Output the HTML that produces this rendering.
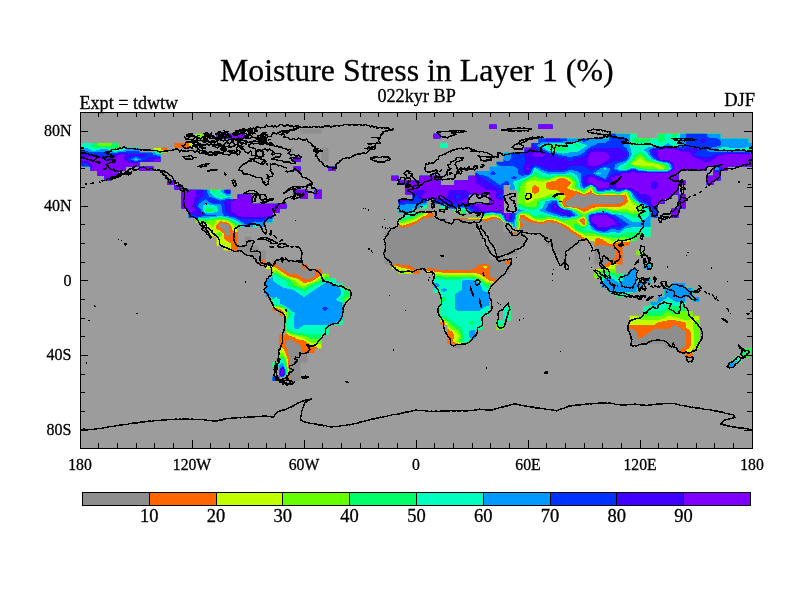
<!DOCTYPE html>
<html><head><meta charset="utf-8"><title>Moisture Stress in Layer 1 (%)</title>
<style>html,body{margin:0;padding:0;background:#fff;width:800px;height:600px;overflow:hidden}svg{display:block}</style>
</head><body>
<svg width="800" height="600" viewBox="0 0 800 600">
<rect width="800" height="600" fill="#fff"/>
<rect x="80" y="112" width="672" height="336" fill="#9c9c9c"/>
<defs><clipPath id="land"><path d="M489.5 124.4H496.5V129.1H489.5ZM538.5 124.4H552.5V129.1H538.5ZM300.5 129.1H321.5V133.8H300.5ZM195.5 133.8H202.5V138.4H195.5ZM216.5 133.8H244.5V138.4H216.5ZM433.5 133.8H440.5V138.4H433.5ZM608.5 133.8H636.5V138.4H608.5ZM657.5 133.8H720.5V138.4H657.5ZM538.5 138.4H748.5V143.1H538.5ZM80 143.1H118.5V147.8H80ZM174.5 143.1H195.5V147.8H174.5ZM440.5 143.1H447.5V147.8H440.5ZM531.5 143.1H752V147.8H531.5ZM80 147.8H139.5V152.4H80ZM153.5 147.8H167.5V152.4H153.5ZM286.5 147.8H293.5V152.4H286.5ZM321.5 147.8H328.5V152.4H321.5ZM524.5 147.8H752V152.4H524.5ZM80 152.4H160.5V157.1H80ZM321.5 152.4H328.5V157.1H321.5ZM503.5 152.4H752V157.1H503.5ZM80 157.1H160.5V161.8H80ZM293.5 157.1H300.5V161.8H293.5ZM321.5 157.1H328.5V161.8H321.5ZM503.5 157.1H752V161.8H503.5ZM80 161.8H139.5V166.4H80ZM496.5 161.8H752V166.4H496.5ZM90.5 166.4H125.5V171.1H90.5ZM139.5 166.4H153.5V171.1H139.5ZM293.5 166.4H300.5V171.1H293.5ZM328.5 166.4H335.5V171.1H328.5ZM489.5 166.4H706.5V171.1H489.5ZM713.5 166.4H727.5V171.1H713.5ZM97.5 171.1H118.5V175.8H97.5ZM475.5 171.1H678.5V175.8H475.5ZM713.5 171.1H720.5V175.8H713.5ZM104.5 175.8H111.5V180.4H104.5ZM391.5 175.8H398.5V180.4H391.5ZM419.5 175.8H440.5V180.4H419.5ZM468.5 175.8H678.5V180.4H468.5ZM706.5 175.8H720.5V180.4H706.5ZM167.5 180.4H174.5V185.1H167.5ZM398.5 180.4H440.5V185.1H398.5ZM454.5 180.4H685.5V185.1H454.5ZM706.5 180.4H713.5V185.1H706.5ZM174.5 185.1H181.5V189.8H174.5ZM405.5 185.1H503.5V189.8H405.5ZM510.5 185.1H678.5V189.8H510.5ZM181.5 189.8H230.5V194.4H181.5ZM293.5 189.8H307.5V194.4H293.5ZM314.5 189.8H321.5V194.4H314.5ZM405.5 189.8H503.5V194.4H405.5ZM517.5 189.8H678.5V194.4H517.5ZM181.5 194.4H230.5V199.1H181.5ZM237.5 194.4H251.5V199.1H237.5ZM300.5 194.4H307.5V199.1H300.5ZM314.5 194.4H321.5V199.1H314.5ZM412.5 194.4H468.5V199.1H412.5ZM489.5 194.4H503.5V199.1H489.5ZM517.5 194.4H671.5V199.1H517.5ZM678.5 194.4H685.5V199.1H678.5ZM181.5 199.1H251.5V203.8H181.5ZM398.5 199.1H426.5V203.8H398.5ZM433.5 199.1H468.5V203.8H433.5ZM489.5 199.1H503.5V203.8H489.5ZM517.5 199.1H664.5V203.8H517.5ZM678.5 199.1H685.5V203.8H678.5ZM181.5 203.8H286.5V208.4H181.5ZM398.5 203.8H426.5V208.4H398.5ZM440.5 203.8H503.5V208.4H440.5ZM517.5 203.8H657.5V208.4H517.5ZM678.5 203.8H685.5V208.4H678.5ZM188.5 208.4H279.5V213.1H188.5ZM398.5 208.4H412.5V213.1H398.5ZM454.5 208.4H503.5V213.1H454.5ZM517.5 208.4H657.5V213.1H517.5ZM671.5 208.4H678.5V213.1H671.5ZM188.5 213.1H272.5V217.8H188.5ZM405.5 213.1H433.5V217.8H405.5ZM482.5 213.1H657.5V217.8H482.5ZM671.5 213.1H678.5V217.8H671.5ZM195.5 217.8H272.5V222.4H195.5ZM398.5 217.8H447.5V222.4H398.5ZM454.5 217.8H650.5V222.4H454.5ZM202.5 222.4H265.5V227.1H202.5ZM398.5 222.4H475.5V227.1H398.5ZM482.5 222.4H503.5V227.1H482.5ZM510.5 222.4H650.5V227.1H510.5ZM209.5 227.1H237.5V231.8H209.5ZM391.5 227.1H475.5V231.8H391.5ZM482.5 227.1H503.5V231.8H482.5ZM517.5 227.1H650.5V231.8H517.5ZM209.5 231.8H237.5V236.4H209.5ZM384.5 231.8H482.5V236.4H384.5ZM489.5 231.8H524.5V236.4H489.5ZM538.5 231.8H650.5V236.4H538.5ZM216.5 236.4H237.5V241.1H216.5ZM244.5 236.4H251.5V241.1H244.5ZM384.5 236.4H482.5V241.1H384.5ZM489.5 236.4H524.5V241.1H489.5ZM545.5 236.4H636.5V241.1H545.5ZM216.5 241.1H237.5V245.8H216.5ZM244.5 241.1H251.5V245.8H244.5ZM384.5 241.1H482.5V245.8H384.5ZM489.5 241.1H524.5V245.8H489.5ZM545.5 241.1H580.5V245.8H545.5ZM594.5 241.1H629.5V245.8H594.5ZM223.5 245.8H258.5V250.4H223.5ZM384.5 245.8H489.5V250.4H384.5ZM496.5 245.8H517.5V250.4H496.5ZM552.5 245.8H573.5V250.4H552.5ZM594.5 245.8H622.5V250.4H594.5ZM244.5 250.4H265.5V255.1H244.5ZM384.5 250.4H489.5V255.1H384.5ZM496.5 250.4H517.5V255.1H496.5ZM552.5 250.4H566.5V255.1H552.5ZM594.5 250.4H622.5V255.1H594.5ZM636.5 250.4H643.5V255.1H636.5ZM251.5 255.1H265.5V259.8H251.5ZM384.5 255.1H489.5V259.8H384.5ZM496.5 255.1H503.5V259.8H496.5ZM559.5 255.1H566.5V259.8H559.5ZM594.5 255.1H622.5V259.8H594.5ZM258.5 259.8H265.5V264.4H258.5ZM272.5 259.8H300.5V264.4H272.5ZM384.5 259.8H510.5V264.4H384.5ZM559.5 259.8H566.5V264.4H559.5ZM594.5 259.8H622.5V264.4H594.5ZM265.5 264.4H307.5V269.1H265.5ZM391.5 264.4H510.5V269.1H391.5ZM601.5 264.4H615.5V269.1H601.5ZM643.5 264.4H650.5V269.1H643.5ZM272.5 269.1H321.5V273.8H272.5ZM398.5 269.1H419.5V273.8H398.5ZM426.5 269.1H510.5V273.8H426.5ZM594.5 269.1H615.5V273.8H594.5ZM629.5 269.1H636.5V273.8H629.5ZM272.5 273.8H328.5V278.4H272.5ZM433.5 273.8H503.5V278.4H433.5ZM594.5 273.8H636.5V278.4H594.5ZM265.5 278.4H335.5V283.1H265.5ZM433.5 278.4H496.5V283.1H433.5ZM601.5 278.4H636.5V283.1H601.5ZM643.5 278.4H650.5V283.1H643.5ZM265.5 283.1H342.5V287.8H265.5ZM433.5 283.1H489.5V287.8H433.5ZM601.5 283.1H643.5V287.8H601.5ZM671.5 283.1H685.5V287.8H671.5ZM265.5 287.8H349.5V292.4H265.5ZM433.5 287.8H489.5V292.4H433.5ZM608.5 287.8H636.5V292.4H608.5ZM664.5 287.8H692.5V292.4H664.5ZM265.5 292.4H349.5V297.1H265.5ZM440.5 292.4H489.5V297.1H440.5ZM615.5 292.4H629.5V297.1H615.5ZM664.5 292.4H692.5V297.1H664.5ZM272.5 297.1H349.5V301.8H272.5ZM440.5 297.1H489.5V301.8H440.5ZM657.5 297.1H685.5V301.8H657.5ZM692.5 297.1H699.5V301.8H692.5ZM272.5 301.8H342.5V306.4H272.5ZM440.5 301.8H489.5V306.4H440.5ZM650.5 301.8H685.5V306.4H650.5ZM272.5 306.4H342.5V311.1H272.5ZM440.5 306.4H489.5V311.1H440.5ZM503.5 306.4H510.5V311.1H503.5ZM643.5 306.4H685.5V311.1H643.5ZM279.5 311.1H342.5V315.8H279.5ZM440.5 311.1H489.5V315.8H440.5ZM503.5 311.1H510.5V315.8H503.5ZM643.5 311.1H692.5V315.8H643.5ZM286.5 315.8H342.5V320.4H286.5ZM440.5 315.8H482.5V320.4H440.5ZM503.5 315.8H510.5V320.4H503.5ZM629.5 315.8H699.5V320.4H629.5ZM286.5 320.4H342.5V325.1H286.5ZM440.5 320.4H482.5V325.1H440.5ZM496.5 320.4H503.5V325.1H496.5ZM629.5 320.4H699.5V325.1H629.5ZM286.5 325.1H328.5V329.8H286.5ZM447.5 325.1H482.5V329.8H447.5ZM496.5 325.1H503.5V329.8H496.5ZM629.5 325.1H699.5V329.8H629.5ZM286.5 329.8H328.5V334.4H286.5ZM447.5 329.8H475.5V334.4H447.5ZM629.5 329.8H699.5V334.4H629.5ZM279.5 334.4H321.5V339.1H279.5ZM447.5 334.4H475.5V339.1H447.5ZM629.5 334.4H699.5V339.1H629.5ZM279.5 339.1H321.5V343.8H279.5ZM447.5 339.1H468.5V343.8H447.5ZM629.5 339.1H699.5V343.8H629.5ZM279.5 343.8H321.5V348.4H279.5ZM454.5 343.8H461.5V348.4H454.5ZM664.5 343.8H699.5V348.4H664.5ZM279.5 348.4H314.5V353.1H279.5ZM678.5 348.4H692.5V353.1H678.5ZM741.5 348.4H752V353.1H741.5ZM279.5 353.1H307.5V357.8H279.5ZM685.5 353.1H692.5V357.8H685.5ZM741.5 353.1H748.5V357.8H741.5ZM279.5 357.8H307.5V362.4H279.5ZM734.5 357.8H741.5V362.4H734.5ZM272.5 362.4H300.5V367.1H272.5ZM727.5 362.4H734.5V367.1H727.5ZM279.5 367.1H300.5V371.8H279.5ZM279.5 371.8H300.5V376.4H279.5ZM272.5 376.4H279.5V381.1H272.5ZM286.5 376.4H300.5V381.1H286.5Z"/></clipPath></defs>
<g clip-path="url(#land)" shape-rendering="crispEdges">
<rect x="80" y="112" width="672" height="336" fill="#8e8e8e"/>
<path fill="#ff6600" fill-rule="evenodd" d="M80 112.8L87 112.8L94 112.8L101 112.8L108 112.8L115 112.8L122 112.8L129 112.8L136 112.8L143 112.8L150 112.8L157 112.8L164 112.8L171 112.8L178 112.8L185 112.8L192 112.8L199 112.8L206 112.8L213 112.8L220 112.8L227 112.8L234 112.8L241 112.8L248 112.8L255 112.8L262 112.8L269 112.8L275.5 112.8L275.5 117.4L275.5 122.1L275.5 126.8L275.5 131.4L275.5 136.1L269 140.4L268.5 140.8L268.5 145.4L262 149.7L261.5 150.1L261.5 154.8L261.5 159.4L255 163.7L254.5 164.1L255 164.5L262 164.5L262.5 164.1L269 159.8L276 159.8L276.5 159.4L283 155.1L290 155.1L290.5 154.8L297 150.5L304 150.5L310.5 154.8L311 155.1L317.5 159.4L317.5 164.1L318 164.5L325 164.5L325.5 164.1L332 159.8L339 159.8L339.5 159.4L346 155.1L353 155.1L360 155.1L360.5 154.8L367 150.5L367.5 150.1L374 145.8L374.5 145.4L374.5 140.8L374.5 136.1L374.5 131.4L374.5 126.8L374.5 122.1L374.5 117.4L374.5 112.8L381 112.8L388 112.8L395 112.8L402 112.8L409 112.8L416 112.8L423 112.8L430 112.8L437 112.8L444 112.8L451 112.8L458 112.8L465 112.8L472 112.8L479 112.8L486 112.8L493 112.8L500 112.8L507 112.8L514 112.8L521 112.8L528 112.8L535 112.8L542 112.8L549 112.8L556 112.8L563 112.8L570 112.8L577 112.8L584 112.8L591 112.8L598 112.8L605 112.8L612 112.8L619 112.8L626 112.8L633 112.8L640 112.8L647 112.8L654 112.8L661 112.8L668 112.8L675 112.8L682 112.8L689 112.8L696 112.8L703 112.8L710 112.8L717 112.8L724 112.8L731 112.8L738 112.8L745 112.8L752 112.8L759 112.8L759 117.4L759 122.1L759 126.8L759 131.4L759 136.1L759 140.8L759 145.4L759 150.1L759 154.8L759 159.4L759 164.1L759 168.8L759 173.4L759 178.1L759 182.8L759 187.4L759 192.1L759 196.8L759 201.4L759 206.1L759 210.8L759 215.4L759 220.1L759 224.8L759 229.4L759 234.1L759 238.8L759 243.4L759 248.1L759 252.8L759 257.4L759 262.1L759 266.8L759 271.4L759 276.1L759 280.8L759 285.4L759 290.1L759 294.8L759 299.4L759 304.1L759 308.8L759 313.4L759 318.1L759 322.8L759 327.4L759 332.1L759 336.8L759 341.4L759 346.1L759 350.8L759 355.4L759 360.1L759 364.8L759 369.4L759 374.1L759 378.8L759 383.4L759 388.1L759 392.8L759 397.4L759 402.1L759 406.8L759 411.4L759 416.1L759 420.8L759 425.4L759 430.1L759 434.8L759 439.4L759 444.1L759 448.8L759 453.4L752 453.4L745 453.4L738 453.4L731 453.4L724 453.4L717 453.4L710 453.4L703 453.4L696 453.4L689 453.4L682 453.4L675 453.4L668 453.4L661 453.4L654 453.4L647 453.4L640 453.4L633 453.4L626 453.4L619 453.4L612 453.4L605 453.4L602.1 453.4L602.1 448.8L605 446.8L609.1 444.1L609.1 439.4L612 437.5L616.1 434.8L616.1 430.1L616.1 425.4L619 423.5L623.1 420.8L623.1 416.1L623.1 411.4L626 409.5L630.1 406.8L630.1 402.1L633 400.2L637.1 397.4L637.1 392.8L640 390.8L644.1 388.1L644.1 383.4L647 381.5L651.1 378.8L654 376.8L658.1 374.1L658.1 369.4L661 367.5L665.1 364.8L665.1 360.1L668 358.2L672.1 355.4L675 353.5L679.1 350.8L682 348.8L686.1 346.1L686.1 341.4L686.1 336.8L686.1 332.1L682 329.4L679.1 327.4L675 324.7L670.9 327.4L668 329.4L661 329.4L654 329.4L649.9 332.1L647 334L642.9 336.8L640 338.7L637.1 336.8L637.1 332.1L633 329.4L626 329.4L619 329.4L612 329.4L605 329.4L598 329.4L591 329.4L584 329.4L577 329.4L570 329.4L569.1 332.1L569.1 336.8L569.1 341.4L568.5 346.1L563 349.7L561.5 350.8L561.5 355.4L561.5 360.1L561.5 364.8L561.5 369.4L561.5 374.1L561.5 378.8L556 382.4L554.5 383.4L554.5 388.1L554.5 392.8L554.5 397.4L554.5 402.1L549 405.7L543.5 402.1L542 401.1L536.5 397.4L536.5 392.8L535 391.7L529.5 388.1L528 387.1L522.5 383.4L521 382.8L514.9 378.8L514 378.1L507.9 374.1L507 373.5L500.9 369.4L500 368.8L493.9 364.8L493 364.1L486.9 360.1L486 359.5L479.9 355.4L479 354.8L472.9 350.8L472 350.1L465.9 346.1L465 345.5L458 345.1L453.9 346.1L451 348L446.9 350.8L444 352.7L439.9 355.4L437 357.4L432.9 360.1L430 362L425.9 364.8L423 366.7L418.9 369.4L416 371.4L411.9 374.1L409 376L404.9 378.8L402 380.7L397.9 383.4L395 385.4L388 385.4L385.1 383.4L381 381.9L374 381.9L369.2 378.8L367 377.3L360 377.3L355.2 374.1L353 372.6L348.2 369.4L346 367.9L339 366.7L336.1 364.8L332 362L325 362L322.1 360.1L318 357.4L315.1 355.4L311 352.7L304 352.7L301.1 350.8L301.1 346.1L297 343.4L294.1 341.4L290 338.7L285.9 341.4L285.9 346.1L287.8 350.8L288.5 355.4L289.1 360.1L289.2 364.8L289.5 369.4L289.5 374.1L289.3 378.8L289.3 383.4L289.3 388.1L289.3 392.8L289.3 397.4L289.3 402.1L289.3 406.8L289.3 411.4L289.3 416.1L289.3 420.8L289.3 425.4L289.3 430.1L289.3 434.8L289.3 439.4L289.3 444.1L289.3 448.8L289.3 453.4L283 453.4L276 453.4L269 453.4L262 453.4L255 453.4L248 453.4L241 453.4L234 453.4L227 453.4L220 453.4L213 453.4L206 453.4L199 453.4L192 453.4L185 453.4L178 453.4L171 453.4L164 453.4L157 453.4L150 453.4L143 453.4L136 453.4L129 453.4L122 453.4L115 453.4L108 453.4L101 453.4L94 453.4L87 453.4L80 453.4L80 448.8L80 444.1L80 439.4L80 434.8L80 430.1L80 425.4L80 420.8L80 416.1L80 411.4L80 406.8L80 402.1L80 397.4L80 392.8L80 388.1L80 383.4L80 378.8L80 374.1L80 369.4L80 364.8L80 360.1L80 355.4L80 350.8L80 346.1L80 341.4L80 336.8L80 332.1L80 327.4L80 322.8L80 318.1L80 313.4L80 308.8L80 304.1L80 299.4L80 294.8L80 290.1L80 285.4L80 280.8L80 276.1L80 271.4L80 266.8L80 262.1L80 257.4L80 252.8L80 248.1L80 243.4L80 238.8L80 234.1L80 229.4L80 224.8L80 220.1L80 215.4L80 210.8L80 206.1L80 201.4L80 196.8L80 192.1L80 187.4L80 182.8L80 178.1L80 173.4L80 168.8L80 164.1L80 159.4L80 154.8L80 150.1L80 145.4L80 140.8L80 136.1L80 131.4L80 126.8L80 122.1L80 117.4ZM220 223.3L218.5 224.8L220 227.5L222.9 229.4L225.8 234.1L227 236.8L231.1 234.1L229.2 229.4L228.5 224.8L227 223.7ZM360 214.9L359.5 215.4L353 219.7L352.5 220.1L346 224.4L345.5 224.8L339 229.1L338.5 229.4L332 233.7L325 233.7L318 233.7L311 233.6L310.2 234.1L304 238.2L297 238.2L296.2 238.8L290 242.9L283 242.9L276.8 238.8L276 238.2L269 238.2L262 238.2L255.8 234.1L255 233.5L248 233.6L243.9 234.1L243.9 238.8L243.9 243.4L241 245.4L236.9 248.1L236.9 252.8L236.9 257.4L234 259.4L231.8 262.1L231.8 266.8L231.8 271.4L227 274.6L224.8 276.1L227 276.6L234 276.6L234.8 276.1L241 272L245.1 271.4L248 269.5L252.1 266.8L255 264.8L259.1 262.1L262 260.2L269 260.2L271.9 262.1L276 264.8L278.9 266.8L283 269.5L285.9 271.4L290 274.2L297 274.2L299.9 276.1L304 278.8L311 278.8L315.1 276.1L315.1 271.4L311 268.7L304 268.7L301.1 266.8L304 264.8L308.1 262.1L311 260.2L315.1 257.4L318 255.5L322.1 252.8L325 250.8L329.1 248.1L329.1 243.4L332 241.5L339 241.5L341.9 243.4L341.9 248.1L346 250.8L348.9 252.8L348.9 257.4L353 258.5L358.5 262.1L359.1 266.8L360 267.4L366.1 271.4L367 272.2L372.8 276.1L374 277.6L376.2 276.1L381 272.9L383.2 271.4L388 268.2L390.2 266.8L395 263.6L402 264.8L409 264.8L411.9 266.8L416 269.5L423 269.5L430 268.2L437 269.5L444 269.5L451 269.5L458 269.5L465 269.5L472 269.5L476.1 266.8L479 264.8L486 263.6L490.8 266.8L488.9 271.4L488.9 276.1L493 278.8L500 278.8L502.9 280.8L507 283.5L509.9 285.4L514 288.2L516.9 290.1L521 290.7L528 290.7L535 290.7L542 290.7L549 290.7L555.1 294.8L556 295.4L556.8 294.8L557.5 290.1L563 286.5L564.5 285.4L570 281.8L571.5 280.8L571.5 276.1L577 272.5L578.5 271.4L584 267.8L591 267.8L598 267.8L602.1 266.8L605 264.8L609.1 262.1L612 260.2L616.1 257.4L616.1 252.8L616.1 248.1L612 246.6L605 245.4L598 245.4L591 246.6L586.2 243.4L584 240.7L581.1 238.8L577 236L574.1 234.1L570 231.4L567.1 229.4L563 226.7L560.1 224.8L556 223.3L549 222L542 223.7L535 223.3L528 222L525.1 220.1L521 217.4L520.3 220.1L521 222.8L523.9 224.8L521 226.7L520.2 229.4L514 233.6L507.8 229.4L507.8 224.8L507 224.4L500.5 220.1L500 219.3L493 218.6L488.9 220.1L486 222L483.1 220.1L479 219.7L472 219.6L465 219.3L458 219.1L452.5 215.4L451 215L444 214.8L439.9 215.4L437 217.4L430 217.4L423 218.6L420.8 220.1L416 223.3L411.9 224.8L409 226.7L402 227.9L397.2 224.8L395 224L388 224L382.2 220.1L381 219.6L374 219.6L367.8 215.4L367 214.9ZM577 194L572.9 196.8L570 198.7L565.9 201.4L565.9 206.1L570 206.6L577 207.1L584 208.8L588.1 206.1L591 204.2L598 204.2L605 204.2L612 204.2L619 204.2L623.1 201.4L623.1 196.8L619 196.2L612 196L605 196.1L598 196.2L591 194L584 195.7ZM584 219.1L581.8 220.1L584 222.8L584.5 220.1ZM504.1 262.1L507 260.2L514 260.2L521 260.2L523.9 262.1L521 264L514 264L507 264Z"/>
<path fill="#bfff00" fill-rule="evenodd" d="M80 112.8L87 112.8L94 112.8L101 112.8L108 112.8L115 112.8L122 112.8L129 112.8L136 112.8L143 112.8L150 112.8L153.5 112.8L153.5 117.4L153.5 122.1L157 124.4L160.5 126.8L160.5 131.4L160.5 136.1L160.5 140.8L160.5 145.4L160.5 150.1L164 150.6L170.3 154.8L171 155.1L177.6 159.4L178 159.7L184.6 164.1L185 164.4L188.5 164.1L188.5 159.4L188.5 154.8L188.5 150.1L188.5 145.4L188.5 140.8L186.8 136.1L185 134.9L179.8 131.4L178 130.3L172.8 126.8L171 125.6L165.8 122.1L165.8 117.4L164 116.3L158.8 112.8L164 112.8L171 112.8L178 112.8L185 112.8L192 112.8L199 112.8L206 112.8L213 112.8L220 112.8L227 112.8L234 112.8L241 112.8L248 112.8L255 112.8L262 112.8L269 112.8L274.7 112.8L274.7 117.4L274.7 122.1L274.7 126.8L274.7 131.4L274.7 136.1L269 139.9L267.7 140.8L267.7 145.4L262 149.2L260.7 150.1L260.7 154.8L260.7 159.4L255 163.2L253.7 164.1L255 165L262 165L263.3 164.1L269 160.3L276 160.3L277.3 159.4L283 155.6L290 155.6L291.3 154.8L297 151L304 151L309.7 154.8L311 155.6L316.7 159.4L316.7 164.1L318 165L325 165L326.3 164.1L332 160.3L339 160.3L340.3 159.4L346 155.6L353 155.6L360 155.6L361.3 154.8L367 151L368.3 150.1L374 146.3L375.3 145.4L375.3 140.8L375.3 136.1L375.3 131.4L375.3 126.8L375.3 122.1L375.3 117.4L375.3 112.8L381 112.8L388 112.8L395 112.8L402 112.8L409 112.8L416 112.8L423 112.8L430 112.8L437 112.8L444 112.8L451 112.8L458 112.8L465 112.8L472 112.8L479 112.8L486 112.8L493 112.8L500 112.8L507 112.8L514 112.8L521 112.8L528 112.8L535 112.8L542 112.8L549 112.8L556 112.8L563 112.8L570 112.8L577 112.8L584 112.8L591 112.8L598 112.8L605 112.8L612 112.8L619 112.8L626 112.8L633 112.8L640 112.8L647 112.8L654 112.8L661 112.8L668 112.8L675 112.8L682 112.8L689 112.8L696 112.8L703 112.8L710 112.8L717 112.8L724 112.8L731 112.8L738 112.8L745 112.8L752 112.8L759 112.8L759 117.4L759 122.1L759 126.8L759 131.4L759 136.1L759 140.8L759 145.4L759 150.1L759 154.8L759 159.4L759 164.1L759 168.8L759 173.4L759 178.1L759 182.8L759 187.4L759 192.1L759 196.8L759 201.4L759 206.1L759 210.8L759 215.4L759 220.1L759 224.8L759 229.4L759 234.1L759 238.8L759 243.4L759 248.1L759 252.8L759 257.4L759 262.1L759 266.8L759 271.4L759 276.1L759 280.8L759 285.4L759 290.1L759 294.8L759 299.4L759 304.1L759 308.8L759 313.4L759 318.1L759 322.8L759 327.4L759 332.1L759 336.8L759 341.4L759 346.1L759 350.8L759 355.4L759 360.1L759 364.8L759 369.4L759 374.1L759 378.8L759 383.4L759 388.1L759 392.8L759 397.4L759 402.1L759 406.8L759 411.4L759 416.1L759 420.8L759 425.4L759 430.1L759 434.8L759 439.4L759 444.1L759 448.8L759 453.4L752 453.4L745 453.4L738 453.4L731 453.4L724 453.4L717 453.4L710 453.4L703 453.4L696 453.4L689 453.4L682 453.4L675 453.4L668 453.4L661.7 453.4L661.7 448.8L668 444.6L668.7 444.1L668.7 439.4L668.7 434.8L675 430.6L675.7 430.1L675.7 425.4L675.7 420.8L682 416.6L682.7 416.1L682.7 411.4L682.7 406.8L689 402.6L689.7 402.1L689.7 397.4L689.7 392.8L696 388.6L696.7 388.1L696.7 383.4L696.7 378.8L703 374.6L703.7 374.1L703.7 369.4L703.7 364.8L710 360.6L710.7 360.1L710 358.9L704.8 355.4L703 354.3L696 353.1L689 353.1L685.5 350.8L689 348.4L690.8 346.1L690.8 341.4L690.8 336.8L690.8 332.1L689 329.8L685.5 327.4L685.5 322.8L682 321.6L675 320.4L668 320.4L661 321.6L657.5 322.8L654 325.1L647 325.1L640 325.1L633 325.1L626 325.1L619 325.1L612 325.1L605 325.1L598 325.1L591 325.1L584 325.1L577 325.1L570 325.1L569.1 327.4L567.7 332.1L567.7 336.8L567.7 341.4L566.3 346.1L563 348.3L559.3 350.8L559.3 355.4L559.3 360.1L559.3 364.8L559.3 369.4L559.3 374.1L559.3 378.8L556 381L552.3 383.4L552.3 388.1L552.3 392.8L552.3 397.4L552.3 402.1L549 404.3L545.7 402.1L542 399.6L538.7 397.4L538.7 392.8L535 390.3L531.7 388.1L528 385.6L524.7 383.4L521 381.9L516.3 378.8L514 377.2L509.3 374.1L507 372.6L502.3 369.4L500 367.9L495.3 364.8L493 363.2L488.3 360.1L486 358.6L481.3 355.4L479 353.9L474.3 350.8L472 349.2L467.3 346.1L465 344.6L458 343.6L452.8 341.4L454.5 336.8L452.8 332.1L451 330.9L445.8 327.4L445.2 322.8L444 322L437 322L430 322L423 322L416 322L409 322L402 322L395 322L394.1 322.8L394.1 327.4L394.1 332.1L394.1 336.8L394.1 341.4L394.1 346.1L394.1 350.8L388 354.8L384.5 355.4L384.5 360.1L384.5 364.8L384.5 369.4L384.5 374.1L384.5 378.8L381 379.8L374 379.8L372.4 378.8L367 375.2L360 375.2L358.4 374.1L353 370.5L351.4 369.4L346 365.8L342.5 364.8L339 362.4L335.5 360.1L332 357.8L328.5 355.4L325 353.1L321.5 350.8L318 348.4L314.5 346.1L311 344.9L305.8 341.4L304 340.3L297 339.1L293.5 336.8L290 336L284.2 332.1L283 331.5L276 331.5L269.9 327.4L269.9 322.8L276 318.7L283 318.7L283.9 318.1L284.2 313.4L283 311.1L279.5 308.8L276 308.2L269 308.2L262 308.2L255 308.3L248 308.3L247.3 308.8L241 313L234 313L227 313L226.3 313.4L220 317.6L213 317.6L206 317.6L205.3 318.1L199 322.3L192 322.3L185 322.3L184.3 322.8L178 327L171 327L164 327L163.3 327.4L157 331.6L150 331.6L143 331.6L142.3 332.1L136 336.3L129 336.3L122 336.3L121.3 336.8L122 337.3L129 337.3L136 337.3L143 337.3L150 337.3L157 337.3L164 337.3L171 337.3L178 337.3L185 337.3L192 337.3L198.1 341.4L199 342L206 342L213 342L220 342L226.1 346.1L227 346.7L234 346.7L241 346.7L248 346.7L255 348.4L262 348.4L269 348.4L276 348.4L283 348.4L284.6 350.8L286.3 355.4L287.7 360.1L288.1 364.8L288.7 369.4L288.7 374.1L288.3 378.8L288.3 383.4L288.3 388.1L288.3 392.8L288.3 397.4L288.3 402.1L288.3 406.8L288.3 411.4L288.3 416.1L288.3 420.8L288.3 425.4L288.3 430.1L288.3 434.8L288.3 439.4L288.3 444.1L288.3 448.8L288.3 453.4L283 453.4L276 453.4L269 453.4L262 453.4L255 453.4L248 453.4L241 453.4L234 453.4L227 453.4L220 453.4L213 453.4L206 453.4L199 453.4L192 453.4L185 453.4L178 453.4L171 453.4L164 453.4L157 453.4L150 453.4L143 453.4L136 453.4L129 453.4L122 453.4L115 453.4L108 453.4L101 453.4L94 453.4L87 453.4L80 453.4L80 448.8L80 444.1L80 439.4L80 434.8L80 430.1L80 425.4L80 420.8L80 416.1L80 411.4L80 406.8L80 402.1L80 397.4L80 392.8L80 388.1L80 383.4L80 378.8L80 374.1L80 369.4L80 364.8L80 360.1L80 355.4L80 350.8L80 346.1L80 341.4L80 336.8L80 332.1L80 327.4L80 322.8L80 318.1L80 313.4L80 308.8L80 304.1L80 299.4L80 294.8L80 290.1L80 285.4L80 280.8L80 276.1L80 271.4L80 266.8L80 262.1L80 257.4L80 252.8L80 248.1L80 243.4L80 238.8L80 234.1L80 229.4L80 224.8L80 220.1L80 215.4L80 210.8L80 206.1L80 201.4L80 196.8L80 192.1L80 187.4L80 182.8L80 178.1L80 173.4L80 168.8L80 164.1L80 159.4L80 154.8L80 150.1L80 145.4L80 140.8L80 136.1L80 131.4L80 126.8L80 122.1L80 117.4ZM430 210.2L429.1 210.8L426.5 215.4L423 216.5L417.6 220.1L416 221.2L409 223.6L405.5 224.8L402 225.8L400.4 224.8L395 222.9L388 222.9L383.8 220.1L381 218.8L374 218.8L368.9 215.4L367 214.2L360 214.2L358.7 215.4L353 219.2L351.7 220.1L346 223.9L344.7 224.8L339 228.6L337.7 229.4L332 233.2L325 233.2L318 233.2L311 232.8L309.1 234.1L304 237.5L297 237.5L295.1 238.8L290 242.2L283 242.2L277.9 238.8L276 237.5L269 237.5L262 237.5L256.9 234.1L255 232.6L248 233L241 231.8L234 231.8L232.4 229.4L230.7 224.8L227 222.3L220 221.2L216.3 224.8L216.5 229.4L220 230.2L224.2 234.1L223.5 238.8L227 241.1L230.5 243.4L230.5 248.1L230.5 252.8L230.5 257.4L228.6 262.1L228.6 266.8L228.6 271.4L227 272.5L221.6 276.1L227 277.4L234 277.4L235.9 276.1L241 272.7L248 271.9L255 271.9L258.5 271.4L262 269.1L265.5 266.8L269 264.4L272.5 266.8L276 267.9L281.2 271.4L283 272.6L288.2 276.1L290 276.9L297 278.4L300.5 280.8L304 283.1L311 281.5L312.8 280.8L318 277.3L319.8 276.1L325 272.6L326.8 271.4L332 267.9L333.8 266.8L339 263.3L340.8 262.1L346 258.6L353 259.9L356.3 262.1L357.7 266.8L360 268.3L364.7 271.4L367 273.3L371.2 276.1L374 279.7L379.4 276.1L381 275L386.4 271.4L388 270.4L393.4 266.8L395 265.7L398.5 266.8L402 267.9L409 269.1L412.5 271.4L412.5 276.1L412.5 280.8L412.5 285.4L416 286L416.7 285.4L416.9 280.8L423 276.7L426.5 276.1L426.5 271.4L430 270.4L433.5 271.4L437 272.2L444 272.6L451 272.6L458 272.6L465 272.6L472 272.6L479 273.8L482.5 276.1L486 278.4L489.5 280.8L493 281.5L498.8 285.4L500 286L506.1 290.1L507 290.6L514 290.7L521 291.6L528 291.6L535 291.6L542 291.6L549 291.6L553.7 294.8L556 296.3L557.9 294.8L559.7 290.1L563 287.9L566.7 285.4L570 283.2L573.7 280.8L573.7 276.1L577 273.9L580.7 271.4L584 269.2L591 269.2L598 269.2L605 267.5L608.5 266.8L612 264.4L619 264.4L622.5 266.8L626 267.2L626.7 266.8L633 262.6L633.7 262.1L633 260.9L627.8 257.4L627.8 252.8L633 249.3L634.8 248.1L634.2 243.4L633 242.7L626 242.3L619 242.3L615.5 243.4L612 244.5L608.5 243.4L605 241.1L601.5 238.8L598 238L594.5 238.8L594.5 243.4L591 244.5L589.4 243.4L587.5 238.8L584 237.6L578.8 234.1L577 233.3L571.2 229.4L570 228.3L564.8 224.8L563 224L556 221.2L552.5 220.1L549 219.5L547.2 220.1L542 222.3L535 221.2L531.5 220.1L528 217.8L524.5 215.4L521 215L520.4 215.4L519.3 220.1L520.3 224.8L519.1 229.4L514 232.8L508.9 229.4L508.9 224.8L507 223.9L501.3 220.1L500 218.2L493 216.5L486 218.9L479 219.1L472 219L465 218.2L458 217.6L454.7 215.4L451 214.3L444 213.9L437.9 210.8L437 210.4ZM535 185.1L531.5 187.4L531.5 192.1L535 194.4L538.5 192.1L538.5 187.4ZM563 177.6L559.5 178.1L556 180.4L549 182L545.5 182.8L545.5 187.4L549 189.8L556 189.8L559.5 192.1L563 194.4L566.5 196.8L563 199.1L562.4 201.4L562.6 206.1L563 206.4L570 207.2L577 208.6L582.2 210.8L584 211.9L587.5 210.8L591 208.4L598 206.9L605 206.7L612 207.3L619 207.3L622.5 206.1L626 203.8L627.8 201.4L626.7 196.8L626 194.4L619 195.5L612 194.9L605 195.2L598 195.5L591.7 192.1L591 189.8L589.2 192.1L584 194.3L578.8 192.1L577 191.3L570 189.8L566.5 187.4L570 185.1L571.2 182.8L570 181.6L564.8 178.1ZM584 217.6L578.6 220.1L582.8 224.8L584 225.3L584.6 224.8L585.3 220.1ZM482.5 266.8L486 265.7L487.6 266.8L486 269.1Z"/>
<path fill="#66ff00" fill-rule="evenodd" d="M80 112.8L87 112.8L94 112.8L101 112.8L108 112.8L115 112.8L122 112.8L129 112.8L136 112.8L143 112.8L148.2 112.8L149.1 117.4L149.1 122.1L149.1 126.8L149.1 131.4L149.1 136.1L149.1 140.8L149.1 145.4L150 145.9L156.3 150.1L157 150.7L164 151.5L168.9 154.8L171 155.6L176.7 159.4L178 160.3L183.7 164.1L185 165L192 164.4L199 164.4L206 164.6L213 165.3L220 164.9L220.5 164.1L220.5 159.4L220 159.1L213.5 154.8L213.5 150.1L213 149.8L206.5 145.4L206 143.1L199 143.1L195.5 140.8L192 138.4L190.2 136.1L185 132.6L183.2 131.4L178 127.9L176.2 126.8L171 123.3L169.2 122.1L169.2 117.4L164 113.9L162.2 112.8L164 112.8L171 112.8L178 112.8L185 112.8L192 112.8L199 112.8L206 112.8L213 112.8L220 112.8L227 112.8L234 112.8L241 112.8L248 112.8L255 112.8L262 112.8L269 112.8L273.9 112.8L273.9 117.4L273.9 122.1L273.9 126.8L273.9 131.4L273.9 136.1L269 139.4L266.9 140.8L266.9 145.4L262 148.7L259.9 150.1L259.9 154.8L259.9 159.4L255 162.7L252.9 164.1L255 165.5L262 165.5L264.1 164.1L269 160.8L276 160.8L278.1 159.4L283 156.1L290 156.1L292.1 154.8L297 151.5L304 151.5L308.9 154.8L311 156.1L315.9 159.4L315.9 164.1L318 165.5L325 165.5L327.1 164.1L332 160.8L339 160.8L341.1 159.4L346 156.1L353 156.1L360 156.1L362.1 154.8L367 151.5L369.1 150.1L374 146.8L376.1 145.4L376.1 140.8L376.1 136.1L376.1 131.4L376.1 126.8L376.1 122.1L376.1 117.4L376.1 112.8L381 112.8L388 112.8L395 112.8L402 112.8L409 112.8L416 112.8L423 112.8L430 112.8L437 112.8L444 112.8L451 112.8L458 112.8L465 112.8L472 112.8L479 112.8L486 112.8L493 112.8L500 112.8L507 112.8L514 112.8L521 112.8L528 112.8L535 112.8L542 112.8L549 112.8L556 112.8L563 112.8L570 112.8L577 112.8L584 112.8L591 112.8L598 112.8L605 112.8L612 112.8L619 112.8L626 112.8L633 112.8L640 112.8L647 112.8L654 112.8L661 112.8L668 112.8L675 112.8L682 112.8L689 112.8L696 112.8L703 112.8L710 112.8L717 112.8L724 112.8L731 112.8L738 112.8L745 112.8L752 112.8L759 112.8L759 117.4L759 122.1L759 126.8L759 131.4L759 136.1L759 140.8L759 145.4L759 150.1L759 154.8L759 159.4L759 164.1L759 168.8L759 173.4L759 178.1L759 182.8L759 187.4L759 192.1L759 196.8L759 201.4L759 206.1L759 210.8L759 215.4L759 220.1L759 224.8L759 229.4L759 234.1L759 238.8L759 243.4L759 248.1L759 252.8L759 257.4L759 262.1L759 266.8L759 271.4L759 276.1L759 280.8L759 285.4L759 290.1L759 294.8L759 299.4L759 304.1L759 308.8L759 313.4L759 318.1L759 322.8L759 327.4L759 332.1L759 336.8L759 341.4L759 346.1L759 350.8L759 355.4L759 360.1L759 364.8L759 369.4L759 374.1L759 378.8L759 383.4L759 388.1L759 392.8L759 397.4L759 402.1L759 406.8L759 411.4L759 416.1L759 420.8L759 425.4L759 430.1L759 434.8L759 439.4L759 444.1L759 448.8L759 453.4L752 453.4L745 453.4L738 453.4L731 453.4L724 453.4L717 453.4L710 453.4L703 453.4L696 453.4L689 453.4L682 453.4L675 453.4L668 453.4L663.1 453.4L663.1 448.8L668 445.5L670.1 444.1L670.1 439.4L670.1 434.8L675 431.5L677.1 430.1L677.1 425.4L677.1 420.8L682 417.5L684.1 416.1L684.1 411.4L684.1 406.8L689 403.5L691.1 402.1L691.1 397.4L691.1 392.8L696 389.5L698.1 388.1L698.1 383.4L698.1 378.8L703 375.5L705.1 374.1L705.1 369.4L705.1 364.8L710 361.5L712.1 360.1L710 356.6L708.2 355.4L703 351.9L699.5 350.8L696 348.4L694.2 346.1L694.2 341.4L694.2 336.8L694.2 332.1L692.5 327.4L692.5 322.8L696 320.4L703 320.4L710 320.4L717 320.4L724 320.4L731 320.4L738 320.4L745 319.3L746.8 318.1L746.8 313.4L745 312.8L738 312.8L731 312.8L724 312.8L717 312.8L710 312.8L703 311.1L699.5 313.4L696 315.8L692.5 318.1L689 320.4L682 319.3L678.5 318.1L675 316.9L668 315.8L664.5 318.1L661 319.3L654 320.4L647 320.4L640 320.4L636.5 318.1L636.5 313.4L634.2 308.8L633 308L626 308L619 307.6L617.2 308.8L612 312.3L605 312.3L603.2 313.4L598 316.9L591 316.9L584 317.5L583.1 318.1L577 322.2L570 322.2L568.8 322.8L567.4 327.4L566.4 332.1L566.4 336.8L566.4 341.4L564.1 346.1L563 346.8L557.1 350.8L557.1 355.4L557.1 360.1L557.1 364.8L557.1 369.4L557.1 374.1L557.1 378.8L556 379.5L550.1 383.4L550.1 388.1L550.1 392.8L550.1 397.4L550.1 402.1L549 402.8L547.9 402.1L542 398.2L540.9 397.4L540.9 392.8L535 388.8L533.9 388.1L528 384.2L526.9 383.4L521 381L517.6 378.8L514 376.3L510.6 374.1L507 371.7L503.6 369.4L500 367L496.6 364.8L493 362.3L489.6 360.1L486 357.7L482.6 355.4L479 353L475.6 350.8L472 348.3L468.6 346.1L465 343.7L458 342.2L456.2 341.4L458 339.1L459.2 336.8L458 334.4L456.2 332.1L451 328.6L449.2 327.4L447.5 322.8L444 320.4L437 320.4L430 320.4L423 320.4L416 320.4L409 320.4L402 320.4L395 320.4L392.4 322.8L392.4 327.4L392.4 332.1L392.4 336.8L392.4 341.4L392.4 346.1L392.4 350.8L388 353.7L381 354.7L374 354.7L368.2 350.8L367 350L360 350L354.2 346.1L353 345.3L346 345.3L339 345.3L332 343.8L325 343.8L318 343.8L311 342.6L309.2 341.4L304 337.9L300.5 336.8L297 336L290 334.4L286.5 332.1L283 330.3L276 330.3L271.6 327.4L271.6 322.8L276 319.8L283 319.8L285.6 318.1L286.5 313.4L283.9 308.8L283 308.2L276 307L269 307L262 307L255 307.4L248 307.4L245.9 308.8L241 312L234 312L227 312L224.9 313.4L220 316.7L213 316.7L206 316.7L203.9 318.1L199 321.4L192 321.4L185 321.4L182.9 322.8L178 326L171 326L164 326L161.9 327.4L157 330.7L150 330.7L143 330.7L140.9 332.1L136 335.4L129 335.4L122 335.4L119.9 336.8L122 338.5L129 338.5L136 338.5L143 338.5L150 338.5L157 338.5L164 338.5L171 338.5L178 338.5L185 338.5L192 338.5L196.4 341.4L199 343.2L206 343.2L213 343.2L220 343.2L224.4 346.1L227 347.8L234 347.8L241 347.8L248 347.8L253.8 350.8L255 351.5L262 351.5L269 353.1L276 353.1L283 353.1L284.1 355.4L286.4 360.1L287 364.8L287.9 369.4L287.9 374.1L287.4 378.8L287.4 383.4L287.4 388.1L287.4 392.8L287.4 397.4L287.4 402.1L287.4 406.8L287.4 411.4L287.4 416.1L287.4 420.8L287.4 425.4L287.4 430.1L287.4 434.8L287.4 439.4L287.4 444.1L287.4 448.8L287.4 453.4L283 453.4L276 453.4L269 453.4L262 453.4L255 453.4L248 453.4L241 453.4L234 453.4L227 453.4L220 453.4L213 453.4L206 453.4L199 453.4L192 453.4L185 453.4L178 453.4L171 453.4L164 453.4L157 453.4L150 453.4L143 453.4L136 453.4L129 453.4L122 453.4L115 453.4L108 453.4L101 453.4L94 453.4L87 453.4L80 453.4L80 448.8L80 444.1L80 439.4L80 434.8L80 430.1L80 425.4L80 420.8L80 416.1L80 411.4L80 406.8L80 402.1L80 397.4L80 392.8L80 388.1L80 383.4L80 378.8L80 374.1L80 369.4L80 364.8L80 360.1L80 355.4L80 350.8L80 346.1L80 341.4L80 337.5L80.9 336.8L87 332.7L94 332.7L94.9 332.1L101 328L108 328L108.9 327.4L115 323.3L115.9 322.8L122 318.7L129 318.7L129.9 318.1L136 314L143 314L143.9 313.4L150 309.3L150.9 308.8L157 304.7L164 304.7L164.9 304.1L171 300L178 300L178.9 299.4L185 295.3L185.9 294.8L192 290.7L199 290.7L199.9 290.1L206 286L206.9 285.4L213 281.3L213.9 280.8L220 276.7L227 278.1L234 278.1L237 276.1L241 273.5L248 272.8L255 272.8L262 272L269 272L272.5 271.4L276 270.3L277.8 271.4L283 274.9L284.8 276.1L290 278.4L295.2 280.8L297 283.1L300.5 285.4L304 286.6L305.8 285.4L311 283.1L316.2 280.8L318 279.6L323.2 276.1L325 274.9L330.2 271.4L332 270.3L337.2 266.8L339 265.6L344.2 262.1L346 260.9L353 261.4L354.1 262.1L356.4 266.8L360 269.2L363.4 271.4L367 274.4L369.5 276.1L372.2 280.8L374 281.9L381 283.1L384.5 280.8L388 278.4L391.5 276.1L395 273.8L398.5 271.4L402 270.3L405.5 271.4L405.5 276.1L405.5 280.8L405.5 285.4L405.5 290.1L409 290.9L410.2 290.1L416 287.2L418.1 285.4L418.6 280.8L423 277.8L430 276.9L431.8 276.1L437 273.8L444 274.9L451 274.9L458 274.9L465 274.9L472 274.9L475.5 276.1L479 276.9L484.8 280.8L486 281.9L493 283.1L496.5 285.4L500 287.2L504.4 290.1L507 291.5L514 291.8L521 292.5L528 292.5L535 292.5L542 292.5L549 292.5L552.4 294.8L556 297.2L559 294.8L561.9 290.1L563 289.4L568.9 285.4L570 284.7L575.9 280.8L575.9 276.1L577 275.4L582.9 271.4L584 270.7L591 270.7L598 270.7L605 269.1L612 269.1L619 269.1L626 268.2L628.1 266.8L633 263.5L635.1 262.1L633 258.6L631.2 257.4L631.2 252.8L633 251.6L638.2 248.1L636.5 243.4L633 241.1L626 239.9L619 239.9L612 241.1L608.5 238.8L605 238L598 236.4L591 236.4L584 235.3L582.2 234.1L577 231.8L573.5 229.4L570 225.9L568.2 224.8L563 222.4L557.8 220.1L556 219.5L549 218.3L543.8 220.1L542 220.8L538.5 220.1L535 219.3L529.2 215.4L528 214.7L521 214L519.2 215.4L518.4 220.1L518.9 224.8L518 229.4L514 232.1L510 229.4L510 224.8L507 223.4L502.1 220.1L500 217.1L494.8 215.4L493 215.1L489.5 215.4L486 216.6L479 218.6L472 218.3L465 217.1L458 216.2L456.9 215.4L451 213.7L444 213L439.6 210.8L437 209.6L430 209L427.4 210.8L423 214.7L421.2 215.4L416 218.9L412.5 220.1L409 221.3L402 223.6L395 221.8L388 221.8L385.5 220.1L381 218.1L374 218.1L370 215.4L367 213.4L360 213.4L357.9 215.4L353 218.7L350.9 220.1L346 223.4L343.9 224.8L339 228.1L336.9 229.4L332 232.7L325 232.7L318 232.7L311 232.1L308 234.1L304 236.7L297 236.7L294 238.8L290 241.4L283 241.4L279 238.8L276 236.7L269 236.7L262 236.7L258 234.1L255 231.7L248 232.3L241.7 229.4L241 228.7L234 227.1L232.9 224.8L227 220.8L223.5 220.1L220 219.5L216.5 220.1L214.1 224.8L213 227.1L209.5 224.8L206 223.6L202.5 224.8L199 227.1L195.5 229.4L192 231.8L188.5 234.1L185 236.4L181.5 238.8L178 241.1L171 241.1L167.5 243.4L164 245.8L160.5 248.1L157 250.4L150 252.3L149.3 252.8L143 257L142.3 257.4L136 261.6L129 261.6L128.3 262.1L122 266.3L121.3 266.8L115 271L114.3 271.4L108 275.6L101 275.6L100.3 276.1L94 280.3L93.3 280.8L87 285L86.3 285.4L80 289.6L80 285.4L80 280.8L80 276.1L80 271.4L80 266.8L80 262.1L80 257.4L80 252.8L80 248.1L80 243.4L80 238.8L80 234.1L80 229.4L80 224.8L80 220.1L80 215.4L80 210.8L80 206.1L80 201.4L80 196.8L80 192.1L80 187.4L80 182.8L80 178.1L80 173.4L80 168.8L80 164.1L80 159.4L80 154.8L80 150.1L80 145.4L80 140.8L80 136.1L80 131.4L80 126.8L80 122.1L80 117.4ZM556 177.5L554.2 178.1L549 180.4L542 181.6L535 180.4L528 181.6L526.2 182.8L524.5 187.4L524.5 192.1L524.5 196.8L524.5 201.4L528 203.8L531.5 201.4L535 199.1L542 197.5L545.5 196.8L549 194.4L556 194.4L559.5 196.8L561.2 201.4L561.7 206.1L563 207L570 207.8L577 210L578.8 210.8L584 214.3L591 211.2L592.8 210.8L598 208.4L605 207.8L612 209.6L619 209.6L626 208.4L629.5 210.8L633 211.9L636.5 210.8L636.5 206.1L633 203.8L631.2 201.4L628.1 196.8L626.7 192.1L626 191.8L625.1 192.1L619 194.7L612 193.8L605 194.3L598 194.7L593.1 192.1L591.5 187.4L591 187.1L590.3 187.4L585.8 192.1L584 192.8L582.2 192.1L577 189.8L571.8 187.4L573.5 182.8L570 179.3L568.2 178.1L563 176.7ZM640 157.1L638.2 159.4L633 162.9L631.8 164.1L633 164.6L640 165.3L647 166.4L654 166.4L657.5 168.8L661 169.1L664.5 168.8L661 166.4L657.5 164.1L654 163.5L647 162.9L641.8 159.4ZM577 219.5L573.5 220.1L577 221.3L580.5 224.8L584 226.5L585.8 224.8L586.1 220.1L584 216.2ZM214.8 234.1L220 231.8L222.5 234.1L220 237.6Z"/>
<path fill="#00ff66" fill-rule="evenodd" d="M80 112.8L87 112.8L94 112.8L97.5 112.8L97.5 117.4L97.5 122.1L97.5 126.8L97.5 131.4L97.5 136.1L97.5 140.8L97.5 145.4L101 146.2L108 146.2L111.5 145.4L111.5 140.8L111.5 136.1L111.5 131.4L111.5 126.8L111.5 122.1L111.5 117.4L111.5 112.8L115 112.8L122 112.8L129 112.8L136 112.8L143 112.8L144.8 112.8L147.4 117.4L147.4 122.1L147.4 126.8L147.4 131.4L147.4 136.1L147.4 140.8L147.4 145.4L150 146.8L154.9 150.1L157 151.8L164 152.4L167.5 154.8L171 156.2L175.8 159.4L178 160.9L182.8 164.1L185 165.6L192 165.1L199 165.1L206 165.5L213 167.6L220 166.4L221.5 164.1L221.5 159.4L220 158.4L214.5 154.8L214.5 150.1L213 149.1L207.5 145.4L206.6 140.8L206.6 136.1L206.6 131.4L206.6 126.8L206.6 122.1L206.6 117.4L206.6 112.8L213 112.8L220 112.8L227 112.8L234 112.8L241 112.8L248 112.8L255 112.8L262 112.8L269 112.8L273.2 112.8L273.2 117.4L273.2 122.1L273.2 126.8L273.2 131.4L273.2 136.1L269 138.9L266.2 140.8L266.2 145.4L262 148.2L259.2 150.1L259.2 154.8L259.2 159.4L255 162.2L252.2 164.1L255 166L262 166L264.8 164.1L269 161.3L276 161.3L278.8 159.4L283 156.6L290 156.6L292.8 154.8L297 152L304 152L308.2 154.8L311 156.6L315.2 159.4L315.2 164.1L318 166L325 166L327.8 164.1L332 161.3L339 161.3L341.8 159.4L346 156.6L353 156.6L360 156.6L362.8 154.8L367 152L369.8 150.1L374 147.3L376.8 145.4L376.8 140.8L376.8 136.1L376.8 131.4L376.8 126.8L376.8 122.1L376.8 117.4L376.8 112.8L381 112.8L388 112.8L395 112.8L402 112.8L409 112.8L416 112.8L423 112.8L430 112.8L437 112.8L444 112.8L451 112.8L458 112.8L465 112.8L472 112.8L479 112.8L486 112.8L493 112.8L500 112.8L507 112.8L514 112.8L521 112.8L528 112.8L535 112.8L542 112.8L549 112.8L556 112.8L563 112.8L570 112.8L577 112.8L584 112.8L591 112.8L598 112.8L605 112.8L612 112.8L619 112.8L626 112.8L633 112.8L640 112.8L647 112.8L654 112.8L661 112.8L668 112.8L675 112.8L682 112.8L689 112.8L696 112.8L703 112.8L710 112.8L717 112.8L724 112.8L731 112.8L738 112.8L745 112.8L752 112.8L759 112.8L759 117.4L759 122.1L759 126.8L759 131.4L759 136.1L759 140.8L759 145.4L759 149.3L752 149.3L750.2 150.1L752 150.5L759 150.5L759 154.8L759 159.4L759 164.1L759 168.8L759 173.4L759 178.1L759 182.8L759 187.4L759 192.1L759 196.8L759 201.4L759 206.1L759 210.8L759 215.4L759 220.1L759 224.8L759 229.4L759 234.1L759 238.8L759 243.4L759 248.1L759 252.8L759 257.4L759 262.1L759 266.8L759 271.4L759 276.1L759 280.8L759 285.4L759 290.1L759 294.8L759 299.4L759 304.1L759 308.8L759 313.4L759 318.1L759 322.8L759 327.4L759 332.1L759 336.8L759 341.4L759 346.1L759 350.8L759 355.4L759 360.1L759 364.8L759 369.4L759 374.1L759 378.8L759 383.4L759 388.1L759 392.8L759 397.4L759 402.1L759 406.8L759 411.4L759 416.1L759 420.8L759 425.4L759 430.1L759 434.8L759 439.4L759 444.1L759 448.8L759 453.4L752 453.4L745 453.4L738 453.4L731 453.4L724 453.4L717 453.4L710 453.4L703 453.4L696 453.4L689 453.4L682 453.4L675 453.4L668 453.4L664.5 453.4L664.5 448.8L668 446.4L671.5 444.1L671.5 439.4L671.5 434.8L675 432.4L678.5 430.1L678.5 425.4L678.5 420.8L682 418.4L685.5 416.1L685.5 411.4L685.5 406.8L689 404.4L692.5 402.1L692.5 397.4L692.5 392.8L696 390.4L699.5 388.1L699.5 383.4L699.5 378.8L703 376.4L706.5 374.1L706.5 369.4L706.5 364.8L710 362.4L713.5 360.1L711.2 355.4L717 351.5L718.8 350.8L720.5 346.1L720.5 341.4L724 339.1L727.5 336.8L727.5 332.1L731 329.8L734.5 327.4L738 325.1L741.5 322.8L745 321.6L750.2 318.1L750.2 313.4L745 311.7L738 311.7L731 311.7L724 311.7L717 311.7L710 311.7L704.2 308.8L703 308L696 308L692.5 308.8L689 311.1L682 311.1L678.5 313.4L675 314.6L671.5 313.4L668 311.1L664.5 313.4L661 315.8L654 315.8L647 315.8L643.5 313.4L640 312.3L636.5 308.8L633 306.4L626 306.4L619 305.3L613.8 308.8L612 309.9L605 309.9L599.8 313.4L598 314.6L591 314.6L584 316.3L581.4 318.1L577 321L570 321L566.5 322.8L565.6 327.4L565 332.1L565 336.8L565 341.4L563 344.9L557.8 341.4L556 340.3L549 340.3L543.8 336.8L542 335.6L535 335.6L529.8 332.1L528 330.9L521 330.9L515.8 327.4L514 326.3L507 326.3L500 326.3L493 326.3L491.2 327.4L491.2 332.1L491.8 336.8L493 337.5L498.8 341.4L498.8 346.1L500 346.9L505.8 350.8L505.8 355.4L507 356.2L512.8 360.1L512.2 364.8L514 365.9L519.2 369.4L519.2 374.1L514 375.4L512 374.1L507 370.8L505 369.4L500 366.1L498 364.8L493 361.4L491 360.1L486 356.8L484 355.4L479 352.1L477 350.8L472 347.4L470 346.1L465 342.8L459.8 341.4L461.5 336.8L459.8 332.1L458 329.8L454.5 327.4L451 325.1L449.8 322.8L444 318.9L437 318.9L430 318.9L423 318.9L416 318.9L409 318.9L402 318.9L395 318.9L390.6 322.8L390.6 327.4L390.6 332.1L390.6 336.8L390.6 341.4L390.6 346.1L390.6 350.8L388 352.5L381 353.1L374 353.1L370.5 350.8L367 348.4L360 348.4L356.5 346.1L353 343.8L346 343.8L339 343.8L333.8 341.4L332 340.3L325 339.1L318 339.1L311 339.1L307.5 336.8L304 335.6L297 334.4L290 332.9L288.8 332.1L283 329.2L276 329.2L273.4 327.4L273.4 322.8L276 321L283 321L287.4 318.1L288.8 313.4L285.6 308.8L283 307L276 305.8L269 305.8L262 305.8L255 306.4L248 306.4L244.5 308.8L241 311.1L234 311.1L227 311.1L223.5 313.4L220 315.8L213 315.8L206 315.8L202.5 318.1L199 320.4L192 320.4L185 320.4L181.5 322.8L178 325.1L171 325.1L164 325.1L160.5 327.4L157 329.8L150 329.8L143 329.8L139.5 332.1L136 334.4L129 334.4L122 334.4L118.5 336.8L122 339.7L129 339.7L136 339.7L143 339.7L150 339.7L157 339.7L164 339.7L171 339.7L178 339.7L185 339.7L192 339.7L194.6 341.4L199 344.3L206 344.3L213 344.3L220 344.3L222.6 346.1L227 349L234 349L241 349L248 349L251.5 350.8L255 353.1L262 353.1L267.2 355.4L269 356.6L276 356.6L283 356.6L285 360.1L285.8 364.8L287.2 369.4L287.2 374.1L286.4 378.8L286.4 383.4L286.4 388.1L286.4 392.8L286.4 397.4L286.4 402.1L286.4 406.8L286.4 411.4L286.4 416.1L286.4 420.8L286.4 425.4L286.4 430.1L286.4 434.8L286.4 439.4L286.4 444.1L286.4 448.8L286.4 453.4L283 453.4L276 453.4L269 453.4L262 453.4L255 453.4L248 453.4L241 453.4L234 453.4L227 453.4L220 453.4L213 453.4L206 453.4L199 453.4L192 453.4L185 453.4L178 453.4L171 453.4L164 453.4L157 453.4L150 453.4L143 453.4L136 453.4L129 453.4L122 453.4L115 453.4L108 453.4L101 453.4L94 453.4L87 453.4L80 453.4L80 448.8L80 444.1L80 439.4L80 434.8L80 430.1L80 425.4L80 420.8L80 416.1L80 411.4L80 406.8L80 402.1L80 397.4L80 392.8L80 388.1L80 383.4L80 378.8L80 374.1L80 369.4L80 364.8L80 360.1L80 355.4L80 350.8L80 346.1L80 341.4L80 339.1L82.6 336.8L87 333.8L94 333.8L96.6 332.1L101 329.2L108 329.2L110.6 327.4L115 324.5L117.6 322.8L122 319.8L129 319.8L131.6 318.1L136 315.2L143 315.2L145.6 313.4L150 310.5L152.6 308.8L157 305.8L164 305.8L166.6 304.1L171 301.2L178 301.2L180.6 299.4L185 296.5L187.6 294.8L192 291.8L199 291.8L201.6 290.1L206 287.2L208.6 285.4L213 282.5L215.6 280.8L220 277.8L227 278.9L234 278.9L238.2 276.1L241 274.2L248 273.8L255 273.8L262 273.2L269 273.2L276 272.6L281.2 276.1L283 277.3L290 280L291.8 280.8L293.5 285.4L297 286.6L304 288.9L309.2 285.4L311 284.7L318 281.9L319.8 280.8L325 277.3L332 277.3L333.8 276.1L339 272.6L340.8 271.4L346 267.9L347.8 266.8L353 263.3L355 266.8L360 270.1L362 271.4L367 275.5L367.8 276.1L368.8 280.8L374 284.3L377.5 285.4L381 287.8L384.5 290.1L384.5 294.8L381 297.1L374 297.1L367 297.1L360 297.1L353 297.1L346 297.1L344.2 299.4L346 300.2L351.8 304.1L353 304.9L358.8 308.8L360 309.5L367 309.5L374 309.5L379.8 313.4L381 314.2L388 314.2L389.8 313.4L389.8 308.8L389.8 304.1L395 300.6L396.8 299.4L402 295.9L403.8 294.8L409 292.4L412.5 290.1L416 288.3L419.5 285.4L420.4 280.8L423 279L430 278.4L435.2 276.1L437 275.3L440.5 276.1L444 277.3L451 277.3L458 277.3L465 276.9L472 276.9L479 278.4L482.5 280.8L486 284.3L493 284.7L494.2 285.4L500 288.3L502.6 290.1L507 292.4L514 293L521 293.4L528 293.4L535 293.4L542 293.4L549 293.4L551 294.8L556 298.1L560.2 294.8L563 290.9L570 290.9L571.2 290.1L577 286.2L584 286.2L585.2 285.4L591 281.5L598 281.5L599.2 280.8L599.8 276.1L601.5 271.4L605 270.7L608.5 271.4L612 272.6L619 273.8L620.2 271.4L626 269.1L629.5 266.8L633 264.4L636.5 262.1L640 258.2L647 258.2L654 258.2L655.2 257.4L661 253.5L668 253.5L675 253.5L676.2 252.8L675 251.6L669.8 248.1L668 246.9L661 246.9L654 246.9L647 246.9L640 245.8L638.8 243.4L633 239.5L629.5 238.8L626 236.4L619 237.6L612 237.6L605 236.4L598 234.9L594.5 234.1L591 232.9L584 232.9L577 230.2L575.8 229.4L573.5 224.8L577 223.6L578.2 224.8L584 227.7L586.9 224.8L586.8 220.1L584.7 215.4L591 211.9L596.2 210.8L598 210L605 209L610.2 210.8L612 211.3L619 211.5L626 211.9L633 214.3L640 213.1L641.8 210.8L641.2 206.1L640 205.5L633.9 201.4L633 200.7L629.5 196.8L628.1 192.1L626 191.1L623.4 192.1L619 194L612 192.7L605 193.4L598 194L594.5 192.1L592.5 187.4L591 186.4L588.9 187.4L584 191.5L577 188.2L575.2 187.4L575.8 182.8L571.8 178.1L570 176.9L563 175.8L556 176.3L550.8 178.1L549 178.9L542 179.3L538.5 178.1L535 175.8L531.5 178.1L528 179.3L522.8 182.8L521 185.1L519.8 187.4L519.8 192.1L514 196L513.1 196.8L513.4 201.4L514 203.8L521 203.8L524.5 206.1L528 207.3L535 207.3L536.8 206.1L536.8 201.4L542 199.1L549 197.5L556 197.3L560.1 201.4L560.8 206.1L563 207.6L570 208.5L576.1 210.8L577 211.5L582.8 215.4L577 218.3L570 219.6L566.5 220.1L563 220.9L561.2 220.1L556 218.3L549 217.2L542 217.8L535 217.8L531.5 215.4L528 213.1L521 213.1L518.1 215.4L517.4 220.1L517.5 224.8L516.8 229.4L514 231.3L511.2 229.4L511.2 224.8L507 222.9L502.8 220.1L500 216L498.2 215.4L493 214.4L486 215L485.3 215.4L479 218L472 217.7L465 216L461.5 215.4L461.5 210.8L458 210.2L457.1 210.8L451 213L444 212.1L441.4 210.8L437 208.8L430 207.8L425.6 210.8L423 213.1L417.8 215.4L416 216.6L409 218.9L405.5 220.1L402 221.3L395 220.7L388 220.7L387.2 220.1L381 217.3L374 217.3L371.2 215.4L367 212.6L360 212.6L357.2 215.4L353 218.2L350.2 220.1L346 222.9L343.2 224.8L339 227.6L336.2 229.4L332 232.2L325 232.2L318 232.2L311 231.3L306.8 234.1L304 236L297 236L292.8 238.8L290 240.6L283 240.6L280.2 238.8L276 236L269 236L262 236L259.2 234.1L255 230.8L248 231.7L243.1 229.4L241 227.1L235.8 224.8L234 223.6L228.8 220.1L227 219.5L220 218.3L213 219.5L209.5 220.1L206 221.3L202.5 220.1L199 219.6L198.1 220.1L192 224.2L191.1 224.8L185 228.8L184.1 229.4L178 233.5L177.1 234.1L171 238.2L170.1 238.8L164 242.8L163.1 243.4L157 247.5L156.1 248.1L150 251.4L147.9 252.8L143 256L140.9 257.4L136 260.7L129 260.7L126.9 262.1L122 265.4L119.9 266.8L115 270L112.9 271.4L108 274.7L101 274.7L98.9 276.1L94 279.4L91.9 280.8L87 284L84.9 285.4L80 288.7L80 285.4L80 280.8L80 276.1L80 271.4L80 266.8L80 262.1L80 257.4L80 252.8L80 248.1L80 243.4L80 238.8L80 234.1L80 229.4L80 224.8L80 220.1L80 215.4L80 210.8L80 206.1L80 201.4L80 196.8L80 192.1L80 187.4L80 182.8L80 178.1L80 173.4L80 168.8L80 164.1L80 159.4L80 154.8L80 150.1L80 145.4L80 140.8L80 136.1L80 131.4L80 126.8L80 122.1L80 117.4ZM556 145L552.5 145.4L556 147.8L559.5 145.4ZM640 153.6L638.2 154.8L634.8 159.4L633 160.6L629.5 164.1L633 165.5L640 167.6L643.5 168.8L647 169.2L654 169.2L661 169.8L668 169.2L668.6 168.8L668 167.6L662.8 164.1L661 163.7L654 162.3L647 160.6L645.2 159.4L641.8 154.8ZM218.2 234.1L220 233.3L220.8 234.1L220 235.3ZM519 378.8L521 375.3L526.2 378.8L521 380.1Z"/>
<path fill="#00ffbf" fill-rule="evenodd" d="M80 112.8L87 112.8L90.5 112.8L90.5 117.4L90.5 122.1L90.5 126.8L90.5 131.4L90.5 136.1L90.5 140.8L90.5 145.4L94 147.8L101 147.8L108 147.8L113.2 150.1L115 150.7L118.5 150.1L122 147.8L123.8 145.4L123.8 140.8L129 137.3L130.8 136.1L130.8 131.4L136 127.9L137.8 126.8L137.8 122.1L137.8 117.4L143 113.9L145.6 117.4L145.6 122.1L145.6 126.8L145.6 131.4L145.6 136.1L145.6 140.8L145.6 145.4L150 147.8L153.5 150.1L157 153L164 153.4L166.1 154.8L171 156.8L174.9 159.4L178 161.5L181.9 164.1L185 166.1L192 165.8L199 165.8L206 166.4L211.8 168.8L211.8 173.4L211.8 178.1L211.8 182.8L211.8 187.4L211.8 192.1L213 193.3L216.5 192.1L216.5 187.4L216.5 182.8L216.5 178.1L216.5 173.4L216.5 168.8L220 168L222.5 164.1L222.5 159.4L220 157.8L215.5 154.8L215.5 150.1L213 148.4L208.5 145.4L207.8 140.8L207.8 136.1L207.8 131.4L207.8 126.8L207.8 122.1L207.8 117.4L207.8 112.8L213 112.8L220 112.8L227 112.8L234 112.8L241 112.8L248 112.8L255 112.8L262 112.8L269 112.8L272.4 112.8L272.4 117.4L272.4 122.1L272.4 126.8L272.4 131.4L272.4 136.1L269 138.4L265.4 140.8L265.4 145.4L262 147.7L258.4 150.1L258.4 154.8L258.4 159.4L255 161.7L251.4 164.1L255 166.5L262 166.5L265.6 164.1L269 161.8L276 161.8L279.6 159.4L283 157.1L290 157.1L293.6 154.8L297 152.5L304 152.5L307.4 154.8L311 157.1L314.4 159.4L314.4 164.1L318 166.5L325 166.5L328.6 164.1L332 161.8L339 161.8L342.6 159.4L346 157.1L353 157.1L360 157.1L363.6 154.8L367 152.5L370.6 150.1L374 147.8L377.6 145.4L377.6 140.8L377.6 136.1L377.6 131.4L377.6 126.8L377.6 122.1L377.6 117.4L377.6 112.8L381 112.8L388 112.8L395 112.8L402 112.8L409 112.8L416 112.8L423 112.8L430 112.8L437 112.8L444 112.8L451 112.8L458 112.8L465 112.8L472 112.8L479 112.8L486 112.8L493 112.8L500 112.8L507 112.8L514 112.8L521 112.8L528 112.8L535 112.8L542 112.8L549 112.8L556 112.8L563 112.8L570 112.8L577 112.8L584 112.8L591 112.8L598 112.8L605 112.8L612 112.8L619 112.8L626 112.8L633 112.8L640 112.8L647 112.8L650.5 112.8L650.5 117.4L650.5 122.1L650.5 126.8L647 129.1L643.5 131.4L643.5 136.1L640 138.4L633 138.4L631.8 140.8L633 143.1L640 143.1L647 143.1L650.5 140.8L650.5 136.1L654 133.8L657.5 136.1L657.5 140.8L661 143.1L664.5 140.8L664.5 136.1L664.5 131.4L664.5 126.8L664.5 122.1L664.5 117.4L664.5 112.8L668 112.8L671.5 112.8L671.5 117.4L671.5 122.1L671.5 126.8L671.5 131.4L671.5 136.1L675 138.4L676.8 136.1L676.8 131.4L676.8 126.8L676.8 122.1L676.8 117.4L676.8 112.8L682 112.8L689 112.8L696 112.8L703 112.8L710 112.8L717 112.8L724 112.8L731 112.8L738 112.8L745 112.8L752 112.8L759 112.8L759 117.4L759 122.1L759 126.8L759 131.4L759 136.1L759 140.8L759 145.4L759 147.8L752 147.8L746.8 150.1L752 151.3L759 151.3L759 154.8L759 159.4L759 164.1L759 168.8L759 173.4L759 178.1L759 182.8L759 187.4L759 192.1L759 196.8L759 201.4L759 206.1L759 210.8L759 215.4L759 220.1L759 224.8L759 229.4L759 234.1L759 238.8L759 243.4L759 248.1L759 252.8L759 257.4L759 262.1L759 266.8L759 271.4L759 276.1L759 280.8L759 285.4L759 290.1L759 294.8L759 299.4L759 304.1L759 307.6L757.2 308.8L752 312.3L745 310.5L738 310.5L731 310.5L724 310.5L717 310.5L710 310.5L706.5 308.8L703 306.4L696 306.4L689 306.4L682 306.4L675 306.4L668 306.4L664.5 308.8L661 311.1L654 311.1L647 311.1L640 309.9L638.8 308.8L633 304.9L626 304.9L622.5 304.1L622.5 299.4L622.5 294.8L619 293.6L617.2 294.8L612 298.3L610.2 299.4L605 302.9L603.2 304.1L598 307.6L596.2 308.8L591 312.3L589.2 313.4L584 315.2L579.6 318.1L577 319.8L570 319.8L564.2 322.8L563.9 327.4L563.7 332.1L563.7 336.8L563.7 341.4L563 342.6L561.2 341.4L556 337.9L549 337.9L547.2 336.8L542 333.3L535 333.3L533.2 332.1L528 328.6L521 328.6L519.2 327.4L514 323.9L507 323.9L500 323.9L493 323.9L487.8 327.4L487.8 332.1L489.5 336.8L493 339.1L496.5 341.4L496.5 346.1L500 348.4L503.5 350.8L503.5 355.4L507 357.8L510.5 360.1L508.8 364.8L514 368.3L515.8 369.4L515.8 374.1L514 374.5L513.3 374.1L507 369.9L506.3 369.4L500 365.2L499.3 364.8L493 360.5L492.3 360.1L486 355.9L485.3 355.4L479 351.2L478.3 350.8L472 346.5L471.3 346.1L465 341.9L463.2 341.4L463.8 336.8L463.2 332.1L461.5 327.4L458 325.1L454.5 322.8L451 320.4L447.5 318.1L444 315.8L437 315.8L430 315.8L423 315.8L416 315.8L409 315.8L402 315.8L395 315.8L393.2 313.4L393.2 308.8L393.2 304.1L395 302.9L400.2 299.4L402 298.3L407.2 294.8L409 294L414.8 290.1L416 289.5L420.9 285.4L422.1 280.8L423 280.2L430 280L437 278.4L444 279.6L451 279.6L458 279.6L465 278.4L472 278.4L479 280L480.2 280.8L484.2 285.4L486 287.8L493 287.8L500 289.5L500.9 290.1L507 293.4L514 294.2L521 294.3L528 294.3L535 294.3L542 294.3L549 294.3L549.7 294.8L556 299L561.3 294.8L563 292.4L570 292.4L573.5 290.1L577 287.8L584 287.8L587.5 285.4L591 283.1L598 283.1L601.5 280.8L603.2 276.1L605 273.8L612 274.9L615.5 276.1L619 278.4L620.8 276.1L622.5 271.4L626 270L630.9 266.8L633 265.4L637.9 262.1L640 259.8L647 259.8L654 259.8L657.5 257.4L661 255.1L668 255.1L675 255.1L678.5 252.8L675 249.3L673.2 248.1L668 244.6L661 244.6L654 244.6L647 244.6L643.5 243.4L643.5 238.8L643.5 234.1L640 231.8L633 231.8L626 231.8L622.5 234.1L619 235.3L612 235.3L605 234.9L601.5 234.1L598 233.5L591 230.6L584 230.6L580.5 229.4L584 228.8L588.1 224.8L587.6 220.1L586.1 215.4L591 212.7L598 211.2L601.5 210.8L605 210.2L606.8 210.8L612 212.5L619 213.1L626 214.3L629.5 215.4L633 217.8L640 217.8L643.5 215.4L645.2 210.8L643.5 206.1L640 204.3L635.6 201.4L633 199.1L630.9 196.8L629.5 192.1L626 190.4L621.6 192.1L619 193.2L613.8 192.1L612 191.5L608.5 192.1L605 192.5L598 193.2L595.9 192.1L593.5 187.4L591 185.8L587.5 187.4L584 190.3L578.2 187.4L577.9 182.8L577 180.4L575.2 178.1L570 174.6L563 174.8L556 175.2L549 176.9L542 175.8L538.5 173.4L535 171.1L534.1 173.4L528 177.5L526.2 178.1L521 181.6L517.5 182.8L517.5 187.4L517.5 192.1L514 194.4L511.4 196.8L512.2 201.4L513.3 206.1L514 206.9L521 207.3L528 209.6L535 209.6L540.2 206.1L540.2 201.4L542 200.7L549 199.1L556 198.5L558.9 201.4L559.9 206.1L563 208.1L570 209.1L574.4 210.8L577 213.1L580.5 215.4L577 217.2L570 218.7L563 219.3L556 217.2L549 216L545.5 215.4L542 214.3L538.5 215.4L535 216.2L533.8 215.4L528 211.5L521 212.2L516.9 215.4L516.4 220.1L516.1 224.8L515.7 229.4L514 230.6L512.3 229.4L512.3 224.8L507 222.4L503.6 220.1L500.7 215.4L500 215L493 213.8L486 214.3L483.9 215.4L479 217.4L472 217.1L466.2 215.4L466.2 210.8L465 210L458 209L455.4 210.8L451 212.4L444 211.2L443.1 210.8L437 208L430 206.7L423.9 210.8L423 211.5L416 214.3L412.5 215.4L409 216.6L402 218.9L395 218.9L388 218.9L381 216.6L374 216.6L372.3 215.4L367 211.9L360 211.9L356.4 215.4L353 217.7L349.4 220.1L346 222.4L342.4 224.8L339 227L335.4 229.4L332 231.7L325 231.7L318 231.7L311 230.6L305.7 234.1L304 235.2L297 235.2L291.7 238.8L290 239.9L283 239.9L281.3 238.8L276 235.2L269 235.2L262 235.2L260.3 234.1L255 229.9L248 231.1L244.5 229.4L241 225.5L239.2 224.8L234 221.3L232.2 220.1L227 218.3L220 217.2L213 218.3L206 219.3L199 218.7L196.4 220.1L192 223L189.4 224.8L185 227.7L182.4 229.4L178 232.3L175.4 234.1L171 237L168.4 238.8L164 241.7L161.4 243.4L157 246.3L154.4 248.1L150 250.4L146.5 252.8L143 255.1L139.5 257.4L136 259.8L129 259.8L125.5 262.1L122 264.4L118.5 266.8L115 269.1L111.5 271.4L108 273.8L101 273.8L97.5 276.1L94 278.4L90.5 280.8L87 283.1L83.5 285.4L80 287.8L80 285.4L80 280.8L80 276.1L80 271.4L80 266.8L80 262.1L80 257.4L80 252.8L80 248.1L80 243.4L80 238.8L80 234.1L80 229.4L80 224.8L80 220.1L80 215.4L80 210.8L80 206.1L80 201.4L80 196.8L80 192.1L80 187.4L80 182.8L80 178.1L80 173.4L80 168.8L80 164.1L80 159.4L80 154.8L80 150.1L80 145.4L80 140.8L80 136.1L80 131.4L80 126.8L80 122.1L80 117.4ZM206 208.4L205.1 210.8L206 211.5L213 211.5L214.8 210.8L213 208.4ZM220 194.4L218.2 196.8L220 197.5L223.5 196.8ZM549 144.8L545.5 145.4L549 147.8L552.5 150.1L556 150.9L563 151.3L566.5 150.1L566.5 145.4L563 144.7L556 144ZM577 144.3L573.5 145.4L577 147.8L580.5 145.4ZM640 151.3L634.8 154.8L633 157.1L631.8 159.4L627.2 164.1L626 166.4L622.5 168.8L626 169.2L627.2 168.8L633 166.4L638.8 168.8L640 169.2L647 169.9L654 169.9L661 170.4L668 169.9L669.8 168.8L668 165.3L666.2 164.1L661 162.9L654 161.2L648.8 159.4L647 157.1L645.2 154.8ZM724 148.9L720.5 150.1L724 150.6L727.5 150.1ZM430 297.1L426.5 299.4L430 301.8L437 301.8L444 301.8L447.5 299.4L444 297.1L437 297.1ZM472 320.4L468.5 322.8L472 325.1L475.5 322.8ZM351.2 266.8L353 265.6L353.7 266.8L360 271L360.7 271.4L363.5 276.1L360 278.4L356.5 280.8L353 283.1L349.5 285.4L346 287.8L344.2 290.1L344.2 294.8L340.8 299.4L346 301.8L349.5 304.1L353 306.4L356.5 308.8L360 311.1L367 311.1L374 311.1L377.5 313.4L381 315.8L388 315.8L393.2 318.1L388.9 322.8L388.9 327.4L388.9 332.1L388.9 336.8L388.9 341.4L388.9 346.1L388.9 350.8L388 351.3L381 351.5L374 351.5L372.8 350.8L367 346.9L360 346.9L358.8 346.1L353 342.2L346 342.2L339 342.2L337.2 341.4L332 337.9L328.5 336.8L325 334.4L318 334.4L311 334.4L304 333.3L297 332.9L293.5 332.1L290 329.8L283 328L276 328L275.1 327.4L275.1 322.8L276 322.2L283 322.2L289.1 318.1L290 315.8L291.8 313.4L290 312.3L287.4 308.8L283 305.8L276 304.7L269 304.7L262 304.7L255 305.5L248 305.5L243.1 308.8L241 310.2L234 310.2L227 310.2L222.1 313.4L220 314.8L213 314.8L206 314.8L201.1 318.1L199 319.5L192 319.5L185 319.5L180.1 322.8L178 324.2L171 324.2L164 324.2L159.1 327.4L157 328.8L150 328.8L143 328.8L138.1 332.1L136 333.5L129 333.5L122 333.5L117.1 336.8L122 340.8L129 340.8L136 340.8L143 340.8L150 340.8L157 340.8L164 340.8L171 340.8L178 340.8L185 340.8L192 340.8L192.9 341.4L199 345.5L206 345.5L213 345.5L220 345.5L220.9 346.1L227 350.2L234 350.2L241 350.2L248 350.2L249.2 350.8L255 354.7L262 354.7L263.8 355.4L269 358.9L276 358.9L283 358.9L283.7 360.1L284.7 364.8L286.4 369.4L286.4 374.1L285.4 378.8L285.4 383.4L285.4 388.1L285.4 392.8L285.4 397.4L285.4 402.1L285.4 406.8L285.4 411.4L285.4 416.1L285.4 420.8L285.4 425.4L285.4 430.1L285.4 434.8L285.4 439.4L285.4 444.1L285.4 448.8L285.4 453.4L283 453.4L276 453.4L269 453.4L262 453.4L255 453.4L248 453.4L241 453.4L234 453.4L227 453.4L220 453.4L213 453.4L206 453.4L199 453.4L192 453.4L185 453.4L178 453.4L171 453.4L164 453.4L157 453.4L150 453.4L143 453.4L136 453.4L129 453.4L122 453.4L115 453.4L108 453.4L101 453.4L94 453.4L87 453.4L80 453.4L80 448.8L80 444.1L80 439.4L80 434.8L80 430.1L80 425.4L80 420.8L80 416.1L80 411.4L80 406.8L80 402.1L80 397.4L80 392.8L80 388.1L80 383.4L80 378.8L80 374.1L80 369.4L80 364.8L80 360.1L80 355.4L80 350.8L80 346.1L80 341.4L80 340.7L84.4 336.8L87 335L94 335L98.4 332.1L101 330.3L108 330.3L112.4 327.4L115 325.7L119.4 322.8L122 321L129 321L133.4 318.1L136 316.3L143 316.3L147.4 313.4L150 311.7L154.4 308.8L157 307L164 307L168.4 304.1L171 302.3L178 302.3L182.4 299.4L185 297.7L189.4 294.8L192 293L199 293L203.4 290.1L206 288.3L210.4 285.4L213 283.7L217.4 280.8L220 279L227 279.6L234 279.6L239.3 276.1L241 275L248 274.7L255 274.7L262 274.3L269 274.3L276 274.9L277.8 276.1L283 279.6L286.5 280.8L286.5 285.4L290 286.6L297 288.9L300.5 290.1L304 292.4L307.5 290.1L311 287.8L314.5 285.4L318 284.3L323.2 280.8L325 279.6L332 279.6L337.2 276.1L339 274.9L344.2 271.4L346 270.3ZM722.2 350.8L724 348.4L727.5 350.8L731 353.1L738 353.1L741.5 355.4L745 357.8L748.5 360.1L752 362.4L755.5 364.8L759 367.1L759 369.4L759 374.1L759 378.8L759 383.4L759 388.1L759 392.8L759 397.4L759 402.1L759 406.8L759 411.4L759 416.1L759 420.8L759 425.4L759 430.1L759 434.8L759 439.4L759 444.1L759 448.8L759 453.4L752 453.4L745 453.4L738 453.4L731 453.4L724 453.4L717 453.4L710 453.4L703 453.4L696 453.4L689 453.4L682 453.4L675 453.4L668 453.4L665.9 453.4L665.9 448.8L668 447.4L672.9 444.1L672.9 439.4L672.9 434.8L675 433.4L679.9 430.1L679.9 425.4L679.9 420.8L682 419.4L686.9 416.1L686.9 411.4L686.9 406.8L689 405.4L693.9 402.1L693.9 397.4L693.9 392.8L696 391.4L700.9 388.1L700.9 383.4L700.9 378.8L703 377.4L707.9 374.1L707.9 369.4L707.9 364.8L710 363.4L714.9 360.1L713.5 355.4L717 353.1ZM520.3 378.8L521 377.6L522.8 378.8L521 379.2Z"/>
<path fill="#0099ff" fill-rule="evenodd" d="M141.2 117.4L143 116.3L143.9 117.4L143.9 122.1L143.9 126.8L143.9 131.4L143.9 136.1L143.9 140.8L143.9 145.4L150 148.7L152.1 150.1L157 154.2L164 154.3L164.7 154.8L171 157.4L174.1 159.4L178 162.1L181.1 164.1L185 166.7L192 166.4L199 166.4L206 167.4L209.5 168.8L209.5 173.4L209.5 178.1L209.5 182.8L209.5 187.4L209.5 192.1L213 195.6L214.8 196.8L220 199.1L227 197.5L234 197.3L234.9 196.8L234 196L227 196L221.2 192.1L221.2 187.4L221.2 182.8L221.2 178.1L221.2 173.4L221.2 168.8L223.5 164.1L223.5 159.4L220 157.1L216.5 154.8L216.5 150.1L213 147.8L209.5 145.4L208.9 140.8L208.9 136.1L208.9 131.4L208.9 126.8L208.9 122.1L208.9 117.4L208.9 112.8L213 112.8L220 112.8L227 112.8L234 112.8L241 112.8L248 112.8L255 112.8L262 112.8L269 112.8L271.7 112.8L271.7 117.4L271.7 122.1L271.7 126.8L271.7 131.4L271.7 136.1L269 137.9L264.7 140.8L264.7 145.4L262 147.2L257.7 150.1L257.7 154.8L257.7 159.4L255 161.2L250.7 164.1L255 167L262 167L266.3 164.1L269 162.3L276 162.3L280.3 159.4L283 157.7L290 157.7L294.3 154.8L297 153L304 153L306.7 154.8L311 157.7L313.7 159.4L313.7 164.1L318 167L325 167L329.3 164.1L332 162.3L339 162.3L343.3 159.4L346 157.7L353 157.7L360 157.7L364.3 154.8L367 153L371.3 150.1L374 148.3L378.3 145.4L378.3 140.8L378.3 136.1L378.3 131.4L378.3 126.8L378.3 122.1L378.3 117.4L378.3 112.8L381 112.8L388 112.8L395 112.8L402 112.8L409 112.8L416 112.8L423 112.8L430 112.8L437 112.8L444 112.8L451 112.8L458 112.8L465 112.8L472 112.8L479 112.8L486 112.8L493 112.8L500 112.8L507 112.8L514 112.8L521 112.8L528 112.8L535 112.8L542 112.8L549 112.8L556 112.8L563 112.8L570 112.8L577 112.8L584 112.8L591 112.8L598 112.8L605 112.8L612 112.8L619 112.8L626 112.8L629.5 112.8L629.5 117.4L629.5 122.1L629.5 126.8L629.5 131.4L629.5 136.1L629.5 140.8L629.5 145.4L631.2 150.1L631.8 154.8L629.5 159.4L626 162.9L622.5 164.1L619 166.4L617.2 168.8L619 169.5L626 170.2L629.5 168.8L633 167.4L636.5 168.8L640 170.2L647 170.7L654 170.7L661 171.1L668 170.7L670.9 168.8L668.9 164.1L668 163.5L661 162.2L654 160L652.2 159.4L648.2 154.8L647 152.4L643.5 150.1L647 147.8L654 146.2L661 146L664.5 145.4L668 143.1L671.5 145.4L675 146L678.5 145.4L678.5 140.8L680.2 136.1L680.2 131.4L680.2 126.8L680.2 122.1L680.2 117.4L680.2 112.8L682 112.8L689 112.8L696 112.8L703 112.8L710 112.8L717 112.8L724 112.8L731 112.8L738 112.8L745 112.8L752 112.8L759 112.8L759 117.4L759 122.1L759 126.8L759 131.4L759 136.1L759 140.8L759 145.4L759 146.2L752 146.2L745 147.8L738 147.8L731 147.8L724 146.6L717 148.9L713.5 150.1L717 150.9L724 151.5L731 150.7L738 150.7L745 150.7L752 152L759 152L759 154.8L759 159.4L759 164.1L759 168.8L759 173.4L759 178.1L759 182.8L759 187.4L759 192.1L759 196.8L759 201.4L759 206.1L759 210.8L759 215.4L759 220.1L759 224.8L759 229.4L759 234.1L759 238.8L759 243.4L759 248.1L759 252.8L759 257.4L759 262.1L759 266.8L759 271.4L759 276.1L759 280.8L759 285.4L759 290.1L759 294.8L759 299.4L759 304.1L759 305.3L753.8 308.8L752 309.9L745 309.3L738 309.3L731 309.3L724 309.3L717 309.3L710 309.3L708.8 308.8L703 304.9L696 304.9L692.5 304.1L689 301.8L682 301.8L675 301.8L671.5 299.4L668 297.1L664.5 299.4L661 301.8L657.5 304.1L654 306.4L650.5 304.1L647 301.8L643.5 299.4L640 297.1L636.5 294.8L633 292.4L626 292.4L619 291.3L613.8 294.8L612 295.9L606.8 299.4L605 300.6L599.8 304.1L598 305.3L592.8 308.8L591 309.9L585.8 313.4L584 314L577.9 318.1L577 318.7L570 318.7L566.5 318.1L566.5 313.4L563 311.1L559.5 308.8L559.5 304.1L559.5 299.4L562.4 294.8L563 294L570 294L575.8 290.1L577 289.3L584 289.3L589.8 285.4L591 284.7L598 284.7L603.8 280.8L605 278.4L612 278.4L615.5 280.8L619 283.1L622.5 280.8L624.2 276.1L624.8 271.4L626 271L632.3 266.8L633 266.3L639.3 262.1L640 261.3L647 261.3L654 261.3L659.8 257.4L661 256.7L668 256.7L675 256.7L680.8 252.8L682 250.4L689 250.4L696 250.4L696.9 248.1L696 247.5L689.9 243.4L689 242.8L682.9 238.8L682 238.2L675.9 234.1L675 233.5L668.9 229.4L668 228.8L661 227.1L654 227.1L647 227.1L640 227.1L633 227.1L626 228.3L624.2 229.4L619 232.9L612 231.8L605 233.3L598 232.3L592.2 229.4L591 228.3L589.2 224.8L588.3 220.1L587.5 215.4L591 213.5L598 212.2L605 211.3L612 213.7L619 214.7L622.5 215.4L626 217.8L629.5 220.1L633 222.4L640 222.4L643.5 220.1L647 217.8L648.8 215.4L648.8 210.8L647 208.4L645.8 206.1L640 203.2L637.4 201.4L633 197.5L632.3 196.8L630.9 192.1L626 189.8L619.9 192.1L619 192.5L617.2 192.1L612 190.3L605 191.5L601.5 192.1L598 192.5L597.3 192.1L594.5 187.4L591 185.1L586.1 187.4L584 189.2L580.5 187.4L579.6 182.8L578.2 178.1L577 175.8L573.5 173.4L570 172.3L566.5 173.4L563 173.9L556 174L549 174.6L545.5 173.4L542 172.3L536.8 168.8L535 168L534.1 168.8L532.4 173.4L528 176.3L522.8 178.1L521 179.3L514 181.6L512.2 182.8L514 185.1L515.2 187.4L515.2 192.1L514 192.9L509.6 196.8L511.1 201.4L511.9 206.1L514 208.4L521 209.6L524.5 210.8L521 211.2L515.8 215.4L515.5 220.1L514.7 224.8L514.6 229.4L514 229.8L513.4 229.4L513.4 224.8L507 221.9L504.3 220.1L502.1 215.4L500 214L493 213.1L486 213.5L482.5 215.4L479 216.9L472 216.4L468.5 215.4L468.5 210.8L465 208.4L458 207.8L453.6 210.8L451 211.7L445.8 210.8L445.8 206.1L444 205.3L442.2 206.1L437 207.3L431.8 206.1L430 204.9L423 204.9L419.5 206.1L419.5 210.8L416 211.9L409 213.1L405.5 215.4L402 216.6L395 216.6L388 216.6L381 215.8L374 215.8L373.4 215.4L367 211.1L360 211.1L355.7 215.4L353 217.2L348.7 220.1L346 221.9L341.7 224.8L339 226.5L334.7 229.4L332 231.2L325 231.2L318 231.2L311 229.8L304.6 234.1L304 234.5L297 234.5L290.6 238.8L290 239.1L283 239.1L282.4 238.8L276 234.5L269 234.5L262 234.5L261.4 234.1L258.5 229.4L258.5 224.8L255 223.6L253.2 224.8L253.2 229.4L248 230.4L245.9 229.4L242.8 224.8L241 223.6L235.8 220.1L234 219.3L227 217.2L220 216L213 217.2L206 217.8L199 217.8L194.6 220.1L192 221.8L187.6 224.8L185 226.5L180.6 229.4L178 231.2L173.6 234.1L171 235.8L166.6 238.8L164 240.5L159.6 243.4L157 245.2L152.6 248.1L150 249.5L145.1 252.8L143 254.2L138.1 257.4L136 258.8L129 258.8L124.1 262.1L122 263.5L117.1 266.8L115 268.2L110.1 271.4L108 272.8L101 272.8L96.1 276.1L94 277.5L89.1 280.8L87 282.2L82.1 285.4L80 286.8L80 285.4L80 280.8L80 276.1L80 271.4L80 266.8L80 262.1L80 257.4L80 252.8L80 248.1L80 243.4L80 238.8L80 234.1L80 229.4L80 224.8L80 220.1L80 215.4L80 210.8L80 206.1L80 201.4L80 196.8L80 192.1L80 187.4L80 182.8L80 178.1L80 173.4L80 168.8L80 164.1L80 159.4L80 154.8L80 150.1L80 147.8L87 147.8L90.5 150.1L94 150.9L97.5 150.1L101 149.3L108 149.3L109.8 150.1L115 151.8L122 150.7L125.5 150.1L127.2 145.4L127.2 140.8L129 139.6L134.2 136.1L134.2 131.4L136 130.3L141.2 126.8L141.2 122.1ZM206 203.8L202.5 206.1L203.4 210.8L206 213.1L213 213.1L218.2 210.8L216.5 206.1L213 205.3ZM458 135.5L457.1 136.1L451 140.2L444 140.2L443.1 140.8L437 144.8L430 144.8L429.1 145.4L423 149.5L416 149.5L415.1 150.1L415.1 154.8L416 155.3L423 155.3L429.1 159.4L430 160L437 160L444 160L451 160L458 160L461.5 159.4L465 157.1L468.5 154.8L472 152.4L475.5 150.1L472.9 145.4L472.9 140.8L472 140.2L465.9 136.1L465 135.5ZM542 144.3L540.2 145.4L542 146.6L547.2 150.1L549 150.9L556 152.4L563 153.6L570 152.4L577 152.4L580.5 150.1L584 147.8L587.5 145.4L584 144.3L577 141.9L570 143.1L563 143.1L556 143.1L549 143.7ZM598 172.3L596.2 173.4L598 174.2L601.5 173.4ZM605 168L603.2 168.8L605 171.1L606.8 168.8ZM717 168.2L716.1 168.8L717 169.3L717.9 168.8ZM136 158.7L134.2 159.4L136 160L137.8 159.4ZM545.5 201.4L549 200.7L556 199.7L557.8 201.4L559.1 206.1L563 208.7L570 209.8L572.6 210.8L577 214.7L578.2 215.4L577 216L570 217.8L563 217.8L556 216L552.5 215.4L549 214.3L542 211.9L538.5 210.8L542 208.4L543.8 206.1ZM240.4 276.1L241 275.7L248 275.6L255 275.6L262 275.5L269 275.5L272.5 276.1L272.5 280.8L276 283.1L279.5 285.4L283 287.8L290 288.9L293.5 290.1L297 292.4L300.5 294.8L304 297.1L307.5 294.8L311 292.4L314.5 290.1L318 287.8L321.5 285.4L325 283.1L332 283.1L335.5 285.4L339 287.8L340.8 290.1L340.8 294.8L339 297.1L335.5 299.4L339 301.8L346 303.3L347.2 304.1L353 308L354.2 308.8L360 312.7L367 312.7L374 312.7L375.2 313.4L381 317.3L388 317.3L389.8 318.1L388 320.4L381 320.4L374 320.4L367 320.4L360 320.4L353 320.4L346 320.4L339 320.4L335.5 322.8L332 325.1L325 325.1L318 325.1L311 325.1L304 325.1L300.5 327.4L297 329.8L293.5 327.4L293.5 322.8L293.5 318.1L295.2 313.4L290 309.9L289.1 308.8L283 304.7L279.5 304.1L279.5 299.4L276 297.1L272.5 299.4L269 301.8L262 301.8L258.5 304.1L255 304.6L248 304.6L241.7 308.8L241 309.2L234 309.2L227 309.2L220.7 313.4L220 313.9L213 313.9L206 313.9L199.7 318.1L199 318.6L192 318.6L185 318.6L178.7 322.8L178 323.2L171 323.2L164 323.2L157.7 327.4L157 327.9L150 327.9L143 327.9L136.7 332.1L136 332.6L129 332.6L122 332.6L115.7 336.8L115 339.1L108 339.1L101 339.1L94 339.1L87 339.1L86.1 336.8L87 336.2L94 336.2L100.1 332.1L101 331.5L108 331.5L114.1 327.4L115 326.8L121.1 322.8L122 322.2L129 322.2L135.1 318.1L136 317.5L143 317.5L149.1 313.4L150 312.8L156.1 308.8L157 308.2L164 308.2L170.1 304.1L171 303.5L178 303.5L184.1 299.4L185 298.8L191.1 294.8L192 294.2L199 294.2L205.1 290.1L206 289.5L212.1 285.4L213 284.8L219.1 280.8L220 280.2L227 280.4L234 280.4ZM461.5 280.8L465 280L472 280L475.5 280.8L479 283.1L480.8 285.4L482.5 290.1L486 292.4L493 292.4L500 292.4L507 294.3L510.5 294.8L507 297.1L503.5 299.4L500 301.8L496.5 304.1L493 306.4L486 306.4L482.5 308.8L479 311.1L472 311.1L465 311.1L458 311.1L454.5 308.8L454.5 304.1L454.5 299.4L454.5 294.8L458 292.4L461.5 290.1L461.5 285.4ZM422.3 285.4L423 283.1L430 283.1L437 283.1L440.5 285.4L437 287.8L430 287.8L423 287.8ZM440.5 290.1L444 287.8L447.5 290.1L444 292.4ZM468.5 332.1L472 329.8L479 329.8L482.5 332.1L486 334.4L487.2 336.8L493 340.7L494.2 341.4L494.2 346.1L500 350L501.2 350.8L501.2 355.4L500 357.8L496.5 355.4L493 353.1L489.5 350.8L486 348.4L482.5 346.1L479 343.8L475.5 341.4L472 339.1L468.5 336.8ZM715.8 355.4L717 354.7L724 353.1L727.5 355.4L731 357.8L734.5 360.1L738 362.4L741.5 364.8L745 367.1L748.5 369.4L752 371.8L755.5 374.1L759 376.4L759 378.8L759 383.4L759 388.1L759 392.8L759 397.4L759 402.1L759 406.8L759 411.4L759 416.1L759 420.8L759 425.4L759 430.1L759 434.8L759 439.4L759 444.1L759 448.8L759 453.4L752 453.4L745 453.4L738 453.4L731 453.4L724 453.4L717 453.4L710 453.4L703 453.4L696 453.4L689 453.4L682 453.4L675 453.4L668 453.4L667.3 453.4L667.3 448.8L668 448.3L674.3 444.1L674.3 439.4L674.3 434.8L675 434.3L681.3 430.1L681.3 425.4L681.3 420.8L682 420.3L688.3 416.1L688.3 411.4L688.3 406.8L689 406.3L695.3 402.1L695.3 397.4L695.3 392.8L696 392.3L702.3 388.1L702.3 383.4L702.3 378.8L703 378.3L709.3 374.1L709.3 369.4L709.3 364.8L710 364.3L716.3 360.1ZM503.5 360.1L507 359.3L508.2 360.1L507 362.4ZM279.5 364.8L283 362.4L283.6 364.8L285.7 369.4L285.7 374.1L284.5 378.8L284.5 383.4L284.5 388.1L284.5 392.8L284.5 397.4L284.5 402.1L284.5 406.8L284.5 411.4L284.5 416.1L284.5 420.8L284.5 425.4L284.5 430.1L284.5 434.8L284.5 439.4L284.5 444.1L284.5 448.8L284.5 453.4L283 453.4L276 453.4L269 453.4L262 453.4L255 453.4L248 453.4L241 453.4L234 453.4L227 453.4L220 453.4L213 453.4L206 453.4L199 453.4L192 453.4L185 453.4L178 453.4L171 453.4L164 453.4L157 453.4L150 453.4L143 453.4L136 453.4L129 453.4L122 453.4L115 453.4L108 453.4L101 453.4L94 453.4L87 453.4L80 453.4L80 448.8L80 444.1L80 439.4L80 434.8L80 430.1L80 425.4L80 420.8L80 416.1L80 411.4L80 406.8L80 402.1L80 397.4L80 392.8L80 388.1L80 383.4L80 378.8L80 374.1L80 370.6L87 370.6L94 370.6L101 370.6L108 370.6L115 370.6L122 370.6L129 370.6L136 370.6L143 370.6L150 370.6L157 370.6L164 370.6L171 370.6L178 370.6L185 370.6L192 370.6L199 370.6L206 370.6L213 370.6L220 370.6L227 370.6L234 370.6L241 370.6L248 370.6L255 370.6L262 370.6L269 370.6L276 370.6L276.9 369.4Z"/>
<path fill="#0033ff" fill-rule="evenodd" d="M210.1 112.8L213 112.8L220 112.8L227 112.8L234 112.8L241 112.8L248 112.8L255 112.8L262 112.8L269 112.8L270.9 112.8L270.9 117.4L270.9 122.1L270.9 126.8L270.9 131.4L270.9 136.1L269 137.4L263.9 140.8L263.9 145.4L262 146.7L256.9 150.1L256.9 154.8L256.9 159.4L255 160.7L249.9 164.1L255 167.5L262 167.5L267.1 164.1L269 162.8L276 162.8L281.1 159.4L283 158.2L290 158.2L295.1 154.8L297 153.5L304 153.5L305.9 154.8L311 158.2L312.9 159.4L312.9 164.1L318 167.5L325 167.5L330.1 164.1L332 162.8L339 162.8L344.1 159.4L346 158.2L353 158.2L360 158.2L365.1 154.8L367 153.5L372.1 150.1L374 148.8L379.1 145.4L379.1 140.8L379.1 136.1L379.1 131.4L379.1 126.8L379.1 122.1L379.1 117.4L379.1 112.8L381 112.8L388 112.8L395 112.8L402 112.8L409 112.8L416 112.8L423 112.8L430 112.8L437 112.8L444 112.8L451 112.8L458 112.8L465 112.8L472 112.8L479 112.8L486 112.8L493 112.8L500 112.8L507 112.8L514 112.8L521 112.8L528 112.8L535 112.8L542 112.8L549 112.8L556 112.8L563 112.8L570 112.8L577 112.8L584 112.8L591 112.8L598 112.8L605 112.8L612 112.8L615.5 112.8L615.5 117.4L615.5 122.1L615.5 126.8L615.5 131.4L615.5 136.1L619 138.4L626 138.4L627.2 140.8L626 143.1L622.5 145.4L626 147.8L627.8 150.1L629.5 154.8L627.2 159.4L626 160.6L619 162.9L615.5 164.1L613.8 168.8L619 171.1L626 171.1L631.8 168.8L633 168.3L634.2 168.8L640 171.1L647 171.5L654 171.5L661 171.8L668 171.5L672.1 168.8L670.6 164.1L668 162.3L661 161.4L655.2 159.4L654 158.3L650.5 154.8L648.8 150.1L654 147.8L661 147.2L668 146.2L675 147.2L682 146.6L685.5 145.4L685.5 140.8L685.5 136.1L685.5 131.4L685.5 126.8L685.5 122.1L685.5 117.4L685.5 112.8L689 112.8L696 112.8L703 112.8L706.5 112.8L706.5 117.4L706.5 122.1L706.5 126.8L706.5 131.4L706.5 136.1L710 138.4L717 138.4L720.5 140.8L720.5 145.4L717 146.6L710 147.8L706.5 150.1L710 152.4L717 152.4L724 152.4L731 151.8L738 151.8L745 151.8L752 152.8L759 152.8L759 154.8L759 159.4L759 164.1L759 168.8L759 173.4L759 178.1L759 182.8L759 187.4L759 192.1L759 196.8L759 201.4L759 206.1L759 210.8L759 215.4L759 220.1L759 224.8L759 229.4L759 234.1L759 238.8L759 243.4L759 247.3L752 247.3L745 247.3L738 247.3L736.8 248.1L731 252L724 252L717 252L710 252L703 252L698.6 248.1L696 246.3L691.6 243.4L689 241.7L684.6 238.8L682 237L677.6 234.1L675 232.3L670.6 229.4L668 227.7L662.2 224.8L661 222.4L657.5 220.1L654 217.8L652.2 215.4L652.2 210.8L648.2 206.1L647 204.9L640 202L639.1 201.4L634.8 196.8L633 194.4L632.3 192.1L626 189.1L619 191.3L612 189.2L605 190.3L598 191.3L595.5 187.4L591 184.4L584.7 187.4L584 188L582.8 187.4L581.4 182.8L580.5 178.1L580.5 173.4L577 171.1L570 169.9L563 172.3L556 172.3L549 172.3L542 169.9L540.2 168.8L535 166.4L532.4 168.8L530.6 173.4L528 175.2L521 175.8L517.5 173.4L517.5 168.8L514 166.4L507 166.4L500 166.4L496.5 164.1L493 161.8L489.5 159.4L493 157.1L500 157.1L503.5 159.4L507 161.8L510.5 159.4L510.5 154.8L510.5 150.1L510.5 145.4L508.2 140.8L507 140L505.8 140.8L500 144.7L493 144.7L486 144.7L484.8 145.4L479 149.3L474.6 145.4L474.6 140.8L472 139L467.6 136.1L465 134.3L458 134.3L455.4 136.1L451 139L444 139L441.4 140.8L437 143.7L430 143.7L427.4 145.4L423 148.3L416 148.3L413.4 150.1L413.4 154.8L416 156.5L423 156.5L427.4 159.4L430 161.2L437 161.2L444 161.2L451 161.2L458 161.2L463.8 164.1L465 164.9L470.8 168.8L472 169.5L477.8 173.4L479 174.6L486 175.8L489.5 178.1L493 180.4L496.5 182.8L500 185.1L503.5 182.8L507 180.4L508.8 182.8L510.5 187.4L512.2 192.1L507.9 196.8L509.9 201.4L510.5 206.1L514 210L517.5 210.8L514.6 215.4L514.5 220.1L514 222.4L507 221.4L505.1 220.1L503.5 215.4L500 213.1L493 212.4L486 212.7L481.1 215.4L479 216.3L472 215.8L470.8 215.4L470.8 210.8L465 206.9L458 206.7L451.9 210.8L451 211.1L449.2 210.8L449.2 206.1L444 203.8L438.8 206.1L437 206.5L435.2 206.1L430 202.6L423 202.6L416 203.8L409 203.8L402 204.9L395 204.9L388 204.9L381 204.9L374 204.9L367 204.9L360 204.9L358.8 206.1L358.8 210.8L354.9 215.4L353 216.7L347.9 220.1L346 221.4L340.9 224.8L339 226L333.9 229.4L332 230.7L325 230.7L318 230.7L312.2 229.4L311 228.7L304 228.7L298.2 224.8L297 224L290 224L284.2 220.1L283 219.3L276 219.3L269 219.3L265.5 220.1L262 222.4L255 221.3L249.8 224.8L249.8 229.4L248 229.8L247.3 229.4L246.2 224.8L241 221.3L239.2 220.1L234 217.8L227 216L223.5 215.4L221.8 210.8L221.8 206.1L220 203.8L213 203.8L207.8 201.4L206 199.1L202.5 201.4L199 203.8L197.8 206.1L199 207.3L201.6 210.8L206 214.7L213 214.7L216.5 215.4L213 216L206 216.2L199 216.8L192.9 220.1L192 220.7L185.9 224.8L185 225.3L178.9 229.4L178 230L171.9 234.1L171 234.7L164.9 238.8L164 239.3L157.9 243.4L157 244L150.9 248.1L150 248.6L143.7 252.8L143 253.2L136.7 257.4L136 257.9L129 257.9L122.7 262.1L122 262.6L115.7 266.8L115 267.2L108.7 271.4L108 271.9L101 271.9L94.7 276.1L94 276.6L87.7 280.8L87 281.2L80.7 285.4L80 285.9L80 285.4L80 280.8L80 276.1L80 271.4L80 266.8L80 262.1L80 257.4L80 252.8L80 248.1L80 243.4L80 238.8L80 234.1L80 229.4L80 224.8L80 220.1L80 215.4L80 210.8L80 206.1L80 201.4L80 196.8L80 192.1L80 187.4L80 182.8L80 178.1L80 173.4L80 168.8L80 164.1L80 159.4L80 154.8L80 151.3L87 151.3L94 152.4L101 152.4L108 152.4L115 153L122 151.8L129 151.3L136 151.3L143 151.3L146.5 150.1L150 149.6L150.7 150.1L153.5 154.8L157 155.5L164 155.5L171 158L173.2 159.4L178 162.6L180.2 164.1L185 167.3L192 167.1L199 167.1L206 168.3L207.2 168.8L207.2 173.4L207.2 178.1L207.2 182.8L207.2 187.4L207.2 192.1L209.5 196.8L213 197.9L220 200.7L227 199.1L234 198.5L236.6 196.8L234 194.4L227 194.4L223.5 192.1L223.5 187.4L223.5 182.8L223.5 178.1L223.5 173.4L223.5 168.8L224.5 164.1L224.5 159.4L220 156.4L217.5 154.8L217.5 150.1L213 147.1L210.5 145.4L210.1 140.8L210.1 136.1L210.1 131.4L210.1 126.8L210.1 122.1L210.1 117.4ZM591 115.1L587.5 117.4L587.5 122.1L587.5 126.8L587.5 131.4L587.5 136.1L587.5 140.8L584 141.9L580.5 140.8L580.5 136.1L580.5 131.4L580.5 126.8L580.5 122.1L577 121.3L575.8 122.1L575.8 126.8L570 130.7L566.5 131.4L566.5 136.1L566.5 140.8L563 141.5L556 142.2L549 142.5L542 141.9L536.8 145.4L542 148.9L543.8 150.1L549 152.4L556 154L559.5 154.8L563 155.9L570 157.1L577 155.9L580.5 154.8L584 152.4L585.8 150.1L591 146.6L594.5 145.4L598 143.1L605 143.1L608.5 140.8L608.5 136.1L605 133.8L601.5 131.4L598 129.1L594.5 126.8L594.5 122.1L594.5 117.4ZM717 167L714.4 168.8L717 170.5L719.6 168.8ZM136 157.1L130.8 159.4L136 161.2L141.2 159.4ZM605 166.4L599.8 168.8L598 169.9L592.8 173.4L598 175.8L603.2 178.1L605 178.9L606.2 178.1L608.5 173.4L610.2 168.8ZM482.5 154.8L486 152.4L489.5 154.8L486 157.1ZM489.5 173.4L493 171.1L496.5 173.4L493 175.8ZM510.5 178.1L514 175.8L517.5 178.1L514 179.3ZM552.5 201.4L556 200.8L556.6 201.4L558.2 206.1L563 209.3L570 210.4L570.9 210.8L575.2 215.4L570 216.8L563 216.2L559.5 215.4L556 214.3L549 211.9L545.5 210.8L547.2 206.1L549 203.8ZM588.9 215.4L591 214.3L598 213.1L605 212.5L612 214.8L615.5 215.4L619 217.8L622.5 220.1L626 222.4L629.5 224.8L626 225.9L620.8 229.4L619 230.6L615.5 229.4L612 228.7L610.2 229.4L605 231.8L598 231.2L594.5 229.4L591 225.9L590.4 224.8L589.1 220.1ZM321.5 308.8L325 306.4L328.5 308.8L325 311.1ZM278.6 369.4L283 365.5L284.9 369.4L284.9 374.1L283.5 378.8L283.5 383.4L283.5 388.1L283.5 392.8L283.5 397.4L283.5 402.1L283.5 406.8L283.5 411.4L283.5 416.1L283.5 420.8L283.5 425.4L283.5 430.1L283.5 434.8L283.5 439.4L283.5 444.1L283.5 448.8L283.5 453.4L283 453.4L276 453.4L269 453.4L262 453.4L255 453.4L248 453.4L241 453.4L234 453.4L227 453.4L220 453.4L213 453.4L206 453.4L199 453.4L192 453.4L185 453.4L178 453.4L171 453.4L164 453.4L157 453.4L150 453.4L143 453.4L136 453.4L129 453.4L122 453.4L115 453.4L108 453.4L101 453.4L94 453.4L87 453.4L80 453.4L80 448.8L80 444.1L80 439.4L80 434.8L80 430.1L80 425.4L80 420.8L80 416.1L80 411.4L80 406.8L80 402.1L80 397.4L80 392.8L80 388.1L80 383.4L80 378.8L80 374.1L80 372.9L87 372.9L94 372.9L101 372.9L108 372.9L115 372.9L122 372.9L129 372.9L136 372.9L143 372.9L150 372.9L157 372.9L164 372.9L171 372.9L178 372.9L185 372.9L192 372.9L199 372.9L206 372.9L213 372.9L220 372.9L227 372.9L234 372.9L241 372.9L248 372.9L255 372.9L262 372.9L269 372.9L276 372.9Z"/>
<path fill="#4000ff" fill-rule="evenodd" d="M211.2 112.8L213 112.8L220 112.8L227 112.8L234 112.8L241 112.8L248 112.8L255 112.8L262 112.8L269 112.8L270.1 112.8L270.1 117.4L270.1 122.1L270.1 126.8L270.1 131.4L270.1 136.1L269 136.9L263.1 140.8L263.1 145.4L262 146.2L256.1 150.1L256.1 154.8L256.1 159.4L255 160.2L249.1 164.1L255 168L262 168L267.9 164.1L269 163.3L276 163.3L281.9 159.4L283 158.7L290 158.7L295.9 154.8L297 154L304 154L305.1 154.8L311 158.7L312.1 159.4L312.1 164.1L318 168L325 168L330.9 164.1L332 163.3L339 163.3L344.9 159.4L346 158.7L353 158.7L360 158.7L365.9 154.8L367 154L372.9 150.1L374 149.3L379.9 145.4L379.9 140.8L379.9 136.1L379.9 131.4L379.9 126.8L379.9 122.1L379.9 117.4L379.9 112.8L381 112.8L388 112.8L395 112.8L402 112.8L409 112.8L416 112.8L423 112.8L430 112.8L437 112.8L444 112.8L451 112.8L458 112.8L465 112.8L472 112.8L479 112.8L486 112.8L493 112.8L500 112.8L507 112.8L514 112.8L521 112.8L528 112.8L535 112.8L542 112.8L549 112.8L556 112.8L563 112.8L570 112.8L577 112.8L584 112.8L589.2 112.8L584 116.3L582.2 117.4L577 119.8L573.5 122.1L573.5 126.8L570 129.1L563 130.3L561.2 131.4L559.5 136.1L559.5 140.8L556 141.2L549 141.3L545.5 140.8L545.5 136.1L542 134.9L535 134.9L528 134.9L521 134.9L519.2 136.1L521 137.3L526.2 140.8L528 141.9L533.2 145.4L535 147.8L538.5 150.1L542 151.3L549 154L552.5 154.8L556 157.1L563 158.3L566.5 159.4L570 161.8L573.5 159.4L577 158.3L584 157.1L585.8 154.8L589.2 150.1L591 148.9L598 147.8L605 147.8L612 147.8L619 147.8L622.5 150.1L626 152.4L627.2 154.8L626 157.1L622.5 159.4L619 160.6L612 161.8L608.5 164.1L605 164.9L598 167.6L594.5 168.8L591 171.1L587.5 168.8L584 166.4L577 166.4L570 166.4L566.5 168.8L563 169.9L556 169.9L549 169.9L545.5 168.8L542 166.4L535 164.9L530.6 168.8L528.9 173.4L528 174L524.5 173.4L522.8 168.8L524.5 164.1L524.5 159.4L524.5 154.8L522.8 150.1L521 148.9L515.8 145.4L514 144.3L510.5 140.8L507 138.4L503.5 140.8L500 143.1L493 143.1L486 143.1L482.5 145.4L479 147.8L476.4 145.4L476.4 140.8L472 137.8L469.4 136.1L465 133.2L458 133.2L453.6 136.1L451 137.8L444 137.8L439.6 140.8L437 142.5L430 142.5L425.6 145.4L423 147.2L416 147.2L411.6 150.1L411.6 154.8L416 157.7L423 157.7L425.6 159.4L430 162.3L437 162.3L444 162.3L451 162.3L458 162.3L461.5 164.1L465 166.4L468.5 168.8L472 171.1L475.5 173.4L479 176.9L482.5 178.1L486 180.4L489.5 182.8L493 185.1L496.5 187.4L500 189.8L507 189.8L508.8 192.1L507 194.4L500 194.4L498.2 196.8L500 197.9L507 197.9L508.8 201.4L509.1 206.1L512.2 210.8L512.2 215.4L512.2 220.1L507 220.9L505.9 220.1L504.9 215.4L500 212.2L493 211.8L486 211.9L479.7 215.4L479 215.7L475.5 215.4L475.5 210.8L472 208.4L468.5 206.1L465 204.9L458 203.8L451 203.8L444 202.2L440.5 201.4L437 200.3L430 200.3L423 200.3L417.8 196.8L416 194.4L414.2 196.8L409 200.3L405.5 201.4L402 202.6L395 202.6L388 202.6L381 202.6L374 202.6L367 202.6L360 202.6L356.5 206.1L356.5 210.8L354.1 215.4L353 216.2L347.1 220.1L346 220.9L340.1 224.8L339 225.5L333.1 229.4L332 230.2L325 230.2L318 230.2L314.5 229.4L311 227.1L304 227.1L300.5 224.8L297 222.4L290 222.4L286.5 220.1L283 217.8L276 217.8L269 217.8L262 218.9L255 218.9L248 218.9L241 218.9L234 216.2L230.5 215.4L227 213.1L225.2 210.8L225.2 206.1L223.5 201.4L227 200.7L234 199.7L238.4 196.8L234 192.9L227 192.9L225.8 192.1L225.8 187.4L225.8 182.8L225.8 178.1L225.8 173.4L225.8 168.8L225.5 164.1L225.5 159.4L220 155.8L218.5 154.8L218.5 150.1L213 146.4L211.5 145.4L211.2 140.8L211.2 136.1L211.2 131.4L211.2 126.8L211.2 122.1L211.2 117.4ZM458 194.4L454.5 196.8L458 199.1L461.5 196.8ZM699.5 140.8L703 138.4L706.5 140.8L703 143.1ZM652.2 150.1L654 149.3L661 148.3L668 147.8L675 148.3L682 148.9L689 147.8L696 147.8L699.5 150.1L696 152.4L694.2 154.8L696 155.9L703 157.1L710 157.1L713.5 154.8L717 154L724 153.4L731 153L738 153L745 153L752 153.6L759 153.6L759 154.8L759 159.4L759 164.1L759 168.8L759 173.4L759 178.1L759 182.8L759 187.4L759 192.1L759 196.8L759 201.4L759 206.1L759 210.8L759 215.4L759 220.1L759 224.8L759 229.4L759 234.1L759 238.8L759 243.4L759 245.8L752 245.8L745 245.8L738 245.8L734.5 248.1L731 250.4L724 250.4L717 250.4L710 250.4L703 250.4L700.4 248.1L696 245.2L693.4 243.4L689 240.5L686.4 238.8L682 235.8L679.4 234.1L675 231.2L672.4 229.4L668 226.5L664.5 224.8L662.8 220.1L662.8 215.4L662.8 210.8L661 209.6L654 209.6L650.5 206.1L647 202.6L643.5 201.4L640 199.1L638.2 196.8L634.8 192.1L633 190.9L626 188.4L619 189.8L612 188L605 189.2L598 189.8L596.5 187.4L591 183.8L584 185.1L583.1 182.8L582.8 178.1L584 175.8L591 174.6L598 177.3L599.8 178.1L605 180.4L608.5 178.1L612 174.6L615.5 173.4L619 172.7L626 172L633 169.9L640 172L647 172.3L654 172.3L661 172.4L668 172.3L673.2 168.8L672.4 164.1L668 161.2L661 160.6L657.5 159.4L654 155.9L652.8 154.8ZM717 165.8L712.6 168.8L717 171.7L721.4 168.8ZM80 154.8L80 153.6L87 153.6L94 154L97.5 154.8L101 155.9L108 157.1L111.5 154.8L115 154.2L122 153L129 153.6L136 153.6L143 153.6L146.5 154.8L143 157.1L136 155.5L129 157.1L127.2 159.4L129 160.6L136 162.3L143 160.6L146.5 159.4L150 157.1L157 157.1L164 157.1L171 158.6L172.3 159.4L178 163.2L179.3 164.1L185 167.9L192 167.8L199 167.8L204.2 168.8L202.5 173.4L202.5 178.1L202.5 182.8L202.5 187.4L202.5 192.1L202.5 196.8L199 199.1L197.2 201.4L195.5 206.1L199 209.6L199.9 210.8L202.5 215.4L199 215.9L195.5 215.4L192 214.3L185 214.3L178 214.3L176.2 215.4L171 218.9L164 218.9L162.2 220.1L157 223.6L150 223.6L148.2 224.8L143 228.3L136 228.3L134.2 229.4L129 232.9L122 232.9L120.2 234.1L115 237.6L113.2 238.8L108 242.3L106.2 243.4L101 246.9L99.2 248.1L99.2 252.8L94 256.3L92.2 257.4L87 260.9L85.2 262.1L85.2 266.8L80 270.3L80 266.8L80 262.1L80 257.4L80 252.8L80 248.1L80 243.4L80 238.8L80 234.1L80 229.4L80 224.8L80 220.1L80 215.4L80 210.8L80 206.1L80 201.4L80 196.8L80 192.1L80 187.4L80 182.8L80 178.1L80 174.6L81.8 173.4L87 169.9L88.8 168.8L88.8 164.1L87 162.9L80 162.9L80 159.4ZM211.2 201.4L213 200.3L216.5 201.4L213 202.2ZM550.8 206.1L556 202.6L557.3 206.1L563 209.9L568.2 210.8L570 213.1L571.8 215.4L570 215.9L566.5 215.4L563 214.3L556 211.9L552.5 210.8ZM590.3 215.4L591 215L598 214L605 213.7L610.2 215.4L612 216.6L617.2 220.1L619 222.4L622.5 224.8L619 227.1L612 227.1L606.8 229.4L605 230.2L598 230L596.8 229.4L592.8 224.8L591 223.6L589.9 220.1ZM280.4 369.4L283 367.1L284.1 369.4L284.1 374.1L283 377.6L277.8 374.1Z"/>
<path fill="#8000ff" fill-rule="evenodd" d="M212.4 112.8L213 112.8L220 112.8L227 112.8L234 112.8L241 112.8L248 112.8L255 112.8L262 112.8L269 112.8L269.4 112.8L269.4 117.4L269.4 122.1L269.4 126.8L269.4 131.4L269.4 136.1L269 136.4L262.4 140.8L262.4 145.4L262 145.7L255.4 150.1L255.4 154.8L255.4 159.4L255 159.7L248.4 164.1L248 166.4L241 166.4L234 166.4L227 166.4L226.5 164.1L226.5 159.4L220 155.1L219.5 154.8L219.5 150.1L213 145.8L212.5 145.4L212.4 140.8L212.4 136.1L212.4 131.4L212.4 126.8L212.4 122.1L212.4 117.4ZM380.6 112.8L381 112.8L388 112.8L395 112.8L402 112.8L409 112.8L416 112.8L423 112.8L430 112.8L437 112.8L444 112.8L451 112.8L458 112.8L465 112.8L472 112.8L479 112.8L486 112.8L493 112.8L500 112.8L507 112.8L514 112.8L521 112.8L528 112.8L535 112.8L542 112.8L549 112.8L556 112.8L563 112.8L570 112.8L577 112.8L584 112.8L585.8 112.8L584 113.9L578.8 117.4L577 118.2L571.2 122.1L571.2 126.8L570 127.5L563 127.9L557.8 131.4L556 133.8L549 133.8L542 132.6L535 132.6L528 132.6L521 132.6L515.8 136.1L521 139.6L522.8 140.8L528 144.3L529.8 145.4L531.5 150.1L528 152.4L526.2 150.1L521 146.6L519.2 145.4L514 141.9L512.8 140.8L507 136.9L501.2 140.8L500 141.5L493 141.5L486 141.5L480.2 145.4L479 146.2L478.1 145.4L478.1 140.8L472 136.7L471.1 136.1L465 132L458 132L451.9 136.1L451 136.7L444 136.7L437.9 140.8L437 141.3L430 141.3L423.9 145.4L423 146L416 146L409.9 150.1L409.9 154.8L416 158.8L423 158.8L423.9 159.4L430 163.5L437 163.5L444 163.5L451 163.5L458 163.5L459.2 164.1L465 168L466.2 168.8L472 172.7L473.2 173.4L475.5 178.1L475.5 182.8L479 185.1L482.5 187.4L486 189.8L493 189.8L496.5 192.1L494.8 196.8L500 200.3L507 200.3L507.6 201.4L507.7 206.1L508.8 210.8L508.8 215.4L508.8 220.1L507 220.4L506.6 220.1L506.3 215.4L500 211.2L493 211.1L486 211.2L482.5 210.8L479 208.4L475.5 206.1L472 203.8L465 202.6L461.5 201.4L465 199.1L472 199.1L475.5 196.8L472 194.4L468.5 192.1L465 189.8L458 189.8L451 189.8L447.5 192.1L447.5 196.8L444 199.1L437 197.9L430 197.9L423 197.9L421.2 196.8L423 194.4L426.5 192.1L423 189.8L416 189.8L412.5 192.1L410.8 196.8L409 197.9L405.5 196.8L402 194.4L395 194.4L388 194.4L381 194.4L374 194.4L367 194.4L363.5 196.8L360 199.1L356.5 201.4L354.2 206.1L354.2 210.8L353.4 215.4L353 215.7L346.4 220.1L346 220.4L339.4 224.8L339 225L332.4 229.4L332 229.7L325 229.7L318 229.7L316.8 229.4L311 225.5L304 225.5L302.8 224.8L297 220.9L290 220.9L288.8 220.1L283 216.2L276 216.2L269 216.2L262 216.6L255 216.6L248 216.6L241 216.6L237.5 215.4L234 213.1L230.5 210.8L230.5 206.1L230.5 201.4L234 200.8L240.1 196.8L237.5 192.1L237.5 187.4L241 185.1L244.5 182.8L244.5 178.1L248 175.8L251.5 173.4L251.5 168.8L255 168.5L262 168.5L268.6 164.1L269 163.8L276 163.8L282.6 159.4L283 159.2L290 159.2L296.6 154.8L297 154.5L304 154.5L304.4 154.8L311 159.2L311.4 159.4L311.4 164.1L318 168.5L325 168.5L331.6 164.1L332 163.8L339 163.8L345.6 159.4L346 159.2L353 159.2L360 159.2L366.6 154.8L367 154.5L373.6 150.1L374 149.8L380.6 145.4L380.6 140.8L380.6 136.1L380.6 131.4L380.6 126.8L380.6 122.1L380.6 117.4ZM657.5 150.1L661 149.5L668 149.3L675 149.5L678.5 150.1L682 152.4L689 152.4L690.8 154.8L696 158.3L699.5 159.4L703 161.8L710 161.8L713.5 159.4L717 157.1L720.5 154.8L724 154.3L731 154.2L738 154.2L745 154.2L752 154.4L759 154.4L759 154.8L759 159.4L759 164.1L759 168.8L759 173.4L759 178.1L759 182.8L759 187.4L759 192.1L759 196.8L759 201.4L759 206.1L759 210.8L759 215.4L759 220.1L759 224.8L759 229.4L759 234.1L759 238.8L759 243.4L759 244.2L752 244.2L745 244.2L738 244.2L732.2 248.1L731 248.9L724 248.9L717 248.9L710 248.9L703 248.9L702.1 248.1L696 244L695.1 243.4L689 239.3L688.1 238.8L682 234.7L681.1 234.1L675 230L674.1 229.4L668 225.3L666.8 224.8L666.2 220.1L666.2 215.4L666.2 210.8L661 207.3L654 207.3L652.8 206.1L650.5 201.4L650.5 196.8L647 194.4L640 194.4L638.2 192.1L633 188.6L626 187.8L619 188.2L615.5 187.4L615.5 182.8L612 180.4L610.8 178.1L612 176.9L619 175.8L622.5 173.4L626 173L633 172.3L640 173L647 173L654 173L661 173.1L668 173L674.4 168.8L674.1 164.1L668 160L661 159.8L659.8 159.4L657.5 154.8ZM717 164.7L710.9 168.8L717 172.8L723.1 168.8ZM654 180.4L650.5 182.8L650.5 187.4L654 189.8L657.5 187.4L657.5 182.8ZM118.5 154.8L122 154.2L125.5 154.8L123.8 159.4L129 162.9L136 163.5L143 162.9L146.5 164.1L150 166.4L153.5 164.1L153.5 159.4L157 158.7L164 158.7L171 159.1L171.4 159.4L178 163.8L178.4 164.1L185 168.5L192 168.4L199 168.4L200.8 168.8L199 171.1L195.5 173.4L195.5 178.1L195.5 182.8L195.5 187.4L195.5 192.1L195.5 196.8L193.8 201.4L193.2 206.1L195.5 210.8L192 211.9L185 211.9L178 211.9L172.8 215.4L171 216.6L164 216.6L158.8 220.1L157 221.3L150 221.3L144.8 224.8L143 225.9L136 225.9L130.8 229.4L129 230.6L122 230.6L116.8 234.1L115 235.3L109.8 238.8L108 239.9L102.8 243.4L101 244.6L95.8 248.1L95.8 252.8L94 253.9L88.8 257.4L87 258.6L81.8 262.1L81.8 266.8L80 267.9L80 266.8L80 262.1L80 257.4L80 252.8L80 248.1L80 243.4L80 238.8L80 234.1L80 229.4L80 224.8L80 220.1L80 215.4L80 210.8L80 206.1L80 201.4L80 196.8L80 192.1L80 187.4L80 182.8L80 178.1L80 176.9L85.2 173.4L87 172.3L92.2 168.8L92.2 164.1L87 160.6L80 160.6L80 159.4L80 157.1L87 157.1L94 157.1L101 158.3L104.5 159.4L108 161.8L111.5 159.4L115 157.1ZM531.5 154.8L535 152.4L542 153.6L545.5 154.8L542 157.1L535 157.1ZM589.2 154.8L591 152.4L598 152.4L605 152.4L608.5 154.8L608.5 159.4L605 161.8L601.5 164.1L598 165.3L591 166.4L587.5 164.1L587.5 159.4ZM526.2 168.8L528 166.4L528.9 168.8L528 171.1ZM587.5 178.1L591 176.9L594.5 178.1L598 180.4L605 182L608.5 182.8L608.5 187.4L605 188L598 188.2L597.5 187.4L591 183.1L587.5 182.8ZM554.2 206.1L556 204.9L556.4 206.1L556 208.4ZM559.5 210.8L563 210.5L564.8 210.8L563 211.9ZM594.5 215.4L598 215L605 214.8L606.8 215.4L612 218.9L613.8 220.1L615.5 224.8L612 225.5L605 227.1L598 227.1L596.2 224.8L591 221.3L590.6 220.1L591 217.8ZM282.1 369.4L283 368.7L283.4 369.4L283.4 374.1L283 375.3L281.2 374.1Z"/>
</g>
<clipPath id="frame"><rect x="80" y="112" width="672" height="336"/></clipPath>
<path clip-path="url(#frame)" d="M405 213.8L406.2 213.5L407.5 214.2L409 214.3L410.4 215L412.3 215L414 215L415.4 214.3L416.5 213.2L417.9 212.5L419.7 211.9L421.6 211.6L423.5 212L425.3 212.4L427.2 211.8L429.1 211.8L430.9 211.9L432.9 211.7L434.7 211.1L436.6 211.7L435.3 212.9L436.6 214.6L435.4 215.4L434.9 216.6L436.6 217.8L438 218.5L439.4 219.4L441 219.9L442.7 219.8L444.3 220.2L445.3 222.2L447 222.5L448.7 223L450.3 223.3L451.7 223.9L453.2 222.8L453.5 221.5L453.5 220.2L454.8 219.6L456.1 219.3L457.7 219.5L459.4 219.7L460.9 220.9L462.6 221.8L464.6 221.8L466.4 222.3L468.3 222.7L470.2 223.2L472 222.6L473.9 221.8L476 222.5L476.9 224.9L476.9 226.2L476.9 227.6L478.9 228.7L479.5 230.5L480.5 232L480.8 233.5L481.4 234.7L482.2 235.9L482.5 237.9L483.8 238.6L484.8 239.7L485.4 242.1L485.5 243.6L485.6 245.2L486.6 246.3L487.6 247.2L488.4 248.7L488.9 250.2L489.7 251.6L491 253.3L492.5 254.6L493.9 255.9L495.6 257L497 257.6L496.7 259.2L497.8 260.3L499 261L500.5 261L501.8 260.5L503.7 260.1L505.5 259.7L507.5 259.8L509.3 259L511.7 258.7L511.5 261.1L510.9 262.5L511 264L509.9 265.3L508.9 266.7L508 268L507.3 269.4L506.4 270.8L505.7 272.4L504.2 273.9L502.8 275.5L501.6 276L500.4 276.8L499.6 278.1L498.4 279L497.3 279.9L495.9 281.3L494.4 282.6L493.4 284.2L492.3 285.1L491.3 285.9L490.5 287.1L490 288.4L489.1 290.1L488.2 292.1L489.6 293.6L489.5 295.1L489.3 296.6L489.7 298L490.5 299.2L491.4 300.5L491.5 302.3L491.6 304.1L491.8 305.9L492.2 307.8L491.5 309.2L490.8 310.7L489.2 311.7L488 313.2L486.5 313.9L485 314.4L483.8 315.6L482.6 316.7L481.6 317.8L482.1 319.7L482.5 321.8L482.5 323.4L482.3 325.2L480.9 326.4L479 327.1L477.5 328.3L477.7 329.7L477.6 331.1L477 332.8L476.5 334.5L475.3 335.8L473.7 336.6L472.7 337.9L472 339.5L470.4 340.7L469 342.1L467.7 342.9L466.4 343.5L464 344.3L462.3 344L460.6 344.5L459 344.6L457 344.5L455.2 345.2L453.3 345.9L451.9 345.1L450.3 344.6L450.3 343.1L450.3 341.8L450.3 339.4L449.3 338L448.2 336.8L447.5 335.4L446.6 334.2L445.7 332.3L444.4 330.7L444.3 329L443.7 327.4L443.3 325.5L443.3 323.6L443.3 322.2L443.1 320.7L442.2 319.5L441.3 318.2L440.4 317L439.2 315.3L438.4 313.4L438.1 312L437.8 310.5L438.2 308.6L438.9 306.8L440 305.3L441.3 304.1L441.7 302.7L441.7 301.2L441.5 299.8L441.1 298.4L440.7 296.5L440 294.7L439.4 293.4L438.8 291.9L438.3 290.1L436.8 288.1L435.6 286.5L434.3 285.1L433.4 283.5L432.4 282L433.6 279.8L434 278.4L433.9 277L434.3 275.6L434.5 274L432.6 272.1L430.8 272.2L429.1 272.5L427.1 272.8L426.4 271.4L425.3 270.5L424.2 268.8L422.4 268.7L420.7 269L419.3 269.4L417.8 269.4L416 270.2L414.2 271.2L412.2 272L410.8 271.7L409.5 270.9L408.1 271L406.7 271.4L405.1 271.4L403.5 271.8L402 272.4L400.6 272L399.2 271.3L397.4 270.3L395.7 269.2L394.7 267.6L392.7 266.6L391.2 264.8L391.3 262.8L390 262L389.1 260.7L388.1 260L386.3 259L384.7 257.6L384.5 255.6L383.9 254.5L383.4 253.3L384.2 252L385.2 250.8L385.2 248.9L385.8 247.1L385.3 245.8L385.2 244.5L385.8 243L384.5 241.5L384.2 239.6L385.4 238.1L386.1 236.3L387.1 235.2L388 234L388.7 231.6L389.9 230.4L390.9 228.8L392.2 228.3L393.7 228.4L394.7 227.3L396.1 226.6L397.5 225.9L397.9 223.8L397.6 221.9L398.8 219.9L400 219L401.1 218.3L403.1 217.1L404.5 215.4ZM508.2 303.1L508.6 304.6L508.8 306.2L509.4 307.7L509.9 309.2L509 310.8L508.2 312.4L508 314L507.5 315.5L507.1 317.1L506.6 318.7L506 320.3L505.7 322L505.2 323.6L504.5 325.5L503.7 327.1L502 327.7L500.5 328.1L498.4 327.3L497.6 325.9L497.3 324.2L497.1 322.8L497.6 321.2L497.9 319.5L498.5 318.1L498.5 316.5L498.1 315L498 313.3L498.9 311.8L500 310.7L501.5 310.3L503 309.8L503.6 308.3L504.8 307.2L505.7 306L506.7 304.4ZM271.5 264.6L272.9 265.9L273.6 264.3L275.2 263L275 261.1L276.4 260L278.1 260L279.9 259.6L280.8 258.3L282.2 257.5L283.1 258.7L281.9 260.1L282.2 261.9L283.4 260.1L285.5 259.2L285.5 257.7L287.2 259.3L288.7 260.9L290.7 260.6L292.8 260.8L294.2 261.4L295.6 261.7L296.9 260.9L298.4 261L300.3 260.6L299.2 262.3L300.8 262.3L302.3 262.9L302.6 264.4L304.3 265.3L305.7 266.3L306.9 267.5L308.7 268.9L309.6 269.9L311.5 269.9L313.3 269.5L315.3 269.7L316.5 270.8L318 271.4L319.6 272.7L320.5 273.8L321 275L321.6 277.4L322.2 278.5L322.9 279.8L322.6 281.3L324.1 281.2L325.4 281.4L326.4 281.8L328.2 282.2L330.2 282.5L331.8 283.6L333.3 285.3L335.8 285.1L337.1 285.7L338.6 286.4L339.9 285.9L341.4 285.7L342.7 286.8L344.2 287.5L345.5 288.5L346.6 289.5L348.2 289.7L349.9 290.1L350.8 291.9L351.2 294.2L350.7 295.6L350.2 298L349.1 299.1L348.2 300.4L346.4 302.2L345.5 303.7L344.3 305L343.9 306.5L343.1 307.8L343.2 309.2L343.4 310.6L343 312.2L342.6 313.7L342.6 315.5L341.7 317L340.8 319L340.1 320.2L339.3 321.3L338.6 322.5L337.6 323.4L335.3 323.5L333.8 323.6L332.4 324.3L330.9 324.7L329.5 325.4L328.1 326.4L326.8 327.4L325.6 328.9L325.5 331.1L325.3 332.5L325.1 334.1L322.9 335.5L322.3 337L321.5 338.3L320.3 339.5L318.8 340.3L317.8 341.7L317 343.2L316.2 344.3L314.9 345.1L313.5 346L311.1 345.9L309.5 345.6L308.1 344.9L307.1 344.2L306.8 345.5L308.8 346.6L309.2 348.3L310.3 349.5L309.1 350.3L308.5 351.7L307.2 352.4L305.9 353.2L304 353.3L302.1 353.5L299.9 353.1L299.9 355.4L299.3 357.2L297.8 357.5L296.2 357.8L295.7 357.2L294.7 358.8L297.3 359.7L296.8 361.7L295.1 362.1L294.9 363.5L293.7 364.5L292 365.3L289.8 365.8L289.6 367.9L291.1 368.7L291.9 369.1L293.4 370.3L291.9 371.8L289.2 371.8L288.8 375L286.3 376.2L287.3 377.3L288.5 379.5L286.1 377.9L282.8 379.1L283.6 380.8L281.8 380L280.5 379.3L278.1 380.3L277.9 378.7L276.9 377.8L277.3 376.1L276.8 374.8L276.4 373.1L275.2 371.8L277.7 369.2L276.2 368.6L275.2 368.3L275.7 366.2L276.4 365L277.5 363.7L278.8 362.8L278.4 361.2L280.4 359.4L278.6 358.7L278.4 357L278.3 355.4L279.3 353.5L278.9 352.1L278.4 350.5L279.9 349.3L280.8 347L281.4 345.1L282.2 343.2L282.4 341.4L282.3 339.5L282.8 338.1L282.6 336.7L282.4 335.3L282.4 333.8L283.2 332.6L283.5 331.1L284.2 329.7L284.7 328.3L284.5 326.4L284.5 324.6L284.8 322.7L285.1 320.8L285.1 319.4L285 318L284.9 316.5L284.4 315.2L283.5 314.3L282.7 313.3L281.6 312.4L280.2 312L278.6 311L276.8 310.4L275.5 309.4L274.2 308.2L273.7 306.6L272.9 304.9L272.2 303.2L271.2 301.8L270.6 300.3L269.9 298.9L269.3 297.5L268.3 296.4L268 295L266.6 293.4L265.7 292.3L264.7 291.9L264 289.3L265 288.3L265.9 287.4L266.9 286.2L266.1 285.4L264.7 284.8L265.2 282.5L266.7 280.7L266.4 279L268.6 278.3L268.7 277.3L269.5 276L271.6 275.7L271.7 273.6L271.8 272L271.3 270.4L271.7 268L270.7 267.2L270 265.4L268.9 264.9L267.6 263.9L266.6 265.3L265.8 267.2L264.8 266.3L263.5 265.6L261.2 265.3L259.8 264.8L258.9 263.8L257.9 262.9L257.3 262.4L255.7 261.5L256.1 259.9L254.7 258.5L253.5 257.8L253.1 256.5L252.3 255.7L250.9 255.8L248.3 255.6L246.1 254.8L243.8 253.7L242.9 252.3L241.5 251.3L239.6 250.5L238.1 250.9L235.8 251.5L234.4 251.3L233 250.9L231.5 249.8L229.7 249.5L228.2 248.4L226.5 248L224.6 247.3L222.8 246.5L221.6 245.8L220.5 244.9L219.3 243.4L219.7 241.4L219.2 240.1L218.7 238.6L217.6 237.2L216.3 235.9L214.8 234.8L213.7 233.7L212.3 233L211.9 230.8L210.7 230L209.8 229.1L208.9 228.4L207.6 227.6L206.3 226.7L206.2 225.2L205.2 224.2L204.9 222.5L203.3 222L201.8 221.3L201.8 222.9L202.6 224.9L203.9 225.7L204.6 227L205.5 228.4L206.9 230.3L207.6 231.4L208.4 232.5L209.5 234.6L210.2 235.4L211.4 237L210.9 238L210 237L209.1 235.8L208.1 234.9L206.5 234L206.4 232.3L204.4 230.8L202.5 230.1L201.5 228.7L203 228L202.2 226.3L201 225.3L200.1 224.1L199.1 222.3L198.3 221.2L197.4 220L197 218.8L195 217.6L193.5 216.9L191 216.3L190.5 215.2L189.5 213.8L188.7 212.3L187.2 210.3L186.4 209.2L185 207.3L184.2 205.5L184.2 203.3L183.5 200.8L184.2 198.6L184.5 196.5L184.7 194.5L184.6 192.9L184 191.6L183.1 191.2L184.9 189.4L187.3 190.1L187.6 192.2L188.4 190.8L187.3 189.7L186.1 188.5L184.1 189.1L182.9 187.6L181.9 185.7L180.2 185.1L178.8 184.9L178.2 182.4L176 182.8L174.8 182.1L173.8 181.1L173.4 179.5L172.8 178.2L172.1 176.2L169.9 175.4L168.4 174.3L167.2 172.9L164.9 171.9L164.1 170.9L163.8 170.8L161.6 170.4L160.8 172.5L159.8 170.2L158.1 170.2L156.4 170.3L155.1 170.1L153.5 169.5L151.9 168.4L150.3 168.3L148.8 169.5L146.9 169.5L145.3 168L143.5 167.2L141.6 167.5L140.2 167.5L138.8 168.5L136.6 170.2L134.9 170L133.1 170L133 168.6L134.4 167.4L135.9 165.7L134.6 166.7L133.5 167.2L131.7 168.7L128.9 169.3L127.8 170.8L127.8 172.8L126.2 174.2L123.9 174.3L121.8 174.9L120.2 176.3L118.4 177.1L116.3 176.8L114.3 176.7L112.8 178.6L111.4 179.2L109.9 178.9L108.3 178.6L110.2 178.5L111.6 176.9L113.8 177.5L115.7 176.8L117.3 175.2L118.4 173.8L120.8 174L120.8 172.1L122.1 170.7L119.6 171.5L118 171.5L116.4 170.4L115 171.4L114.5 171.1L113.6 169.1L112.2 169.7L110.5 169.5L109.5 168.3L108.6 167L107.7 165.3L105.8 164.4L107.2 164.2L108.1 163.4L108.9 163.6L110.3 162.4L111.6 162.3L113 161.9L114.4 162.1L115.5 159.9L114.1 159.9L112.7 160L110.8 159.6L109 159.7L107.2 160.4L105.4 160.5L104.3 158.7L102.5 158.6L103.6 157.1L105.2 157.4L107 156.7L109 156.4L110.4 157.1L112 156.9L112.9 157.1L113.9 156.1L112.1 155.7L110.6 154.8L108.3 154.3L106.9 152.8L104.9 152.7L106.1 151.9L107.8 152.3L109.3 152L110.7 151.3L112.5 149.4L114.2 149.6L115.7 149.1L117.4 149.5L119.1 148.2L121 148.2L122.5 148.5L123.8 147L125.7 147.9L127.6 148.5L129.1 148.7L130.7 148.5L132.3 148.6L134.1 148.7L136 149.4L137.6 149.1L139.1 149.6L140.6 149.9L142.2 149.7L143.8 149.8L145.3 150.3L147.2 150L149.1 149.7L150.9 150.4L152.8 150.7L154.7 150.7L156.6 150.7L158.4 151.6L160.3 152.1L161.7 151.6L163.1 151.4L164.9 150.9L166.8 151L168.7 150.7L170.6 150.5L172.4 150.3L174.2 149.6L175.5 148.9L177.2 149L178.5 149.9L179.7 151.8L181.4 150.2L183.1 151.7L184 150.6L186.5 151.4L187.8 151.2L189.1 150.7L190.8 150.3L192.4 150.6L193.9 151L195.3 152.3L197.1 150.8L198.9 151.5L199.6 153.4L201.4 153.2L202.9 152.9L204.1 153L205.8 154.2L207.4 153.6L209.1 155.2L210.8 154.9L212.3 154.8L213.9 153.1L214.9 154L215.3 155.7L216.7 154.6L217.1 153.7L219.1 153.4L221 153.1L222.5 153.7L224 154.3L225.6 154.6L227.5 154.7L229.6 154.9L230.9 154L232 152.3L233.8 153.6L235.5 152.6L236.7 153.5L237.5 154.8L239.5 154.4L239.8 152.8L240.2 151.5L238.8 150.5L237.3 149.8L236.4 148.5L237.7 146.7L239.8 146.3L241.1 147.2L241.6 149L243.3 149.1L244.7 149.6L244.8 151.6L247.1 152.6L248.6 153.3L250.3 151L251.8 152.8L251.6 155.5L254 155.8L256.4 154.5L255.5 151.3L257.4 149.9L258.9 149.6L260.5 149.8L261.3 151.5L263.7 152L263.6 152.4L262.5 154.3L263.9 154.8L262.7 156.4L261.1 157.5L259.2 156.4L257.6 156.1L255.7 156.1L255.4 157.3L254 158.2L252.7 159.2L251.3 159L250 158.7L250.9 159.7L251.7 161L249.9 161L247.9 161.2L246.6 162.7L245 163.6L243.4 164.1L242.3 164.9L241.6 166L240.6 166.9L239.8 167.8L239.1 169.1L239 170.6L240.8 170.6L242.6 171L242.9 172.4L243.3 173.8L244.7 174.1L246.2 174.1L248 174.3L249.8 174.8L251.3 175.4L252.7 176L254.6 176.6L256.4 177.6L258 177.3L259.5 177.6L261.1 177.6L261.9 178.8L262.3 179.9L262.3 182L263.9 183.2L265.7 184.8L267.9 184.7L268.5 182.8L268 181.4L269 179.5L267.2 178.3L269 177.9L270.3 176.4L271.9 176.4L272.8 175.2L272.9 173.7L271.8 172.9L271.4 171.4L269.6 170.7L270.8 170L270.8 169L270.6 166.8L270.4 164.2L271.8 164.3L273.2 163.7L275.1 164.1L276.9 164.6L278.6 165.9L280.9 165.3L282.5 166.6L283.9 167.2L284.8 167.4L286.7 167.9L286.5 169.5L286.1 171.5L287.5 171.9L289.1 171.5L290.7 171.1L293.3 171.3L294.2 168.9L295 168.3L296.4 169.8L297.1 170.9L298.7 171.2L299.1 172.7L300.6 173.2L301.3 175.1L301.8 176.5L302.9 177.5L305.1 177.6L306.5 178.1L307.8 178.9L309 179.9L310.6 181.3L312.3 182.8L311.6 184.3L310 184.1L308.4 184.3L307.6 186.1L305.8 186.3L304.4 186.4L303 187.6L301.2 186.4L299.3 187.3L297.5 186.7L295.6 186.7L293.7 186.7L292 187.2L290 188.5L288.6 189.3L287.2 190.2L286.2 191L285.3 192.1L283.5 193.1L285.1 192.8L286.8 191.8L288.1 190.5L289.5 189.7L290.9 189.4L292.8 189.2L294.7 188.8L296.1 189.8L294.9 190.4L293.9 191L294.9 192.5L295.1 194.2L296.9 194.6L298.6 195L300.3 195.2L301.9 196.1L302.2 194L303.5 192.9L304.1 194.7L302.1 196.2L300.3 196.8L298.5 197.5L297 197.9L295.6 198.6L293.6 199.3L292.2 198.4L293.3 197.6L294.5 197.1L295.7 196.1L295 195.2L292.9 196.5L290.8 196.8L289.5 197.5L288 197.8L286.6 198.3L285.5 199.3L283.9 200.4L283.6 201.5L284.3 202.4L285.4 202.3L285.3 202.7L284.2 203.4L282.5 203.2L281.2 203.7L279.9 203.6L278.4 204.4L277.9 205.1L277.5 206.4L276.1 208L275.2 207.1L275.8 208.8L275.3 210.1L274.6 211.5L273.4 211.7L273.2 210.3L272.9 208.9L273.3 210.2L273.4 211.8L274.3 211.9L274.5 213.7L275.2 215.2L273.2 215.9L271.9 216.5L270.8 217.3L268.4 218L266.6 219.8L264.8 221.3L263.8 223.8L265 225.9L265.4 228.1L266 229.4L266.5 230.7L266.2 233L265.1 234L264.7 233.3L263.3 231.6L262.5 230.5L262 229.3L261.4 227.5L260 225.8L258.8 224.6L256.6 225.5L254.9 223.8L253.5 224.2L252.1 224.1L250.2 223.9L248.9 224.5L249.3 226.1L247 226.3L244.6 225.7L243 225.6L241.5 225.5L239.2 225.8L237.2 227.3L236 228.1L234.7 228.7L234.4 231.2L234.7 232.6L234 234.2L233.9 235.9L233.8 237.3L233.5 238.7L234.1 240L234.4 241.5L235.4 242.8L236 244.3L237.7 245.8L239.6 246.6L241 246.6L242.4 246.3L244.5 245.8L246.4 245L246.5 243.6L246.9 242.4L247.4 241.3L249.1 241.1L250.8 240.8L252.2 240.7L253.7 240.6L254.1 241.9L253.6 243.2L252.6 244.3L252.3 246.5L251.4 247.5L251.1 249.7L250.2 251L251.8 251.7L253.1 251.4L254.5 251.1L255.9 251.4L257.4 250.8L259.6 252L260.7 252.7L260.5 254.6L260.5 256L260 257.3L260 259.2L259.9 260.6L261.3 262.8L263 263.5L264.7 264.1L266.7 263.6L267.6 262.8L269.4 263.2L271.4 264.8ZM288.3 379.7L286.4 380.2L284.8 380.9L284 380.8L284.9 383.7L287.2 384.5L288.8 384.2L290.3 382.3L292.1 384.4L294.5 382.2L293 382.4L292.2 381.3L290.4 381.1L288.5 380.7ZM302.1 376.4L304 376.4L305.9 376.2L308.2 377.1L306.9 377.5L305.9 378.2L304 377.8L302.3 377.8ZM257.4 239.7L259.3 238.8L261.1 237.7L263 237.8L264.8 237.4L266.7 237.9L268.5 238.8L270.3 239.8L272.4 240.2L273.5 241.4L275.2 241.8L276.3 242.4L277.5 243.1L276 243.4L274.4 243.3L272.9 243.4L271.2 243.6L270.5 241.9L268.9 241.3L267.6 240.5L265.8 239.6L263.9 239.2L262 239.1L260.1 239.2L258.8 239.3ZM277.1 246L278.6 244.9L279.7 243.7L281.1 243.8L282.5 243.5L283.9 243.9L285.3 244L286.8 244.9L288.2 246.1L287.2 246.5L285.8 246.8L284.3 246.3L282 247.8L280.7 247L279.3 247.1L278.1 246.8ZM269.9 246.3L271.7 246.4L273.6 247.2L271.2 247.7ZM290.6 246.5L292 246.5L293.3 246.4L291.9 247.2ZM300.6 260.5L302.3 260.7L301.7 261.9ZM270.4 231L271.7 231.2L271.1 233L270.6 235.2L270.1 234.1L270.4 232.5ZM305.6 191.8L305.8 189.9L306.7 188.2L307.4 186.7L308.4 185.4L310 185.1L311.8 184.5L311.7 185.9L311.3 187.8L312.8 187.9L314.4 188.2L315.4 189.1L316.3 190.1L316.9 192L316.1 193.7L314.7 193.4L313.3 193L311.5 192.1L310.1 192L308.7 192L307 191.6ZM296.6 187.5L298.4 187.9L300.2 188.2L298.9 188.6L297.6 188.5ZM296.1 193.4L298.3 193.4L300.3 194.1L298.4 194.7L297.4 193.9ZM176.6 185.5L178.3 186.7L180.2 186.7L182.6 186.5L182.6 188.7L185 188.4L185.6 189.4L183.4 190.6L181.2 190.5L180.1 189.4L179.5 187.5L178.8 186.6ZM167.8 178.5L170.2 179.9L170.6 181.5L171.4 182.4L169.5 183.1L168.7 181.8ZM127.5 173.1L129.7 173.2L131.8 171.8L131.4 172.7L130.3 174.5L128.1 175ZM95.8 162L97.4 162.1L99.1 161.9L100.6 162.5L99 163L97.8 161.8ZM103.3 168.7L104.9 168.9L106.4 168.1L105.1 169.3ZM106.1 179.9L108.2 179M101.5 181.2L104.6 180.3M98.7 182.1L100.5 181.8M90.3 183.4L94 183.1M84.7 184.2L87.5 183.6M748.3 184.4L751.1 184.8M738 182L739.9 182.1M124.8 244.1L126.7 244.2L125.7 245.1ZM120.7 240.6L121.6 240.8M245.4 281.3L246.1 282.4M244.1 193.3L245.6 193L246.6 191.9L247.9 191.3L249.3 190.7L250.8 190.4L252.4 190.5L253.9 190.7L255.3 191.3L256.8 192.1L257.9 193.4L255.5 193.7L254.1 193.7L252.7 193.8L251.3 193.4L249.9 193.2L248.5 193.5L247.1 193.9L245.7 193.4ZM252.2 202.3L252.2 200.9L251.7 199.4L252.4 198.1L253.2 196.8L253.6 195.4L255.4 195L257.4 195L256.3 196.1L255.8 197.5L255.1 198.6L255 200L254.9 201.3L253.4 201.6ZM258.3 194.6L259.9 194.6L261.5 194.7L263.2 194.7L264.8 194.8L265.9 196L266.7 197.5L265.2 198.9L263.5 199.8L262.1 200.1L259.9 198.5L260.7 196.1L259.3 195.8ZM260.3 202.6L261.8 203L263.3 202.9L264.9 202.8L266.7 201.8L268.5 201.2L267.1 201L265.8 201.4L263.9 201.9L262 202.4ZM267 199.6L268.8 199.8L270.5 200L272.3 200L273.6 198.6L272 198.6L270.4 198.8L268.8 199.5ZM232.1 180.3L233.5 180.2L234.8 180.3L235.1 182.1L235.8 183.7L236.2 185.5L235.1 186.5L234 185.2L232.9 183.7L232.7 181.9ZM197.7 166.7L199.1 166.1L200.4 165.5L201.9 165.1L203.2 164.5L205.1 164.2L206.9 163.8L208.9 163.6L207.4 164.5L206.1 165.9L204.5 166.2L202.8 166.4L201.4 166.9L199.5 166.7ZM182.5 156.5L184.5 156.6L186.4 156.3L188.3 156.3L190.2 155.4L191.9 156.5L193.6 157.5L196.1 157.6L194.4 157.7L193.2 158.4L192 159.4L190.1 159.2L188.3 158.8L186.3 159.2L184.5 158ZM182 145.8L184.1 145.6L185.3 144.7L185.5 143L186.8 141.6L188.6 142.2L190.1 141.7L192 142.3L193.9 141.9L195.7 142.4L197.2 142.9L199 143.2L200.5 144.3L198.6 143.4L197.5 145.5L195.5 144.8L194.6 146.1L192.9 146L192.1 148.1L190 146.3L188.3 148L186 148.8L184.3 147.5ZM195.9 147.1L197.5 147.3L197.7 148.9L199.2 149.4L200.4 150.5L202.2 150.2L203.7 150.5L205.1 150.9L206.6 152.3L208.1 152.9L209.7 152.1L211.4 151.5L212.8 153L214.4 152.2L216.2 151.7L218.1 151.4L220 152.8L222.1 152.8L223.5 151.9L225 151L226.7 150.5L225.5 149.2L224.1 147.3L222.5 148.6L221.3 148.1L221.2 146.4L220.1 144.4L218.1 144.9L216.2 144.9L214.4 143.9L212.7 145.2L210.6 143.8L208.8 145.2L207 143.8L205 145.1L203.2 144.7L201.6 145.2L199.9 144.9L198.4 145.6L197.8 145.5ZM224.6 147.2L226.3 146.3L228 146.3L229.6 146.6L231.2 147.2L232.7 146.3L234.5 146L236.1 144.7L234.3 144.2L233.1 141.9L231.2 142.1L229.3 144L227 142.3L225.5 143.1L224 144.8ZM237.6 145.1L239.8 146.3L241.6 145.5L242.4 143.5L243.8 143L246.1 144.5L247.1 142.6L245.4 143.3L243.8 143.5L242.5 143.2L240.9 143.2L239.2 142.1L238.1 142.9L238.6 144.4ZM248.4 145.3L250.1 144.3L251.7 142.1L253.4 143.9L255 143.2L256.6 143.7L258.3 143.4L259.9 144L261.5 143.8L263.2 143.9L264.9 142.4L266.4 143.9L268.1 143.9L269.7 144.7L271.5 144.3L272.9 144L271.8 145.2L270.5 145.4L272.1 145.5L273.8 145.5L275.3 146.6L277.2 145.8L278.8 147.2L280.9 146.9L282.5 148.1L284.4 148.6L286.2 149.1L287.6 150.2L290.2 149.5L290.5 150.8L289.6 152.5L288.1 153.5L289.7 154.2L291.3 155.1L293.3 154.4L294.9 155L296.3 156.7L298.3 154.9L299.6 156.6L301 156.3L300.6 158.4L298.6 158.3L297.6 159.1L295.9 158L293.8 158.1L291.8 157.3L290 158.3L291.6 159.3L292.7 161L295.4 161.5L295.1 163.5L293.2 163.3L291.2 163.3L289.7 161.9L287.8 162L286 161.9L284.3 161.9L282.9 161.8L282 160.8L280.3 160.3L278.6 160.3L277 160L275.1 159.4L273.2 159.2L271.4 158.8L273 158.2L274.6 157.9L276.1 157L277.9 157.1L280 156.8L280.8 154.3L279 153.4L276.8 153.8L274.9 153.2L273.4 152.5L272.4 151.1L271 150.2L269.4 149L267.9 150.9L266.2 149.3L264.5 149L262.9 149.9L261.3 151.1L259.7 150.5L258 151.2L256 150.7L255.5 148.4L253.6 148.3L252.1 147.9L250.6 147.4L249.9 147.5L248.7 146ZM235.9 140L237.6 139.7L239.3 139.4L241 138.8L242.7 138.5L244.3 137L246.1 138.2L248 137.8L249.8 138.6L251.9 137.1L253.7 137.6L255.6 137.5L257.2 139.6L259.2 140.2L261 139.7L262.9 139.1L264.8 140.3L266 139.4L266.1 141.1L264.4 141.9L262.6 141.9L260.8 141.6L259 141.9L257.2 141.7L255.5 141.3L253.9 140.5L252.2 142.6L250.7 141.3L249 142.5L247.4 142.3L245.9 140.6L244.3 141.1L242.8 140L240.9 140.8L239 141.5L237.5 140.3ZM251.9 137.7L251.2 136L250 134.9L248 134.7L249.4 134.1L250.7 133L252.6 133.8L253.8 132.4L255.3 133.5L253.6 133.4L252.1 133.1L250.9 131.1L249 132.1L248 129.7L245.9 129.5L247.8 130.9L248.9 128.8L250.3 128.2L252.2 129.5L253.5 128L255.3 128.8L256.7 127.2L258.3 126.6L260.3 128L261.9 127.6L263.6 127.6L265.1 127L266.6 125.1L268.4 126.4L270.1 126.5L271.8 125.9L273.5 127L275.1 125.3L276.9 126.9L278.6 126.3L280.2 124.6L281.9 124.5L283.6 126L285.3 126.3L287.1 124.7L288.7 125.4L290.3 126.5L292 125.3L293.6 127.1L295.3 126.3L297 125.4L298.6 126.3L300.2 126.5L298.8 127.4L297.1 127.4L296.1 129.2L294 128.3L292.9 129.8L291.1 129.5L289.5 129.9L288 130.7L286.5 131.2L284.7 130.6L283 130.5L281.5 131.3L279.7 132.1L278 133.1L276.2 133.9L273.3 132.5L272.8 134L271.9 134.8L271 136.5L269.4 136.6L267.6 136.5L266.7 137.5L264.8 138L262.9 138.6L261.1 138.3L259.2 137.2L257.3 138.3L255.5 137.5L253.6 137.7ZM237.2 133.5L238.6 132.6L239.6 130.8L240.8 129.5L242.5 129.3L244.3 128.9L246.1 129.7L247.9 130.5L249.7 131L252.8 130.1L251.4 132.1L252.5 132.5L250.9 132.7L249.4 133.7L247.9 134.7L246.2 133.7L244.3 133.7L242.4 133.8L240.9 133.2L238.5 133.8ZM197.5 137.3L199.5 138.2L201.4 138.5L203.1 136.9L205 137.9L206.5 138.6L208.3 137.1L209.7 138.2L211.2 138.5L212.9 138.2L214.8 137.9L215.9 138.7L216.6 140.5L218.1 140L216.6 141L215.1 142L213.4 140.4L211.8 140.7L210.4 142.1L208.8 141.4L207.3 140.5L205.6 140.3L203.9 141L202.3 140.9L200.8 140.2L199 140.7L196.9 139.6ZM220 137.3L221.6 138.5L223.1 137.6L224.7 138L226.2 137.5L227.8 137.7L229.6 136.7L231.2 136.9L232.1 139.5L234.1 139.1L232.6 140.2L230.6 139.5L228.9 139.6L227.4 141.5L225.6 140.3L223.7 140.8L221.9 140.3L220 139.9ZM184.3 136.8L186.6 138.7L188.4 138L190.1 136.7L192 136.6L193.8 135.7L195.8 136.9L197.6 135.9L199 135.1L197.6 136.3L196 137L194.7 137.4L193.2 139.2L191.6 139.8L190 139.6L188 139.8L186.1 139.4ZM254.5 158.2L256.1 158.3L257.7 158.3L259.2 157.9L260.6 158.9L262.1 159.6L263.8 159.9L265.1 160.9L266.7 161.7L264.8 161.9L262.8 161.6L261.6 163L260.2 164L258.6 163.2L257.1 162.3L255.5 161.7L253.5 161.2L254 159.8ZM266.3 164.2L267.5 164.1L267.6 165.1ZM228.2 151.4L230 150.5L232 150.5L234.1 150.3L235.5 152.2L237.6 150.9L235.7 151.4L234.2 153.6L232.3 152.2L230.4 152ZM279.8 134.5L281.6 134.8L282.5 132.2L284.2 132L286.1 132.9L287.8 132.8L289.2 131.8L290.5 130.4L292.3 130.6L294 130.5L295.2 128.5L296.9 128.6L298.5 127.9L300.2 127.1L301.9 127.8L303.5 127L305.1 127.2L306.8 127L308.5 127.7L310 126.5L311.7 127.5L313.3 126.6L315 126.2L316.8 127.6L318.4 126.4L320.2 127.4L321.8 127.2L323.5 127.2L325.2 125.9L326.9 126.3L328.6 125.7L330.3 126.9L332 126.7L333.7 126.2L335.4 125.8L337.1 125.5L338.8 126.2L340.5 125.5L342.2 125.6L343.8 124.7L345.5 124.7L347.2 124.4L349 125.3L350.7 124.9L352.3 124.3L354 125.5L355.7 124.6L357.3 124.9L359 124.5L360.6 124.7L362.3 125.7L363.9 124.9L365.7 124.7L367.2 125.5L368.9 125.5L370.4 126.8L372.2 125.8L373.6 127.5L375.5 126.3L376.9 128L378.6 127.9L380.3 127.3L381.9 127.9L383.5 127.7L385.1 127.8L386.7 127.8L388.3 128.2L389.7 129.3L391.5 129.8L393.5 128.8L392.2 130.4L390.6 130.5L388.8 129.8L387.5 131.4L385.8 130.7L384.5 131.6L382.8 131.8L383 133.7L381.1 134.4L380.7 136.2L380.1 137.8L379.5 138.8L378.3 141.1L379.6 141.7L380.7 143L378.7 143.3L376.6 143.2L375.4 144.4L374.8 146.3L375 147.9L374.1 149.6L372 149.1L370.2 149.6L368.7 150.8L367.4 152.1L365.7 153.5L363.7 152.9L361.9 153.3L360 153.9L358.3 154.2L356.7 154.3L355.2 154.9L353.7 155.4L352.5 156.4L350.8 157.5L349 158.1L346.8 157.5L345.1 158.5L343.1 158.5L341.9 159.8L340 160.5L339.7 162.4L337.7 163.2L336.1 164.8L336.2 166.4L336 168.5L334.1 167.7L332.9 168.9L331.8 167.6L330 167.8L328.5 167.5L327.1 166.1L325.3 166.4L323.7 165L322.5 163.3L321.4 161.9L319.2 161.3L319 159.6L317.9 158.5L317.1 157L315.5 155.6L316.5 154.2L316.3 153.3L317.9 152.8L319.1 151.3L320.9 150.6L318.9 150.7L317.2 149.7L314.5 149.9L315.3 148.2L314.8 146.7L313.3 146.3L312.4 145.4L311 143.9L309.6 142.5L307.7 141.7L306.9 139L305.1 139.9L303.4 139.9L301.7 139.7L300.3 139.1L298.6 137.8L297 139.7L295.3 139.7L293.5 138.3L291.7 139.6L290.1 139.7L288.8 138L287.3 137.7L285.4 137.2L283.7 137L285.1 136.4L283.7 134.2L281.7 134.1ZM370.4 157.8L371.9 157.3L373.5 157.3L374.9 156.8L376.9 157L378.5 157.3L380.5 157.4L382.3 156.6L384.3 157L385.9 157.1L387.8 156.7L388.9 158L390.4 159L389.5 160.5L387.9 160.2L386.2 160.4L384.8 161.7L383.1 162.1L381.5 161.8L379.6 162.1L377.7 162.1L376 161L374.3 161.7L374.9 160.6L373 160.3L371.1 159.3L372.6 159.1L374.1 158L372.4 158.1ZM405.7 213.3L404.3 212.2L402.2 211.1L400.8 211.7L399.4 211.6L399.8 210.3L399.7 208.8L398.1 208.2L399.2 206L399.8 203.8L399.3 201.4L398.6 200.4L399.7 199.6L401.1 199.1L403.1 199.2L405.2 199L407.1 199.2L408.9 199.8L410.8 199.8L412.9 199.8L413.7 197.6L414.1 195.5L413.9 194.3L413 193.4L411.8 192.8L410.7 192L409.4 191.6L407.3 190.8L409.5 189.5L411.2 189.7L413.3 189.7L412.6 188L414.1 188.3L416.4 188.3L417.6 187.7L419.1 187.2L419 185.6L420.3 185.2L421.7 185L423.3 183.5L424.8 181.8L427.3 181.3L429.1 180.7L431.4 180L432.2 178.4L431.3 177.1L431.1 174.5L432.4 174.1L433.6 173.7L436.2 173.1L435.3 175.2L436.2 176.3L434.4 177.7L434.4 178.6L436.2 179.9L438.4 179.7L439.8 179.3L441.2 179L442.7 180L444.2 179.4L445.9 179.5L447.4 179.1L449 178.9L450.5 178.7L452.9 179.1L454 178.2L455 177.5L455 176.1L455.2 174.7L456.6 173.8L457.9 173.2L459.5 173.2L460.7 173.9L462.1 171.4L459.8 169.7L461.3 170L462.7 169.6L464.5 169.1L466.4 170.5L468.2 169L470.4 169.6L472.1 169.3L470.5 169L469.1 166.8L467.7 167.8L466.2 168.7L464.6 168.2L462.7 168.4L460.7 168.1L458.6 169.6L457.3 168.7L457 167.5L456.4 166.2L455.1 164.9L456 162.4L457.4 161.7L459.1 161.5L460.5 160.5L462.1 160L463.4 157.8L460.8 157.8L459.1 157.5L457.1 157.7L456.1 158.8L455.6 160.3L453.9 160.6L452.6 161.6L451 162L450.3 164.5L447.6 164.9L448.6 166.3L449.4 168.4L451 168.6L449.6 170L448 170L447.2 171.5L447.2 172.9L446.7 174.2L445.4 175.6L444.1 176.3L442.7 177L440.2 177.3L439.7 175.8L439 174.4L437.6 173.3L437.3 172L437 170.5L436 169.2L434.5 170.9L432.5 170.9L431.2 171.5L429.1 172.4L427.7 171.8L425.9 171.2L425.5 169.8L424.6 168.3L425.5 166.9L425.4 165.7L426 164L427.9 164.6L428.9 163L430.7 163.4L431.9 162.8L433.7 163L434.9 161.7L436.4 159.6L438.4 159.3L438.7 156.7L440.2 155.7L442.2 155.4L443.5 154.3L445.3 154.1L447 152.9L448.7 151.6L450.4 151.9L451.5 150.4L453 150.1L454.7 150.1L456.1 149.3L457.9 148.7L459.9 148.7L461.3 148.1L462.8 149.1L464.1 148.3L466.2 148.2L468.5 147.6L470.2 148.7L472 149.3L473.8 149.7L472.4 150.1L471 151.3L472.6 151.7L474.3 150.9L476 151.1L477.6 151.4L479.4 151.8L481.3 151.5L483.2 151.7L484.6 152.4L486.2 152.5L487.7 153.1L489.1 153.9L490.5 154.3L491.8 155.1L493 156.2L490.7 156.9L489.1 157L487.6 156.9L486 156.8L484.2 156.6L482.3 156.7L480.3 156.6L479 156.1L477.6 155.6L479 156.8L480.6 157.8L481 160.1L482.6 160.7L484.3 161L485.9 161.2L486.9 160L488.5 159.9L490.1 159.7L491.6 160.1L490.7 158.4L492.2 157.6L493.8 157.4L495.4 156.5L496.7 156.8L498.3 157.1L498.2 154.7L497.2 152.9L498.8 152.8L500.3 153.2L501.8 153.4L502.7 155.5L504.2 155.1L505.6 154.3L507.2 154.4L508.7 154L510.3 153.7L511.8 153.4L513.4 153.2L514.9 153.4L516.3 153L517.7 153L519.6 152.8L521.5 152.7L523.4 152.7L525.2 152.3L527.1 152.3L528.5 151.6L530 149.8L531.7 151L533.6 150.8L535.4 151.6L537 151.4L538.6 151.3L540.2 151.6L542.2 152.1L544.2 152.8L542.5 152L540.9 151L541 149.6L541 148.1L542.1 146.4L544.1 145.8L545.3 144.8L546.6 144.6L548.2 144.2L549.8 144.7L551.6 144.8L552.2 146.4L551.4 148.1L551.2 150L551.5 151.8L551.9 153.6L553.5 154.9L553.9 152.8L554.3 151.3L554.7 149.7L554.1 148.2L555.5 147.1L556 145.1L557.6 145.4L559.1 146L560.6 145.6L562.1 145.6L563.4 146.2L565.3 146L567.5 146.2L566.4 145L566.2 143.1L567.9 143.2L569.5 142.8L571.2 143.6L572.7 142.7L574.7 142.6L576.4 141.6L578.4 141.6L578.4 140.2L580.3 140L582.1 139.3L583.9 139.2L585.9 139.8L587.7 139L589.6 138.7L591.4 138.5L593.3 138.4L594.9 138.2L596.4 137.8L598 138.5L599.5 138L601.1 137.6L602.7 138.1L604 137L605.6 136.7L607.3 136.9L608.5 135.7L610.2 135.6L611.9 136.6L613.8 137.1L615.8 136.9L617.3 137.3L618.8 137.9L620.4 137.7L621.9 138.5L623.5 137.8L624.8 138.7L626.5 139.2L628 140.4L626.3 140.8L624.8 141.8L622.9 141.7L621.4 142.3L622.9 143.2L624.4 142.9L626 142.8L627.4 142.8L628.8 143.4L630.4 143.2L631.9 144.1L633.5 143.4L635 144.1L636.6 144.3L638.1 144.2L639.8 144.7L641.5 144.1L643.2 144.4L644.9 144.2L646.6 143.8L648.4 144.2L650.3 144.1L652.3 144.4L653.5 145.8L655.3 145.9L656.7 146.9L658.5 146.8L659.9 147.9L661.4 148.2L662.9 147.7L664.3 146.8L666.2 146.6L668 147L669.9 147L671.7 147L673.3 147.6L674.8 147L676.3 147.1L678.1 146.5L679.2 145.3L681 145.6L682.9 145.8L684.8 145.1L686.7 145.5L688.3 145.4L689.7 146.4L691.3 146.6L692.9 146.4L694.5 146.7L695.9 147.2L697.5 147.7L699.2 147.6L700.7 148.8L702.3 148.1L704 148.4L705.7 147.9L707.4 147.7L708.9 148.6L710.4 149L711.8 149.5L713.5 149.3L714.7 149.9L716.5 150.1L718.4 150.2L720.3 150.4L722.1 150.5L724 150.1L725.9 150.5L727.7 150.9L729.6 150.3L731.5 151.1L733.4 150.7L735.2 150.3L737.1 149.8L738.9 150.1L740.8 150.5L742.7 150.2L744.6 150.1L746.3 151.3L748.2 151.5L750.2 151.4L752 152.1M80.1 151.6L81.5 152.9L83.1 153L84.8 152.7L86.3 153.3L87.9 153.6L89.3 154.9L91.3 154.5L93 155.7L94.8 155.9L96.5 155.7L97.6 157L99.1 157.4L97.5 157.7L96.1 158.3L95.1 159.6L93 161.2L91.6 159.8L89.9 160.1L88.6 159.3L86.6 158.9L84.7 158.2L83.3 157.8L81.8 157.7L80 159.2M752 159.2L750.8 160.2L749 160.2L749.7 161.6L750.1 163.1L750.6 163.5L749.2 164.7L747.6 164.2L746.2 165.3L744.5 164.7L742.6 165.2L740.9 166.5L738.9 166.8L737.1 166.9L735.5 167.9L733.9 168.6L732.4 168.8L731 168.9L729.6 168.3L727.7 168.5L725.9 169L724.1 169.1L722.9 170.3L721 170.8L720.1 172.8L720.2 175.4L719.4 176.8L718.4 178L717.2 179L715.6 179.5L714.7 181L713.4 181.7L711.5 181.8L711.1 183.6L709.7 184.3L708.5 185.6L708.3 183.9L707.3 182.7L707.2 180.8L706.2 178.9L706.9 177.1L706.9 175.3L707.9 174L709.3 173L710.7 171.8L711.6 169.9L713.1 168.8L714.6 167.6L716.1 166.8L717.6 166L719.2 165.7L720.6 164.8L722.1 164.2L720.5 164.7L718.9 165.3L717.3 165.3L715.6 165.4L714.3 166.6L712.5 166.7L710.8 166.6L709.5 166.3L707.4 166.7L706.4 168.2L705.4 170.1L703.4 169.7L701.5 169.7L699.7 170.5L697.8 170.7L696 170L694.1 169.7L692.5 170.1L690.9 169.8L689.3 170.5L687.6 169.5L685.7 169.9L683.9 170L681.7 169.8L680.3 171.1L679.1 172.6L677.5 173.6L675.7 174.7L673.9 175.7L671.9 176.1L670.3 177.1L669 178.4L671 179.1L672.6 180.4L674.1 181L675.7 181.4L677.4 180.8L679.4 181.4L679.8 183.4L679 184.9L678.5 186.4L678.4 188L677.9 189.5L677 190.8L675.8 191.9L674.5 192.9L673.3 194.3L671.8 195.2L671 196.9L669.7 198.4L668 199.4L666.1 200.1L664.4 200.7L662.1 200.1L660.9 200.7L659.6 201.4L658.3 203.6L657.7 205.1L656 206.3L654.1 206.9L654.9 208L656.2 208.6L656.5 210.3L657.9 211.6L657.7 213L657.4 214.1L656.9 215.6L654.4 216.2L651.9 216.3L652 213.8L652.6 211.5L651 211.1L649.9 210.1L649.9 208.8L649.8 207.4L648.2 206.3L646.5 206.9L644.6 207.3L642.4 208.3L643 206.7L643.7 205.2L641.9 204.4L640.4 205.3L639 206.2L637.6 206.8L636.4 207.6L637.9 209.7L638.5 211L639.9 210.6L641.3 210.1L643 210.4L644.8 211.3L643.3 211.8L641.9 212.4L640.4 213.3L639.5 214.3L638.5 215.5L639.4 216.5L640.3 217.3L641.4 219.5L642.4 220.6L643.8 221.5L643.5 223.1L641.8 224.2L643.8 225.1L643 227.5L641.8 228.5L640.9 229.9L640 231.3L639.3 232.8L638.3 233.8L637.1 234.6L636 236L634.5 237L632.9 237.5L631.6 238.4L629.2 239.3L626.9 239.5L625.6 240.2L624.1 240.5L621.9 241.1L621.9 242.8L621 240.5L618.6 240.2L617.2 241.1L615.9 241.6L614.6 242.9L613.4 244.9L614.6 246L614.5 247.7L616 248.5L616.9 249.5L618.1 250.8L619.1 252.1L619.5 253.6L619.7 255.2L620.3 256.9L619.4 259.2L618.3 260.6L616.7 261.1L615.1 261.4L615.1 263.4L613.7 263.8L612.1 264.7L611.7 262.8L612.1 260.9L610.2 260.9L608.5 260.1L607.5 258L605.7 258.1L605.1 256.7L603.6 255.3L603.1 256.5L602.2 257.8L602.6 259.3L602.3 260.8L600.8 262L601.3 263.6L602.7 264.9L603.8 266.7L605.3 268.3L607.8 269.2L608.4 270.4L609.2 271.7L609.8 274.2L609.1 275.9L610.2 276.8L610.5 278.3L609.4 278.1L607.3 276.9L606.5 275.6L605.2 275.2L604.4 273.1L603.8 271.8L603.9 270.3L603.3 268.2L601.6 267.9L601.1 266.3L599.7 265.4L599.8 263.1L600.5 261.1L600.6 259.7L599.8 258.4L599.6 256.9L599.6 255.4L599.5 254L598.8 252.7L597.8 251.4L598.3 249.8L597 249.3L595.4 249.9L594.3 250.5L591.6 250.8L592.7 249.5L592.6 248L591.7 246.7L591.2 245.5L589.9 243.4L588.5 241.4L587.9 240.3L587.3 239.3L585.5 238.9L584.1 239.9L582.1 240L580.3 240.4L578.4 240.9L578.1 242.5L576.5 243.6L574.7 244.9L572.9 246.7L571.3 247.6L570 248.9L568.1 250.2L566.1 251.1L565.3 252.7L565.9 254.3L565.8 255.9L565.4 258.3L565.1 259.9L564.8 261.3L563.4 263.2L562.2 264.5L560.5 265.7L559 263.8L558.3 262L557.5 260.4L556.9 258.7L556.1 257.7L555.8 256.4L555.2 255L555.1 253.5L553.8 251.7L553.1 250.4L552.7 249L552.2 247.1L552.1 245.2L551.9 243.8L551.4 242.5L551.1 240.6L551.4 239.3L550.4 241.5L548.5 241.8L547 241.5L545.9 240.3L544.7 238.8L546.7 238.2L547.2 237.9L545.8 237.8L544.4 237.2L543.2 236.1L541.4 235L540.3 233.5L538.4 233.4L536.4 233.8L534.8 233.8L533.3 233.7L531.7 233.8L529.9 233.5L528 233.5L526.7 232.9L525.3 232.6L522.5 232.3L522 230.3L520.5 230.5L519.1 230.6L517.8 230.9L516.4 230.6L515 230.2L513.5 229.5L512 228.7L511 226.5L509.4 224.3L507.3 223.7L506.5 224.6L505.7 225.6L506.4 227.6L507.4 228.7L508.4 229.7L509.4 231.3L510.2 233L511.5 232.2L512.4 234.1L511.8 235.1L514 235.6L515.4 235.5L517 235.8L518 234.5L519.2 233.4L521.1 231.8L521.4 234L522.1 235.3L523.7 235.8L525.4 236.4L526.3 237.8L527.7 238.7L526.7 240.1L525.7 241.5L524.4 242.8L523.8 245.4L522.8 246.4L521.5 247.2L520.1 248.1L518.6 248.8L516.8 249.4L514.7 249.7L514.1 250.9L513 251.5L511.2 252.4L509.5 253.3L508 254L506.5 254.5L505 254.8L503.8 255.6L501.8 256L500 256.8L498.7 256.7L497.2 257.1L496.6 255.9L496.5 254.4L495.8 253.1L495.6 250.9L494.8 249.6L494.2 248.1L493.4 246.7L492.6 245.2L491.3 243.9L490.2 242.5L488.8 240.6L488.5 238.7L488 236.7L487 235.8L485.8 235.1L485.2 233.5L484.4 232L483.3 230.7L482.1 229.5L481.1 227.5L481.1 225.5L480.8 227.1L480.2 228.5L479.7 229.1L478.2 227.5L477.7 226.1L476.9 224.9M476.3 222.5L477.9 222.6L479.3 222.2L480.1 221.1L481.1 220.1L481.6 218.6L482.1 217.1L482.9 215.8L483.1 213.5L483.6 212.6L481.4 212.2L479.5 213.2L478.1 213.1L476.6 213.4L475.3 212.7L473.8 212L472.5 212.7L471.1 213.1L469.4 213.3L468.7 211.5L467 210.6L466.2 209.1L465.6 207.5L465 206.2L467.3 205.6L468.7 205L469.5 205.3L470.1 203.4L472 203.7L473.9 203.9L475.6 202.8L477.6 202.5L479.5 202.3L481.3 202.3L482.7 203L484.1 203.6L486 204L487.9 204.2L489.3 204.1L490.7 204.3L492 203.6L493.6 203.2L493.6 201.2L492.2 200.3L490.6 199.6L489.4 198.5L488 197.6L485.6 196.7L484.2 196L485.6 195.3L487.1 194.7L488 193.4L489.4 193.1L487.7 192.9L486 192.9L484.1 193.3L482.3 194L481.2 195.1L482.8 195.2L484.1 195.8L482.2 196.9L480.4 197.9L478.4 197.8L477.5 196.6L476.7 196L478.5 194.8L477.1 194.5L475.8 193.6L473.9 193.8L472.8 195.1L471.6 196.3L470.4 197.1L469.4 198L468.5 200.1L468.2 201.3L468.5 203.6L470.2 204.2L468 203.4L466.4 204.7L465.1 205L464.5 204.8L463.2 204L461.8 204.4L460.4 205.7L458.3 205L459.1 206.6L459 208.1L460.4 208.3L460.7 209.5L460.3 210.1L458.4 210.8L459.2 213.3L457.7 212.3L456.2 211.7L456.4 209.5L455.7 207.7L453.9 206.8L452 205.5L451.9 203.4L451.4 202.1L450 201.2L448.6 200.6L447.2 200L446 199.2L444.1 197.6L443.1 196.4L441.9 196.7L441.6 195.6L440.3 195.7L439.2 196.1L438.8 197.7L439.4 198.8L441.5 199.4L442.4 201.5L443.6 202.1L445 202.4L446.3 202.7L445.9 203.4L447.6 204.4L449.2 204.8L450.5 205.7L449.6 206.2L447.8 205.1L446.9 206.6L447.8 207.7L446.9 209.1L446 209.8L445.2 209.4L446 207.9L445.4 205.9L443.6 205.1L442.6 204.3L440.4 203.6L438.7 202.8L436.3 201.7L435.4 200.5L435.2 198.5L433.7 198.3L432.3 197.6L431 199L429.6 199L427.5 200.5L425.3 199.9L423.4 199.4L422.2 200.3L421.9 201.5L421.9 202.3L420.1 203.3L418.7 203.8L417.3 204.4L416.2 206.6L415.6 206.9L416.2 208.1L414.8 209.7L414.6 210.8L412.6 211.4L411.7 212.2L409.7 212.1L407.9 212.4L406.8 213.1L405.5 213.5M507.6 195.1L509.3 194L511.2 193.6L513.1 193.4L514.9 193.9L515 196.4L513.4 196.5L511.9 196.8L511.2 197.5L510 197.9L510.7 199.1L511.8 200.1L513.2 200.5L514.5 201.4L514 203.2L515.7 204.4L515 206L516.4 207.5L516.1 209.2L516.5 210.7L514.8 211.3L513 212.1L511.4 211.7L509.9 211.2L507.2 210.7L507 208.7L508 207L508.4 205.1L507.5 203.7L506.5 202.4L505.4 201.6L504.8 200.4L504.8 199L504.7 197.6L503.4 197.3L504.7 195.9L506.2 195.6ZM525.4 195.9L526.2 194.9L527.1 193.8L528.5 193.6L529.9 193.5L531.1 194.8L531.1 196.2L530.8 197.7L529.4 198.5L527.9 199.5L526.1 198.5L525.2 197.2ZM553.2 196.2L554.6 195.5L555.6 194.4L556.9 193.8L558.6 193.6L560.2 193.6L561.8 193.5L563.6 193.9L562.5 194.3L560.7 194.4L558.8 194.3L557.1 194.9L555.5 195.7L554.1 197ZM609.8 184.5L611.4 183.5L612.9 182.4L614.6 182L615.9 180.8L617.7 180.4L618.9 179.2L619.8 177.9L620.9 176.7L620 177.9L619.6 179.5L618.3 180.3L617 181.2L616 182.3L614.8 183.1L613 184.1L611.1 184.7ZM405.4 187.3L407.4 187.2L409.4 186.6L411 186.7L412.6 186.4L414.1 185.7L415.6 185.8L417 185.3L418.6 184.9L417.5 184.6L418.4 183.5L419.2 182.3L417.9 182.1L416.4 181.8L415.5 180.1L414.6 178.8L413.2 178L412.3 176.1L410.4 176.2L411.7 174.9L412.3 173.5L410.4 173.6L408.8 173.4L410 171.4L408.3 171.1L406.4 171L405.2 172L404.1 173.6L406.2 175L406.3 176.4L406.6 178.1L408 178.3L409.9 178L410.8 180.2L410 181.5L408.1 181.2L408.2 183.2L406.2 184.4L408.3 184.4L410.4 184.8L409.1 185.6L407.7 185.6L406.1 185.9ZM397.3 184.6L399.2 184.2L401.1 184.2L402.8 184.1L404.5 183.3L404.4 180.7L405.7 178.6L403.9 177.8L402.3 177.6L401 177.8L400.2 179.3L398.8 179.5L397.5 179.5L398.8 181.6L398.1 183.2ZM436.5 132.3L438.1 133.3L439.5 134.5L440.6 135.9L442.2 136.8L444 137.1L445.9 137.3L447.8 137.9L449 136.7L450.6 136.1L452.5 135.7L454.2 134.9L456.1 134.6L454.6 133.9L453 133.6L451.4 133.2L452.2 132.1L453.3 131.4L451.5 131.4L449.6 131.2L447.7 131.5L445.9 131.4L444 131.5L442.1 131.6L440.3 132L438.4 132.2ZM449.6 131L451.2 131.2L452.8 130.7L454.4 131.1L456 130.9L457.6 130.7L459.2 130.8L460.8 130.5L462.7 130.6L464.5 131.3L466.4 131.4L464.5 131.7L462.7 132L460.8 132.1L458.9 132.5L457 132.8L455.2 132.3L453.3 132.3L451.5 132.1ZM512 147.4L513.6 148L514.9 148.9L516.8 149.1L518.7 148.9L520.5 148.9L522.4 148.9L523.1 147.7L523.4 146.2L522.2 145.4L520.8 144.7L519.5 143.6L521.2 143.2L522.7 142.4L524.3 141.8L525.8 141.2L527.2 140.3L528.6 139.6L530.1 138.9L531.8 139.2L533.3 138.1L534.9 137.9L536.6 138.5L538.1 138.1L539.7 137.2L541.4 137.8L543 137.1L541.1 137.2L539.3 137.5L537.6 137L536 137.5L534.4 137.5L532.7 137.2L531.1 137.7L529.5 137.8L528.1 138.9L526.5 138.9L525 139.2L523.6 139.9L522 139.7L520.6 140.4L519.2 142L517.8 143.6L515.9 144.6L513.8 145.2L513 146.3ZM501.9 130.1L503.5 130.1L505.1 130.1L506.7 130.3L508.2 130.8L509.9 130.9L511.4 131.1L513.1 130.8L514.7 130.8L516.4 130.6L518 130.9L519.7 130.8L521.4 130.8L523 130.7L524.7 130.8L526.3 130.6L528.2 130.9L529.1 129.6L530.7 129.7L531.7 128.5L530.1 129L528.5 128.6L526.8 128.3L525.2 128.3L523.6 128.2L521.9 128.3L520.3 128.2L518.6 127.8L517 128.3L515.4 128.3L513.7 128.4L512.1 128.7L510.5 129L508.8 128.9L507.2 129.3L505.6 129.3L503.8 130ZM593.3 133.2L594.9 133.6L596.5 133.2L597.9 134.4L599.6 133.7L601.1 134.6L602.7 134.3L604.5 135.2L606.4 134.7L608.3 134.9L610.1 134.5L610.2 132.1L608.7 131.7L607.1 131.8L605.6 131.5L604.3 130.4L602.6 130.9L600.9 129.6L598.9 130.1L597 129.9L595.3 129.6L593.6 129.2L592.1 129.5L590.7 130.6L589.2 130.7L587.8 131.1L589.4 132.5L591.4 132.8ZM671.9 138.4L673.8 139L675.4 140.3L677.3 140.2L679.2 141.1L681.1 140.5L682.9 140.4L684.8 140.8L686.7 140.3L688.5 140.5L690.4 139.9L692.3 140.6L694.1 139.7L696.1 139.4L694.1 139.9L692.3 138.9L690.5 138.5L688.5 139L686.6 139.3L684.8 138.8L682.9 138.4L681.1 138.9L679.2 138.4L677.4 139L675.5 138.7L673.6 138.5ZM677.3 143.4L679.2 143.8L681.1 143.3L683.1 143.5L681.2 143.2L679.1 142.6ZM749.2 147.8L752 147M79.9 147.3L81.8 147.7L83.7 147.8L82.4 148.2L80.9 148.4L80 148.4M752 148.4L749.2 147.8M681.7 179.5L682.8 181L683 182.7L684 184.3L683.5 185.8L683.2 187.7L684.6 188.3L685.7 189.2L684.4 189.7L683.1 189.6L683.5 191.4L683.7 193.2L682.3 194.7L681.4 193.5L681.3 192L680.8 190.5L681.1 188.9L681.6 187.3L680.7 185.5L681.2 183.7L681.1 182.3L680.6 180.5ZM677.6 203.1L678.9 201.6L679.9 200L680.6 198.1L680.7 195.9L681.5 197.3L683 197.8L684.4 197.8L685.8 198.4L687.6 198.5L687.6 200L685.6 200.4L683.8 201.3L682.9 202.3L681 202.3L679.2 201.4ZM680.3 203.3L680.4 205.2L681.4 207.2L680.1 208.3L679.3 209.8L679.1 211.6L678.7 213.4L677.4 215.7L675.1 216.3L673.4 215.5L671.9 216L670.4 216.8L669.8 217.9L668 216.3L666.2 216.8L664.3 217.1L662.3 216.6L660.2 217.2L660.5 216.3L662 215.4L663.3 214.1L665.2 214.3L667 213.9L668.5 214.2L669.9 214.1L670.5 212.6L671.4 211L672.6 211.6L673.9 210.5L675.1 209.6L676.2 207.8L677.7 206.1L677.9 204.2ZM660.2 217.7L662.5 219.2L661.3 220.4L661.5 221.9L660 222.3L659.1 220.9L658.2 219.2L659.3 217.5ZM663.4 217.5L665.2 216.7L667.3 216.9L666.9 218.6L665.5 218.9L664.3 219.5L663.1 218.5ZM642.6 233.8L643.6 235.1L642.8 236.5L642.4 238.1L641.7 239.6L640.5 237.8L641.1 236.2L641.3 234.4ZM618.8 244.6L620.6 244.2L621.9 243.8L623.6 244.7L622.2 245.3L621.4 246.3L619.5 246.1ZM688.5 197.6L691.3 196.3M693.2 195.8L696 194.5M699.7 193L701.6 191.1M705.3 188.3L707.2 186.4M565.2 262.5L566.7 264L567.8 265.3L568.4 266.6L568.2 269L566.1 269.4L565.4 268.1L564.9 266.7L564.8 264.6ZM641 245.9L642.5 246.5L643.9 246.4L644.6 248.1L644.4 250L643.2 251.7L643.4 253.7L644.8 254.5L646.1 255.4L647.1 256L647 256.8L645.9 255.8L644.7 255L643.3 255L642.1 254.9L641 252.9L640.5 251.6L640 250.3L640.4 248ZM643.7 263.1L644.9 264.2L646.7 264.9L648 263.2L649.7 262.8L651.9 263.9L652.3 265.5L651.7 266.9L651 268.2L650.3 269.2L648 269.3L647.4 266.7L645.7 266.8L644.6 267.6L644.4 265.7L644.3 264.3ZM647.9 257.7L650 257.9L650.3 259.8L649.3 261.6L648.7 259.6ZM643.6 259.1L645.8 259.2L645.2 260.7L646 262L645.1 262.7L643.3 261.1ZM638.6 259.3L638.1 260.7L638 262.2L636.1 263.1L634.7 264.7L635.5 263.4L636.6 262.4L637.6 260.8ZM640.9 255.7L642.1 256L642.4 257.6ZM619.6 278.1L620.7 276.8L622.4 276.8L623.9 276.4L625.4 275.6L627.3 275.1L628.6 273.6L629.7 271.8L630.8 270.3L632.7 269.6L633.8 268.9L634.5 267.5L635.6 269.2L636.7 270.3L637.9 270.6L637.6 272.2L636.3 272.7L636.3 275L636.6 277L638 278.7L636.9 279.7L635.4 280.1L635.4 282.6L634.4 284.1L633.4 285.4L632.6 288L631.2 287.6L630 288L628.3 287.6L627 287.2L624.6 287.3L623.3 286.3L621.6 285.9L621.5 283.4L620.2 281.6L619 279.8ZM593.9 270.5L596 270.1L597.7 271.2L599.2 271.9L600 273L600.9 274.8L602.8 275.3L604.7 276.5L605.7 278.2L607.2 278.9L607.9 280.1L609.3 280.7L609.8 282.6L610.7 284.5L612.5 285.2L613.3 286.3L614.1 288.1L613.2 289.8L613.5 291.9L611.1 291.5L609.4 291L608.3 289.8L607.7 288.2L605.9 287L604.8 285.2L603.4 284.1L602.5 282.6L601.5 281.2L601.2 279.4L600.8 277.6L599.2 276.5L597.9 275.2L597.4 273.6L596.3 272.4L595.1 271.3ZM612 293.1L613.8 291.9L615.4 292L616.8 293L618.5 292.7L620 293L621.4 292.9L622.9 292.5L624.6 293.1L626.3 293.8L627.9 294.8L629.7 295.1L629.5 297.1L628.1 296.1L626.5 297L625.1 295.8L623.2 295.7L621.3 295.5L619.5 295.3L618 294.7L616.4 294.3L614.9 294.3L613.7 293.7ZM639.2 278.7L641.5 278.1L643.6 278.1L645.8 279.4L647.6 278.7L649.7 277.9L648.4 279.8L646.8 279.8L645.1 280.4L643.5 279.9L641.6 279.6L641.1 281L640.6 282.1L642.8 282.9L644.5 282.1L646.1 282.2L645.2 283.2L643.6 284.3L644.6 285.5L645.1 287L646 288.1L645.2 290.2L644.2 289L643 289L642.6 287.4L642.1 286.1L641.3 287.3L640.7 289.1L640.7 290.6L639.4 291L638.9 289.1L638.7 287.5L638 285.9L638.9 284.6L638.6 282.9L639.7 281.6ZM630.8 295.6L632.1 296.8L630.5 297.3ZM632.6 296.1L633.9 296.7L633.4 297.1ZM634.1 296.9L636.1 295.9L638.4 296.2L638.1 296.6L636.3 297.7L634.2 297.6ZM639.8 296.3L641.6 295.8L643.4 296L645.4 296.2L645.2 297.3L643.5 296.6L641.7 297.4L639.7 297.2ZM638 298.9L639.8 298.7L641.4 298.8L640.1 299.6ZM646.8 300.2L647.8 298.5L649.2 297.1L650.8 297.4L652.1 296.7L653.4 296.3L652 297.7L650.1 298.5L648.4 300ZM653.8 278.8L654.5 276.8L655.6 277.7L656.5 278.9L655.4 280.4L654.7 282.1L654.8 280.3ZM651.1 286.1L652.7 286.5L653.1 287.7ZM654.9 285.9L656.7 286.7L658.4 286L660.3 286.6L659.1 287.2L657.8 287.2L656.4 286.4ZM660.6 282.4L661.9 281.7L663.2 281.8L664.9 281.4L666.4 282.2L666.1 283.8L666.2 285.8L667.6 286.3L669.1 287.2L670.4 286.2L671.3 284.8L672.5 284.4L674.2 284.6L676 284.5L677.6 285L679.1 285.9L680.9 285.9L682.6 286.3L684 287.7L685.7 287.8L686.9 289.1L688.1 290.6L689.5 291.6L691.7 292.2L690.2 293.6L691.5 294.3L692.3 295.6L693.4 296.7L694.3 298L695.6 298.9L696.9 299.6L695.5 299.9L694.2 299.8L692.2 299.4L690.7 298.1L689.4 297.1L688.2 296L686.8 295.7L685.2 295.5L683.7 296L682 297.9L680.6 297.3L679.4 297.3L677.5 296.5L675.4 295.4L673.4 296.5L674.5 295.3L674.7 294L674.6 292.3L673.7 290.7L672.1 290.2L670.4 290L668.8 289.6L667.4 288.7L665.9 288.1L664 288.2L663.9 286.3L661.8 285.5L662.8 284.9L661.6 283.6L660.7 283.3ZM692.8 291.5L694.9 290.9L697.1 291.2L698.2 289.3L699.7 288.5L699.8 291.2L698.1 292.3L696.1 292.3L694.2 292.2ZM697.6 285.3L699.3 285.9L700.7 287.2L701.6 289.1M704.8 291L707 293.4M708.1 293.2L710 294.5M711.9 294.9L714.3 296.4M714.1 298.1L716.2 299M716 296.4L717.1 298.4M717.1 299.7L719 300.9M727 308.1L728.1 310M728.1 310.6L729.2 311.5M730 313.4L730.5 313.9M722.1 318.2L723.4 319.2L725.1 319.7L726.2 321.3L727.6 322.5L725.8 321.7L724.8 320.7L723.6 320ZM747 313.3L749.4 313.5L748.1 314.8ZM749.8 311.7L751.8 311.1M681.7 300.8L683.1 302.3L683.7 304.1L684 305.7L684.4 307.4L685.9 307.8L687.1 308.8L688.1 310.5L688.5 312.4L688.9 314.3L689.2 315.9L690.6 317.2L692.2 318.1L693.2 319.3L694.2 320.5L695.1 321.8L696.2 323.2L697.6 324.4L698.9 326.1L700.4 327.5L701.1 329.3L701.7 331.2L702.4 332.5L702.2 333.8L702.5 335.5L701.9 337L701.8 338.7L701 340L700.2 341.3L699.3 342.5L698.5 343.8L697.8 345.4L697.1 347L696.5 348.6L696 350.3L694.2 350.9L692.2 351.1L690.7 352.4L689.1 353.5L687.6 352.9L686.2 351.9L685.2 352.7L683.8 353.3L682 352.6L680.2 352.1L678.9 351.2L677.5 350.7L677.1 349.2L676.5 347.7L674.1 347.2L674.7 345L673.6 343.8L673.4 342.3L673.2 343.8L672.5 345L671.8 346.9L670.7 346.2L669.4 345.7L668.7 344.5L667.9 343.4L666.2 341.9L664.4 340.9L662.4 340.5L660.5 340.3L658.7 339.9L656.8 340.2L654.9 340.4L653 340.6L651.2 341L649.4 341.9L647.7 342.4L646.5 344.2L644.7 343.8L642.8 344L640.9 344.2L639 344.7L637.6 345.3L636.3 346L634.4 345.7L632.4 345.9L630.4 344.6L631.2 343.5L631.6 342.3L631.6 340.9L631.8 339.6L631.1 338.2L630.9 336.6L630.3 335.3L630 333.8L629.1 331.9L627.8 330.2L628 328.3L627.8 326.4L628.5 324.6L629 322.8L629.6 321.2L630.8 320.5L632.1 319.9L633.5 319.4L635.3 318.9L637.1 318.3L639.1 318.3L641.1 317.8L642.3 316.2L643.5 314.6L644.2 312.7L646.7 313L647.3 310.7L648.8 309.7L650.3 308.8L651.8 308L653.1 306.8L654.1 307.6L655.3 308.2L657.6 308.5L658.2 307.2L658.1 305.9L659 304.7L660.2 303.9L661.7 303.3L663.2 303.2L663.9 301.8L665.2 302.4L666.6 303L668 303.6L669.7 303.4L671.6 303.6L670.5 304.6L670.1 306L669.4 307.3L669 308.6L670.8 309.7L672.6 310.7L674 311.4L675.1 312.5L676.4 313.5L678.8 313.4L679.3 311.4L680.4 309.7L680.3 308.1L680.1 306.5L680.4 304.9L681.1 303.1L681 301.1ZM686.1 356.6L687.7 357.2L689.5 357.6L691.2 357.3L692.7 357L693.1 359.6L691.4 361.8L689.9 361.5L688.7 362L687.6 361L686.8 359.7L686.4 358.2ZM738.2 345.1L740 346.1L741.3 347.6L742.3 348.5L743.5 349.1L744.5 351.1L746.4 350.7L748.5 350.8L749.2 352.8L747.6 353.4L746.6 354.5L745.4 355.7L744.9 357.1L742.5 358.4L742.9 357L742.5 355.9L741.6 354.9L740.2 353.9L742.1 352L742.1 350.7L741.9 349.2L740.3 348.4L739.5 346.9ZM738.4 356.3L739.8 357.4L741.4 358.2L740.6 359.3L739.8 360.6L738.8 361.4L738.1 362.7L736.7 363.5L735.2 364.1L734.9 365.4L734.3 366.6L732.5 367.4L730.6 367.5L728.6 367.3L726.9 366.5L728.3 364.9L729.6 363.2L731.1 362.2L732.8 361.7L734.1 360.7L735.6 359.4L736.9 358ZM728.9 368.1L730 368.6M439.2 210.1L441.1 209.7L443 209.4L445.2 209.5L444.4 210.8L444.2 212L442.3 211.4L440.1 211.2ZM431.3 204.1L432.6 204L433.8 204.2L434.1 205.8L433.9 207.5L432.2 207.9L431.7 206ZM432.1 200.9L434 200.6L433.9 201.9L433.6 203.1L432.5 202.9ZM459.9 214.5L461.6 214.5L463.2 214.5L464.9 214.6L463.3 214.9L462 214.8ZM476.3 215.5L477.7 215.2L479.1 214.9L480.3 214.1L478.9 215.6L477.6 215.8ZM420.7 206.5L422.2 206.4L421.6 207.4ZM384.6 227.9L385.8 227.9M386.5 228.4L387.6 228.4M389.3 227.3L390.4 227.3M382 227.1L383.1 227.1M370.6 250.8L371.8 250.8M371.6 252.7L372.7 252.7M368.4 249L369.5 249M367.8 210.1L369 210.1M363.2 208.6L364.3 208.6M364.7 208.5L365.8 208.5M383.7 219.7L384.8 219.7M519 320.1L520.2 320.1M523 318.6L524.1 318.6M496.5 302.5L497.6 302.5M498.3 303.5L499.4 303.5M499.8 304.6L500.9 304.6M515.9 257.4L517 257.4M545.2 372.7L546.3 372.7M346.7 382.1L347.9 382.1M294.5 220.4L295.6 220.4M551.5 274.2L552.6 274.2M552.1 280.7L553.2 280.7M552.6 269.5L553.8 269.5M588.7 257.4L589.8 257.4M588.9 259.2L590 259.2M590.5 267.3L591.7 267.3M727 281.6L728.1 281.6M94.9 306.5L96.1 306.5M93.6 306.1L94.7 306.1M136.4 313.6L137.5 313.6M88.4 320.3L89.5 320.3M685.7 255.5L686.9 255.5M687.4 252.3L688.5 252.3M666.5 266.9L667.6 266.9M710.7 267.8L711.9 267.8M117.7 239.6L118.8 239.6M86 362.8L87.1 362.8M486 368.2L487.1 368.2M560.1 351.3L561.2 351.3M392.5 350L393.6 350M404.8 310.6L405.9 310.6M388.6 295.4L389.7 295.4M427.8 280.1L428.9 280.1M429.3 277.7L430.4 277.7M431.7 274.2L432.8 274.2M544.3 372.6L545.9 372.1L547.4 372L546.7 373.5L544.9 373.2ZM345.1 381.5L348.8 382.4M475.1 281.5L476.7 280L478.1 280.1L479.6 280.3L480.1 282.7L479.2 283.8L478.5 284.7L476.4 285.5L475.6 283.5ZM470.5 287.1L470.9 288.6L471.2 290.1L472 292L473.1 293.7L473.5 295.2L473.8 296.8L472.5 294.8L471.8 293.2L471.3 291.5L471.2 290L470.7 288.5ZM479.3 298.7L479.9 300L480.4 301.3L480.6 303.1L480.9 305L481.5 307.5L481.2 306.1L480.3 305L480.2 303.1L479.8 301.2L479.7 299.9ZM482.7 272.4L483.5 273.7L483.6 275.1L484.1 276M441.2 255.6L443 255.9L442.8 256.7L441.3 256.6ZM473.1 169.1L473.4 167.7L473.9 167.2L475.5 165.4L477.4 166.1L477.3 168.1L475.9 168.2L474.7 169.9ZM480.6 166.8L481.5 165.5L481.7 164.3L483.9 165.4L482.8 166.9ZM439.5 171.5L440.7 170.9L441.3 169.7L440.9 171ZM207.8 171L209.4 170.6L210.9 170.1L212.5 170.1L214.1 169.8L215.6 169.9L217.2 169.7L215.6 170.1L214.1 170.3L212.5 170.5L211 170.7L209.4 170.8ZM224.2 172.5L225.8 174.5L224.7 175.2M205.4 203L206.6 204.5M202.1 212.9L202.8 213.5M192.4 207.3L192.7 205.8M285.5 309.4L287.2 311.3M558.8 201.6L562 201.4M601.7 211.4L603.8 212M499.6 204.9L500.9 205.7M495.9 208.3L497.2 209M500.4 209.8L501.3 211.1M161.4 171.3L162.4 172.2L162.7 173.7L164 174.3L165 175.1L165.5 176.7L165.9 178.6L168.5 178.5L166.4 177.3L166.3 175.4L164.3 175.3L163 174.5L162.3 173.2ZM173.9 180.5L174.3 181.9L175.7 182.4L176.7 183.2L174.7 183.4L175.3 181.2ZM236 139.2L237.5 140.9L239.2 139.7L241.8 139.2L239.8 140L238.4 138L237.1 138.5ZM221.8 133.6L223.8 132.8L225.7 132.2L227.5 132.8L228.5 134.1L230.2 136.1L228.4 134.8L226.5 134.8L224.7 134.5L222.1 135.1ZM233.2 132.8L235.1 132.9L235.9 133.5L235.8 135.7L234.5 134.8L233.2 134.9ZM204.1 133.5L205.7 133L207.3 132.8L209.1 134.7L211.3 133.2L211.5 133.6L209.8 135.2L207.8 134.4L205.6 135.9ZM205.1 136.2L206.6 134.8L208.2 135L209.7 135.3L210.7 137.3L208.8 137L207.3 135.8ZM264.8 142.6L266.7 142.9L268.5 143.9L270.6 142.7L272.1 143.2L273.3 145.1L271.7 144.8L270.1 145L268.7 144.5L266.6 144ZM271.4 154.6L273.1 152.5L274.7 153.2L274.5 154.3L272.5 155ZM261.1 163L262.5 163.4L264 163.9L262.4 164.4ZM263.3 181.5L265.4 182.4L263.7 182.4ZM266.7 174.3L268.2 176L267 176.2M218 143.6L219.5 143.7L221.5 144.3L218.5 145.7ZM245.2 135.5L247.1 136.1L248.5 135.4L247.1 137ZM223.7 138.5L226.5 139.4M231.2 140.3L234 139.8M257.3 136L261.1 135.5M267.6 140.5L270.4 139M212.5 145.9L216.3 146.7M201.3 147.6L206 148.2M192 143.5L194.8 144.1M363.6 148.4L365.5 148.4L367.5 149L369.3 148.5L371.3 147.6L369.5 147L367.5 147.8L369 146.5L370.8 147.7L372.4 146.9L374 146.7M318.9 151.5L320.3 151.2L322.1 151.1L319.9 150M313.3 149.5L318.9 148.4M374.9 143.5L367.5 144.1M378.7 137.9L371.2 137.3M313.9 151L314.7 149.9L316.3 149.1L317.3 150.6L319 150.5L317.1 151L315.7 152ZM434.7 177.1L436.2 177.4L435.5 178.2ZM436.9 176.8L439.4 176.4L438.7 178.1L437.4 177.6ZM450 172.6L452 173.2L450.1 174.4ZM446.8 175.6L447.7 173.7M457 171.6L458.9 171.5L456.8 172.9ZM457.4 170.6L458.9 170.8M612.4 283.7L613.4 284.8L614.8 285.3L613.6 286.5L613.1 285ZM617 285.7L618 286.5M597.4 278.1L598.6 279.4M600.1 282.6L601.2 284.1M602.7 285.6L603.6 286.7M644.7 289.5L645.6 291M648 283.9L649.9 284.2M654.2 281.3L654.7 282.4M666.5 291.3L667.3 293M661.1 294.7L661.8 295.6M657.7 295.4L660.5 296M295 246.6L296.7 246.9L298.5 246.9L299.4 248.2L300.4 249.1L301 250.4L301.4 251.8L302.2 253.6L301.7 255.4L301.7 256.8L301.2 257.9L301.4 260.4M278.8 241.6L280.3 241L281.7 239.8L282.9 240.6M273.3 235.4L275.2 236.6L276.9 238.1M277.7 358.7L278.3 360.1L277.5 360.6L279.3 361.8L278.9 359.5ZM275.3 362L275.7 364.8L274.5 365.7L275.5 366.6L274.1 369.1L275.6 370.9L274.6 372.2L274.7 373.6L273.8 375.3L275.6 377.4L276.3 380.3L278 380.3L279.8 380.1L280 382.2L281.9 381.5L282.5 384.1L284.4 383.4L286 383.2L287.1 385.5L288.6 383.9L289.9 384.7L288 384.2L286.4 382.8L284 383.7L282.4 382.1L280.6 381.7L280.3 379.4L277.7 379.8L277.8 377.7L276.4 376.4L276.4 374.6L276.5 373.2L276.7 372L275.9 370L276.7 369.2L275.9 367.9L277.5 366.7L276.1 364.6L276.8 364.4ZM121.1 175.6L119.1 176.1L117.1 176.2L115.7 178.3L113.7 178.6L112.3 179L110.8 178.6M129.4 170.4L128.3 171.4L127.1 172.2L125.4 172.1L123.7 173.5L122 174.7M225.3 134.2L223.5 134.1L221.9 136L219.2 136.2L220.7 136.2L222.9 135.7L225.3 138L226 136.9ZM264.7 134L267.4 134.9L265.6 134.8L263.9 133.1L261.5 133.5L260.9 134.8L263 135.1ZM204.7 139.7L205.4 140.6L206.6 140.7L207.4 140.1L207.2 140.4L206.7 140ZM186.8 134.3L188 135.1L189.6 136.5L191 136L192.6 133.6L190.1 133.7L188.8 134.5ZM265.8 132.3L263.7 132.5L262.4 132.6L264.2 134.4ZM220.7 138.3L221.3 138.5L219.6 138.3L217.9 137.9L216 137.6L215.3 137.3L216.9 139.4L218.9 139.1L220.9 138.7ZM191.7 140.1L190.9 141.8L193 140.2L194.4 141.3L195.9 141.8L198 140.4L196.4 140.3L194.8 141.1L193.3 139.3ZM258.6 140.7L259.3 141.5L261.1 141.9L262.9 143L264.5 141.1L266.1 141.8L266.1 140L264.3 138.9L262.8 140.7L260.9 139.8ZM207.5 141L208.7 142L210.2 142.5L211.6 141L213.1 141.2L214.1 142.4L213.5 141.7L212.1 142.2L210.8 141.9L209.1 141.4ZM214.6 136.9L214.4 137.1L212.8 135.9L211.2 135L209.5 135.9L207.7 136.1L208.6 137.7L210.1 136.9L211.6 136.2L213.2 136.9ZM191.3 135.2L189 133.7L187.9 135.2L186.6 134.4L186.8 136.4L188.7 136.8L191 136.6L192.8 134.9ZM254.6 131.7L257.1 131.2L256.5 128.6L254.9 129.7ZM215.5 134.3L217.4 133.5L218.9 133.6L221 134.6L222.8 133.3L221.4 132.4L220 132L218.2 132.3L217.2 133.8ZM223.8 130.3L225.8 132L228.7 131.4L227.9 131.4L226.5 131.8L225.7 131.7ZM205.3 140.3L204 139L203.6 140.2L201.7 140.6L202.9 141.2L204.1 142.7L206.7 141.2ZM219.6 135.6L218.3 134.1L218.6 136.6L220.9 137.1L222.3 135.8L222.7 135.2L221.8 134.2ZM252.3 130.6L251.9 130L250.5 129.6L249.2 129.5L249.9 129.4L250.9 129.8ZM239.1 133.3L237.5 133.3L235.9 131.8L233.4 133.5L235.5 134L237.2 135.1L239.4 134.4ZM263.3 136.8L261.5 136.7L259.9 137.7L257.8 138.2L259.7 137.7L261.3 136.9L263 137L264.8 138.2L266.3 137.8L265 136.5ZM214.3 142.3L214.6 144.5L216.7 144.3L218.4 143.7L216.8 141.6L214.9 141.9ZM242.7 132.6L244.4 132L246 129.9L243.8 130.5L242.6 130.1L240.3 129.6L238.7 130.8L240.9 130.6ZM243.5 130.9L245.1 130.2L243.5 130.8L242.5 129.2L240.5 130.3L238.5 130.4L237.1 130.4L235.7 130.7L237.4 131.7L239.3 130.6L241 132.2L242.4 130.9ZM220.8 148.6L221.2 149.9L222.4 150.1L223.8 149.9L226.2 148.5L224.9 149.5L223.6 149.2L222.3 148.3ZM241.8 147L239.9 147L238.6 146.3L240.2 148.1L242.9 146.8ZM219.3 145.7L217.5 145L215.4 145.4L213.8 146.3L215.9 147.1L217.7 147.9L218.4 147.4ZM217.8 152.2L216.4 152.5L214.8 151.8L216.5 153.5ZM202 152.5L205.5 153.5L204.6 151.2L202.2 152.1ZM200.4 147.5L201.1 147.9L201.9 146.8L200.2 146.6L199.6 147.2ZM228.8 147.4L230 147.2L231.5 146.4L230.4 146.6L230.1 146.3L228.9 145.9ZM223.2 146.9L223.7 146.6L222.1 145.6L221.1 146.2L220 146.3L221.6 146.8ZM80 429.3L81.8 429.4L83.6 429.2L85.4 429.3L87.2 429.6L89 429.7L90.8 429.6L92.6 429.3L94.2 429.3L95.8 429.1L97.4 428.7L99 428.3L100.7 428.6L102.3 428.3L103.9 427.5L105.5 427.5L107.1 427.3L108.7 426.9L110.3 426.5L112 426.6L113.6 426.4L115.3 425.9L117 425.5L118.8 425.4L120.5 425L122.3 425.2L123.9 424.5L125.7 424.3L127.5 424.4L129.1 423.8L130.9 423.5L132.6 423.2L134.3 423L136.1 423L137.8 422.9L139.5 422.3L141.2 422.1L143 422.2L144.7 421.8L146.5 421.6L148.2 421.2L150 421.1L151.8 421.4L153.5 420.7L155.2 420.6L157 420.7L158.8 420.7L160.5 420.5L162.2 420.1L164 420.2L165.8 419.9L167.5 419.6L169.2 419.7L171 419.7L172.8 419.7L174.5 419.3L176.2 419.2L178 419.6L179.7 419L181.5 419.4L183.2 419L185 418.9L186.8 419L188.5 419.2L190.2 419.6L192 419.1L193.7 419.6L195.5 419.4L197.3 419.4L199 419.8L200.8 419.6L202.5 419.6L204.2 419.8L206 420.1L207.6 420.4L209.4 420.4L211.1 420.4L212.7 421.1L214.4 421.2L216 421.1L217.6 420.8L219.1 420.1L220.7 420.1L222.3 419.8L223.8 419.1L225.4 418.9L227 418.6L228.7 418.4L230.5 418.3L232.2 418L234 417.9L235.8 418.2L237.5 417.7L239.3 417.7L241 417.8L242.8 417.5L244.5 417.1L246.3 417.4L248 417.1L249.7 417.2L251.4 416.9L253 416.9L254.7 416.8L256.4 416.4L258.1 416.5L259.8 416.3L261.4 416.5L263.1 416L264.8 416.1L266.5 416.2L268.1 416.6L269.8 416.5L271.5 417L273.4 417.1L274.4 415.7L275.1 414.1L276.6 413L277.4 411.6L279.1 411.2L280.8 410.7L282.4 410L284.2 410L285.8 409.4L287.2 408.7L288.6 407.9L290.1 407.5L291.5 406.8L292.9 406.1L294.1 405L295.6 404.4L296.9 403.7L298.3 402.9L299.7 402.3L301.1 401.4L302.6 401.2L304.2 400.4L305.9 399.9L307.6 399.5L309.4 399.5L311.1 399.1L309.4 400L307.9 401L306.2 401.9L304.4 403L304.2 404.8L303.4 406.4L302.7 408.1L302.4 409.8L301.5 411.5L301.4 413.2L301.4 414.9L300.8 416.5L300.7 418.2L300.6 419.7L301.9 420.6L303.2 421.5L304.7 422L306.4 422.3L308.2 422.6L309.9 423.3L311.7 423.5L313.5 423.6L315.2 424L316.9 424.3L318.5 425L320.2 425.1L322 425.1L323.6 425.8L325.3 425.6L326.9 426.2L328.6 426.4L330.3 426.9L332 427L333.7 426.6L335.5 426.6L337.3 426.5L339 426.2L340.7 425.7L342.5 425.4L344.3 425.5L346 425.3L347.7 424.7L349.5 424.8L351.3 424.6L353 424.1L354.6 423.6L356.3 423.4L357.9 423.1L359.4 422.2L361 421.9L362.7 421.5L364.3 421.3L365.9 420.6L367.5 420.3L369.1 419.9L370.8 419.6L372.3 418.9L374 418.9L375.7 418.6L377.2 418L378.9 417.8L380.4 417.2L382.1 417.3L383.7 416.7L385.3 416.5L387 416.3L388.5 415.7L390.2 415.7L391.7 414.9L393.3 414.5L395 414.4L396.7 414.4L398.3 414L399.9 413.7L401.5 413.2L403.1 413.1L404.7 412.5L406.3 412L407.9 411.9L409.6 411.7L411.1 411.2L412.8 410.9L414.3 410.4L416 410.1L417.7 410.3L419.4 410.5L421 410.6L422.7 410.5L424.4 410.6L426.1 410.9L427.7 411.3L429.4 411.4L431.1 411.2L432.8 411.4L434.5 411.4L436.1 411.1L437.8 411.3L439.5 411.4L441.2 410.9L442.9 411L444.6 411L446.2 411L447.9 410.9L449.6 410.8L451.3 410.6L453 410.9L454.6 411L456.3 410.6L458 411.1L459.7 410.9L461.4 410.7L463 410.7L464.7 411.2L466.4 411.2L468.2 410.6L470 410.6L471.8 410.4L473.6 410.4L475.4 409.8L477.2 409.8L479 409.2L480.8 409.3L482.6 409.4L484.4 409.7L486.2 410L488 409.9L489.8 409.9L491.5 410.1L493.1 409.5L494.7 409.1L496.3 408.7L497.9 408.4L499.4 407.7L501 407.4L502.6 406.9L504.3 406.7L505.9 406L507.8 405.9L509.4 405.2L511.2 404.6L513 404.4L514.7 403.7L516.5 404.1L518.2 404.4L519.9 405.1L521.6 405.6L523.5 405.6L525.2 406L526.9 406.2L528.6 406.5L530.2 406.9L531.9 407L533.6 407.1L535.2 407.8L537 407.8L538.7 407.8L540.3 408.5L542 408.7L543.6 408.7L545.3 409.1L546.9 409.5L548.5 409.4L550.2 409.7L551.8 409.8L553.4 410.2L555.1 410.5L556.7 410.8L558.4 410.3L559.8 409.3L561.4 408.9L563.1 408.5L564.6 407.9L566.2 407.2L567.8 406.7L569.3 405.9L571 406.1L572.6 405.7L574.2 405.4L575.8 405.1L577.4 404.9L579.1 405.2L580.8 404.9L582.3 404.3L584 404.3L585.8 404.2L587.6 404L589.4 403.7L591.2 403.9L593 403.4L594.8 403.3L596.6 403.4L598.4 403.2L600.2 403.1L602 403L603.8 403L605.6 403.2L607.4 403.3L609.2 403L610.8 403.3L612.4 403.6L613.9 403.8L615.5 404.4L617.1 404.4L618.7 404.5L620.2 404.8L621.8 405.4L623.6 404.9L625.4 405.1L627.2 404.6L629 404.5L630.8 404.3L632.6 404.7L634.4 404.1L636.2 404.3L638 404.3L639.8 404.6L641.6 405L643.4 405.1L645.2 405.3L647 405.5L648.8 405L650.6 405.1L652.4 404.4L654.2 404.7L656 404.3L657.8 403.9L659.6 404.1L661.4 404L663.1 403.6L664.8 403.3L666.6 403.6L668.4 403.4L670.1 403.2L671.7 403.7L673.4 403.5L675 403.8L676.7 404.2L678.3 404.5L679.9 405.2L681.5 405.5L683.2 405.5L684.8 405.8L686.5 406.1L688.1 406.6L689.8 406.9L691.5 407.3L693.2 407.2L694.8 407.8L696.6 407.8L698.2 408L699.9 408.2L701.6 408.4L703.2 409.1L704.9 409.4L706.6 409.6L708.3 409.5L710 409.8L711.7 410.1L713.4 410.5L715 411.1L716.8 410.9L718.4 411.5L720 412L721.7 412L723.3 412.6L724.9 413.2L726.6 413.4L728.2 413.7L729.8 414.3L731.4 414.5L733.2 414.8L734.2 416.3L735.1 417.5L733.4 417.9L731.6 418.3L729.9 418.8L728.2 419.4L726.5 419.7L724.7 419.9L723.2 421.2L722.1 422.9L720.4 424.3L722.1 424.7L723.9 424.9L725.6 425.1L727.2 426L728.9 426.1L730.5 426.5L732.2 426.7L733.8 427.1L735.5 427.1L737.1 427.7L738.8 427.9L740.4 428.1L742.1 428.2L743.8 428.2L745.4 428.5L747.1 428.7L748.7 429.3L750.3 429.5L752 429.6" fill="none" stroke="#000" stroke-width="1.5" stroke-linejoin="round" shape-rendering="crispEdges"/>
<path d="M80.00 112v8M80.00 448v-8M98.67 112v5M98.67 448v-5M117.33 112v5M117.33 448v-5M136.00 112v5M136.00 448v-5M154.67 112v5M154.67 448v-5M173.33 112v5M173.33 448v-5M192.00 112v8M192.00 448v-8M210.67 112v5M210.67 448v-5M229.33 112v5M229.33 448v-5M248.00 112v5M248.00 448v-5M266.67 112v5M266.67 448v-5M285.33 112v5M285.33 448v-5M304.00 112v8M304.00 448v-8M322.67 112v5M322.67 448v-5M341.33 112v5M341.33 448v-5M360.00 112v5M360.00 448v-5M378.67 112v5M378.67 448v-5M397.33 112v5M397.33 448v-5M416.00 112v8M416.00 448v-8M434.67 112v5M434.67 448v-5M453.33 112v5M453.33 448v-5M472.00 112v5M472.00 448v-5M490.67 112v5M490.67 448v-5M509.33 112v5M509.33 448v-5M528.00 112v8M528.00 448v-8M546.67 112v5M546.67 448v-5M565.33 112v5M565.33 448v-5M584.00 112v5M584.00 448v-5M602.67 112v5M602.67 448v-5M621.33 112v5M621.33 448v-5M640.00 112v8M640.00 448v-8M658.67 112v5M658.67 448v-5M677.33 112v5M677.33 448v-5M696.00 112v5M696.00 448v-5M714.67 112v5M714.67 448v-5M733.33 112v5M733.33 448v-5M752.00 112v8M752.00 448v-8M80 112.70h5M752 112.70h-5M80 131.37h8M752 131.37h-8M80 150.03h5M752 150.03h-5M80 168.70h5M752 168.70h-5M80 187.37h5M752 187.37h-5M80 206.03h8M752 206.03h-8M80 224.70h5M752 224.70h-5M80 243.37h5M752 243.37h-5M80 262.03h5M752 262.03h-5M80 280.70h8M752 280.70h-8M80 299.37h5M752 299.37h-5M80 318.03h5M752 318.03h-5M80 336.70h5M752 336.70h-5M80 355.37h8M752 355.37h-8M80 374.03h5M752 374.03h-5M80 392.70h5M752 392.70h-5M80 411.37h5M752 411.37h-5M80 430.03h8M752 430.03h-8M80 448.70h5M752 448.70h-5" stroke="#000" stroke-width="1" fill="none" shape-rendering="crispEdges"/>
<rect x="80.5" y="112.5" width="672" height="336" fill="none" stroke="#000" stroke-width="1" shape-rendering="crispEdges"/>
<g font-family="'Liberation Serif',serif" fill="#000" stroke="#000" stroke-width="0.3">
<text x="416.8" y="81" font-size="31.85" text-anchor="middle">Moisture Stress in Layer 1 (%)</text>
<text x="416.6" y="101.7" font-size="18.2" text-anchor="middle">022kyr BP</text>
<text x="79.5" y="108.5" font-size="18.1">Expt = tdwtw</text>
<text x="755" y="106" font-size="18.5" text-anchor="end">DJF</text>
<text x="71.5" y="136.3" font-size="16" text-anchor="end">80N</text>
<text x="71.5" y="210.9" font-size="16" text-anchor="end">40N</text>
<text x="71.5" y="285.6" font-size="16" text-anchor="end">0</text>
<text x="71.5" y="360.3" font-size="16" text-anchor="end">40S</text>
<text x="71.5" y="434.9" font-size="16" text-anchor="end">80S</text>
<text x="80.0" y="469.6" font-size="15.7" text-anchor="middle">180</text>
<text x="192.0" y="469.6" font-size="15.7" text-anchor="middle">120W</text>
<text x="304.0" y="469.6" font-size="15.7" text-anchor="middle">60W</text>
<text x="416.0" y="469.6" font-size="15.7" text-anchor="middle">0</text>
<text x="528.0" y="469.6" font-size="15.7" text-anchor="middle">60E</text>
<text x="640.0" y="469.6" font-size="15.7" text-anchor="middle">120E</text>
<text x="752.0" y="469.6" font-size="15.7" text-anchor="middle">180</text>
<text x="149.2" y="522" font-size="18.5" text-anchor="middle">10</text>
<text x="216.0" y="522" font-size="18.5" text-anchor="middle">20</text>
<text x="282.8" y="522" font-size="18.5" text-anchor="middle">30</text>
<text x="349.6" y="522" font-size="18.5" text-anchor="middle">40</text>
<text x="416.4" y="522" font-size="18.5" text-anchor="middle">50</text>
<text x="483.2" y="522" font-size="18.5" text-anchor="middle">60</text>
<text x="550.0" y="522" font-size="18.5" text-anchor="middle">70</text>
<text x="616.8" y="522" font-size="18.5" text-anchor="middle">80</text>
<text x="683.6" y="522" font-size="18.5" text-anchor="middle">90</text>
</g>
<rect x="82.4" y="492" width="66.9" height="13" fill="#8e8e8e"/>
<rect x="149.2" y="492" width="66.9" height="13" fill="#ff6600"/>
<rect x="216.0" y="492" width="66.9" height="13" fill="#bfff00"/>
<rect x="282.8" y="492" width="66.9" height="13" fill="#66ff00"/>
<rect x="349.6" y="492" width="66.9" height="13" fill="#00ff66"/>
<rect x="416.4" y="492" width="66.9" height="13" fill="#00ffbf"/>
<rect x="483.2" y="492" width="66.9" height="13" fill="#0099ff"/>
<rect x="550.0" y="492" width="66.9" height="13" fill="#0033ff"/>
<rect x="616.8" y="492" width="66.9" height="13" fill="#4000ff"/>
<rect x="683.6" y="492" width="66.9" height="13" fill="#8000ff"/>
<path d="M149.2 492v13M216.0 492v13M282.8 492v13M349.6 492v13M416.4 492v13M483.2 492v13M550.0 492v13M616.8 492v13M683.6 492v13" stroke="#000" stroke-width="1" fill="none" shape-rendering="crispEdges"/>
<rect x="82.5" y="492.5" width="668" height="13" fill="none" stroke="#000" stroke-width="1" shape-rendering="crispEdges"/>
</svg>
</body></html>
